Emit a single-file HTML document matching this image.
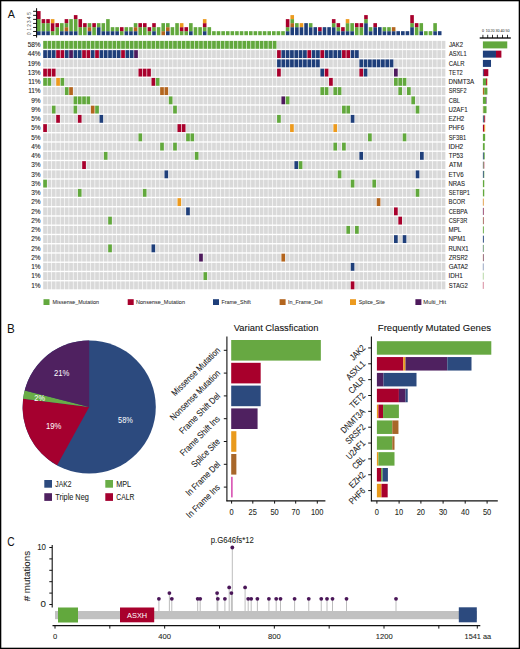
<!DOCTYPE html><html><head><meta charset="utf-8"><style>html,body{margin:0;padding:0;background:#fff;}svg{display:block;}</style></head><body>
<svg width="520" height="649" viewBox="0 0 520 649" font-family='"Liberation Sans", sans-serif'>
<style>text{stroke-width:0.08px;paint-order:stroke;} text[fill="#fff"]{stroke-width:0px} </style>
<rect x="0" y="0" width="520" height="649" fill="#fff"/>
<text x="7.77" y="17.9" font-size="11.8" fill="#111" stroke="#111" textLength="7.15" lengthAdjust="spacingAndGlyphs" style="stroke-width:0">A</text>
<rect x="43.2" y="40.9" width="3.72" height="7.9" fill="#62a83d"/>
<rect x="47.53" y="40.9" width="3.72" height="7.9" fill="#62a83d"/>
<rect x="51.86" y="40.9" width="3.72" height="7.9" fill="#62a83d"/>
<rect x="56.19" y="40.9" width="3.72" height="7.9" fill="#62a83d"/>
<rect x="60.52" y="40.9" width="3.72" height="7.9" fill="#62a83d"/>
<rect x="64.86" y="40.9" width="3.72" height="7.9" fill="#62a83d"/>
<rect x="69.19" y="40.9" width="3.72" height="7.9" fill="#62a83d"/>
<rect x="73.52" y="40.9" width="3.72" height="7.9" fill="#62a83d"/>
<rect x="77.85" y="40.9" width="3.72" height="7.9" fill="#62a83d"/>
<rect x="82.18" y="40.9" width="3.72" height="7.9" fill="#62a83d"/>
<rect x="86.51" y="40.9" width="3.72" height="7.9" fill="#62a83d"/>
<rect x="90.84" y="40.9" width="3.72" height="7.9" fill="#62a83d"/>
<rect x="95.17" y="40.9" width="3.72" height="7.9" fill="#62a83d"/>
<rect x="99.5" y="40.9" width="3.72" height="7.9" fill="#62a83d"/>
<rect x="103.83" y="40.9" width="3.72" height="7.9" fill="#62a83d"/>
<rect x="108.17" y="40.9" width="3.72" height="7.9" fill="#62a83d"/>
<rect x="112.5" y="40.9" width="3.72" height="7.9" fill="#62a83d"/>
<rect x="116.83" y="40.9" width="3.72" height="7.9" fill="#62a83d"/>
<rect x="121.16" y="40.9" width="3.72" height="7.9" fill="#62a83d"/>
<rect x="125.49" y="40.9" width="3.72" height="7.9" fill="#62a83d"/>
<rect x="129.82" y="40.9" width="3.72" height="7.9" fill="#62a83d"/>
<rect x="134.15" y="40.9" width="3.72" height="7.9" fill="#62a83d"/>
<rect x="138.48" y="40.9" width="3.72" height="7.9" fill="#62a83d"/>
<rect x="142.81" y="40.9" width="3.72" height="7.9" fill="#62a83d"/>
<rect x="147.14" y="40.9" width="3.72" height="7.9" fill="#62a83d"/>
<rect x="151.48" y="40.9" width="3.72" height="7.9" fill="#62a83d"/>
<rect x="155.81" y="40.9" width="3.72" height="7.9" fill="#62a83d"/>
<rect x="160.14" y="40.9" width="3.72" height="7.9" fill="#62a83d"/>
<rect x="164.47" y="40.9" width="3.72" height="7.9" fill="#62a83d"/>
<rect x="168.8" y="40.9" width="3.72" height="7.9" fill="#62a83d"/>
<rect x="173.13" y="40.9" width="3.72" height="7.9" fill="#62a83d"/>
<rect x="177.46" y="40.9" width="3.72" height="7.9" fill="#62a83d"/>
<rect x="181.79" y="40.9" width="3.72" height="7.9" fill="#62a83d"/>
<rect x="186.12" y="40.9" width="3.72" height="7.9" fill="#62a83d"/>
<rect x="190.45" y="40.9" width="3.72" height="7.9" fill="#62a83d"/>
<rect x="194.79" y="40.9" width="3.72" height="7.9" fill="#62a83d"/>
<rect x="199.12" y="40.9" width="3.72" height="7.9" fill="#62a83d"/>
<rect x="203.45" y="40.9" width="3.72" height="7.9" fill="#62a83d"/>
<rect x="207.78" y="40.9" width="3.72" height="7.9" fill="#62a83d"/>
<rect x="212.11" y="40.9" width="3.72" height="7.9" fill="#62a83d"/>
<rect x="216.44" y="40.9" width="3.72" height="7.9" fill="#62a83d"/>
<rect x="220.77" y="40.9" width="3.72" height="7.9" fill="#62a83d"/>
<rect x="225.1" y="40.9" width="3.72" height="7.9" fill="#62a83d"/>
<rect x="229.43" y="40.9" width="3.72" height="7.9" fill="#62a83d"/>
<rect x="233.76" y="40.9" width="3.72" height="7.9" fill="#62a83d"/>
<rect x="238.1" y="40.9" width="3.72" height="7.9" fill="#62a83d"/>
<rect x="242.43" y="40.9" width="3.72" height="7.9" fill="#62a83d"/>
<rect x="246.76" y="40.9" width="3.72" height="7.9" fill="#62a83d"/>
<rect x="251.09" y="40.9" width="3.72" height="7.9" fill="#62a83d"/>
<rect x="255.42" y="40.9" width="3.72" height="7.9" fill="#62a83d"/>
<rect x="259.75" y="40.9" width="3.72" height="7.9" fill="#62a83d"/>
<rect x="264.08" y="40.9" width="3.72" height="7.9" fill="#62a83d"/>
<rect x="268.41" y="40.9" width="3.72" height="7.9" fill="#62a83d"/>
<rect x="272.74" y="40.9" width="3.72" height="7.9" fill="#62a83d"/>
<rect x="277.07" y="40.9" width="3.72" height="7.9" fill="#d9d9d9"/>
<rect x="281.41" y="40.9" width="3.72" height="7.9" fill="#d9d9d9"/>
<rect x="285.74" y="40.9" width="3.72" height="7.9" fill="#d9d9d9"/>
<rect x="290.07" y="40.9" width="3.72" height="7.9" fill="#d9d9d9"/>
<rect x="294.4" y="40.9" width="3.72" height="7.9" fill="#d9d9d9"/>
<rect x="298.73" y="40.9" width="3.72" height="7.9" fill="#d9d9d9"/>
<rect x="303.06" y="40.9" width="3.72" height="7.9" fill="#d9d9d9"/>
<rect x="307.39" y="40.9" width="3.72" height="7.9" fill="#d9d9d9"/>
<rect x="311.72" y="40.9" width="3.72" height="7.9" fill="#d9d9d9"/>
<rect x="316.05" y="40.9" width="3.72" height="7.9" fill="#d9d9d9"/>
<rect x="320.38" y="40.9" width="3.72" height="7.9" fill="#d9d9d9"/>
<rect x="324.72" y="40.9" width="3.72" height="7.9" fill="#d9d9d9"/>
<rect x="329.05" y="40.9" width="3.72" height="7.9" fill="#d9d9d9"/>
<rect x="333.38" y="40.9" width="3.72" height="7.9" fill="#d9d9d9"/>
<rect x="337.71" y="40.9" width="3.72" height="7.9" fill="#d9d9d9"/>
<rect x="342.04" y="40.9" width="3.72" height="7.9" fill="#d9d9d9"/>
<rect x="346.37" y="40.9" width="3.72" height="7.9" fill="#d9d9d9"/>
<rect x="350.7" y="40.9" width="3.72" height="7.9" fill="#d9d9d9"/>
<rect x="355.03" y="40.9" width="3.72" height="7.9" fill="#d9d9d9"/>
<rect x="359.36" y="40.9" width="3.72" height="7.9" fill="#d9d9d9"/>
<rect x="363.69" y="40.9" width="3.72" height="7.9" fill="#d9d9d9"/>
<rect x="368.03" y="40.9" width="3.72" height="7.9" fill="#d9d9d9"/>
<rect x="372.36" y="40.9" width="3.72" height="7.9" fill="#d9d9d9"/>
<rect x="376.69" y="40.9" width="3.72" height="7.9" fill="#d9d9d9"/>
<rect x="381.02" y="40.9" width="3.72" height="7.9" fill="#d9d9d9"/>
<rect x="385.35" y="40.9" width="3.72" height="7.9" fill="#d9d9d9"/>
<rect x="389.68" y="40.9" width="3.72" height="7.9" fill="#d9d9d9"/>
<rect x="394.01" y="40.9" width="3.72" height="7.9" fill="#d9d9d9"/>
<rect x="398.34" y="40.9" width="3.72" height="7.9" fill="#d9d9d9"/>
<rect x="402.67" y="40.9" width="3.72" height="7.9" fill="#d9d9d9"/>
<rect x="407" y="40.9" width="3.72" height="7.9" fill="#d9d9d9"/>
<rect x="411.34" y="40.9" width="3.72" height="7.9" fill="#d9d9d9"/>
<rect x="415.67" y="40.9" width="3.72" height="7.9" fill="#d9d9d9"/>
<rect x="420" y="40.9" width="3.72" height="7.9" fill="#d9d9d9"/>
<rect x="424.33" y="40.9" width="3.72" height="7.9" fill="#d9d9d9"/>
<rect x="428.66" y="40.9" width="3.72" height="7.9" fill="#d9d9d9"/>
<rect x="432.99" y="40.9" width="3.72" height="7.9" fill="#d9d9d9"/>
<rect x="437.32" y="40.9" width="3.72" height="7.9" fill="#d9d9d9"/>
<rect x="441.65" y="40.9" width="3.72" height="7.9" fill="#d9d9d9"/>
<rect x="43.2" y="50.15" width="3.72" height="7.9" fill="#1f3f7a"/>
<rect x="47.53" y="50.15" width="3.72" height="7.9" fill="#1f3f7a"/>
<rect x="51.86" y="50.15" width="3.72" height="7.9" fill="#1f3f7a"/>
<rect x="56.19" y="50.15" width="3.72" height="7.9" fill="#a8002c"/>
<rect x="60.52" y="50.15" width="3.72" height="7.9" fill="#a8002c"/>
<rect x="64.86" y="50.15" width="3.72" height="7.9" fill="#1f3f7a"/>
<rect x="69.19" y="50.15" width="3.72" height="7.9" fill="#4e1a5c"/>
<rect x="73.52" y="50.15" width="3.72" height="7.9" fill="#1f3f7a"/>
<rect x="77.85" y="50.15" width="3.72" height="7.9" fill="#1f3f7a"/>
<rect x="82.18" y="50.15" width="3.72" height="7.9" fill="#a8002c"/>
<rect x="86.51" y="50.15" width="3.72" height="7.9" fill="#a8002c"/>
<rect x="90.84" y="50.15" width="3.72" height="7.9" fill="#1f3f7a"/>
<rect x="95.17" y="50.15" width="3.72" height="7.9" fill="#a8002c"/>
<rect x="99.5" y="50.15" width="3.72" height="7.9" fill="#1f3f7a"/>
<rect x="103.83" y="50.15" width="3.72" height="7.9" fill="#1f3f7a"/>
<rect x="108.17" y="50.15" width="3.72" height="7.9" fill="#1f3f7a"/>
<rect x="112.5" y="50.15" width="3.72" height="7.9" fill="#1f3f7a"/>
<rect x="116.83" y="50.15" width="3.72" height="7.9" fill="#1f3f7a"/>
<rect x="121.16" y="50.15" width="3.72" height="7.9" fill="#a8002c"/>
<rect x="125.49" y="50.15" width="3.72" height="7.9" fill="#1f3f7a"/>
<rect x="129.82" y="50.15" width="3.72" height="7.9" fill="#1f3f7a"/>
<rect x="134.15" y="50.15" width="3.72" height="7.9" fill="#4e1a5c"/>
<rect x="138.48" y="50.15" width="3.72" height="7.9" fill="#d9d9d9"/>
<rect x="142.81" y="50.15" width="3.72" height="7.9" fill="#d9d9d9"/>
<rect x="147.14" y="50.15" width="3.72" height="7.9" fill="#d9d9d9"/>
<rect x="151.48" y="50.15" width="3.72" height="7.9" fill="#d9d9d9"/>
<rect x="155.81" y="50.15" width="3.72" height="7.9" fill="#d9d9d9"/>
<rect x="160.14" y="50.15" width="3.72" height="7.9" fill="#d9d9d9"/>
<rect x="164.47" y="50.15" width="3.72" height="7.9" fill="#d9d9d9"/>
<rect x="168.8" y="50.15" width="3.72" height="7.9" fill="#d9d9d9"/>
<rect x="173.13" y="50.15" width="3.72" height="7.9" fill="#d9d9d9"/>
<rect x="177.46" y="50.15" width="3.72" height="7.9" fill="#d9d9d9"/>
<rect x="181.79" y="50.15" width="3.72" height="7.9" fill="#d9d9d9"/>
<rect x="186.12" y="50.15" width="3.72" height="7.9" fill="#d9d9d9"/>
<rect x="190.45" y="50.15" width="3.72" height="7.9" fill="#d9d9d9"/>
<rect x="194.79" y="50.15" width="3.72" height="7.9" fill="#d9d9d9"/>
<rect x="199.12" y="50.15" width="3.72" height="7.9" fill="#d9d9d9"/>
<rect x="203.45" y="50.15" width="3.72" height="7.9" fill="#d9d9d9"/>
<rect x="207.78" y="50.15" width="3.72" height="7.9" fill="#d9d9d9"/>
<rect x="212.11" y="50.15" width="3.72" height="7.9" fill="#d9d9d9"/>
<rect x="216.44" y="50.15" width="3.72" height="7.9" fill="#d9d9d9"/>
<rect x="220.77" y="50.15" width="3.72" height="7.9" fill="#d9d9d9"/>
<rect x="225.1" y="50.15" width="3.72" height="7.9" fill="#d9d9d9"/>
<rect x="229.43" y="50.15" width="3.72" height="7.9" fill="#d9d9d9"/>
<rect x="233.76" y="50.15" width="3.72" height="7.9" fill="#d9d9d9"/>
<rect x="238.1" y="50.15" width="3.72" height="7.9" fill="#d9d9d9"/>
<rect x="242.43" y="50.15" width="3.72" height="7.9" fill="#d9d9d9"/>
<rect x="246.76" y="50.15" width="3.72" height="7.9" fill="#d9d9d9"/>
<rect x="251.09" y="50.15" width="3.72" height="7.9" fill="#d9d9d9"/>
<rect x="255.42" y="50.15" width="3.72" height="7.9" fill="#d9d9d9"/>
<rect x="259.75" y="50.15" width="3.72" height="7.9" fill="#d9d9d9"/>
<rect x="264.08" y="50.15" width="3.72" height="7.9" fill="#d9d9d9"/>
<rect x="268.41" y="50.15" width="3.72" height="7.9" fill="#d9d9d9"/>
<rect x="272.74" y="50.15" width="3.72" height="7.9" fill="#d9d9d9"/>
<rect x="277.07" y="50.15" width="3.72" height="7.9" fill="#a8002c"/>
<rect x="281.41" y="50.15" width="3.72" height="7.9" fill="#1f3f7a"/>
<rect x="285.74" y="50.15" width="3.72" height="7.9" fill="#1f3f7a"/>
<rect x="290.07" y="50.15" width="3.72" height="7.9" fill="#1f3f7a"/>
<rect x="294.4" y="50.15" width="3.72" height="7.9" fill="#1f3f7a"/>
<rect x="298.73" y="50.15" width="3.72" height="7.9" fill="#1f3f7a"/>
<rect x="303.06" y="50.15" width="3.72" height="7.9" fill="#1f3f7a"/>
<rect x="307.39" y="50.15" width="3.72" height="7.9" fill="#a8002c"/>
<rect x="311.72" y="50.15" width="3.72" height="7.9" fill="#1f3f7a"/>
<rect x="316.05" y="50.15" width="3.72" height="7.9" fill="#1f3f7a"/>
<rect x="320.38" y="50.15" width="3.72" height="7.9" fill="#a8002c"/>
<rect x="324.72" y="50.15" width="3.72" height="7.9" fill="#1f3f7a"/>
<rect x="329.05" y="50.15" width="3.72" height="7.9" fill="#1f3f7a"/>
<rect x="333.38" y="50.15" width="3.72" height="7.9" fill="#1f3f7a"/>
<rect x="337.71" y="50.15" width="3.72" height="7.9" fill="#1f3f7a"/>
<rect x="342.04" y="50.15" width="3.72" height="7.9" fill="#a8002c"/>
<rect x="346.37" y="50.15" width="3.72" height="7.9" fill="#a8002c"/>
<rect x="350.7" y="50.15" width="3.72" height="7.9" fill="#1f3f7a"/>
<rect x="355.03" y="50.15" width="3.72" height="7.9" fill="#1f3f7a"/>
<rect x="359.36" y="50.15" width="3.72" height="7.9" fill="#d9d9d9"/>
<rect x="363.69" y="50.15" width="3.72" height="7.9" fill="#d9d9d9"/>
<rect x="368.03" y="50.15" width="3.72" height="7.9" fill="#d9d9d9"/>
<rect x="372.36" y="50.15" width="3.72" height="7.9" fill="#d9d9d9"/>
<rect x="376.69" y="50.15" width="3.72" height="7.9" fill="#d9d9d9"/>
<rect x="381.02" y="50.15" width="3.72" height="7.9" fill="#d9d9d9"/>
<rect x="385.35" y="50.15" width="3.72" height="7.9" fill="#d9d9d9"/>
<rect x="389.68" y="50.15" width="3.72" height="7.9" fill="#d9d9d9"/>
<rect x="394.01" y="50.15" width="3.72" height="7.9" fill="#d9d9d9"/>
<rect x="398.34" y="50.15" width="3.72" height="7.9" fill="#d9d9d9"/>
<rect x="402.67" y="50.15" width="3.72" height="7.9" fill="#d9d9d9"/>
<rect x="407" y="50.15" width="3.72" height="7.9" fill="#d9d9d9"/>
<rect x="411.34" y="50.15" width="3.72" height="7.9" fill="#d9d9d9"/>
<rect x="415.67" y="50.15" width="3.72" height="7.9" fill="#d9d9d9"/>
<rect x="420" y="50.15" width="3.72" height="7.9" fill="#d9d9d9"/>
<rect x="424.33" y="50.15" width="3.72" height="7.9" fill="#d9d9d9"/>
<rect x="428.66" y="50.15" width="3.72" height="7.9" fill="#d9d9d9"/>
<rect x="432.99" y="50.15" width="3.72" height="7.9" fill="#d9d9d9"/>
<rect x="437.32" y="50.15" width="3.72" height="7.9" fill="#d9d9d9"/>
<rect x="441.65" y="50.15" width="3.72" height="7.9" fill="#d9d9d9"/>
<rect x="43.2" y="59.4" width="3.72" height="7.9" fill="#d9d9d9"/>
<rect x="47.53" y="59.4" width="3.72" height="7.9" fill="#d9d9d9"/>
<rect x="51.86" y="59.4" width="3.72" height="7.9" fill="#d9d9d9"/>
<rect x="56.19" y="59.4" width="3.72" height="7.9" fill="#d9d9d9"/>
<rect x="60.52" y="59.4" width="3.72" height="7.9" fill="#d9d9d9"/>
<rect x="64.86" y="59.4" width="3.72" height="7.9" fill="#d9d9d9"/>
<rect x="69.19" y="59.4" width="3.72" height="7.9" fill="#d9d9d9"/>
<rect x="73.52" y="59.4" width="3.72" height="7.9" fill="#d9d9d9"/>
<rect x="77.85" y="59.4" width="3.72" height="7.9" fill="#d9d9d9"/>
<rect x="82.18" y="59.4" width="3.72" height="7.9" fill="#d9d9d9"/>
<rect x="86.51" y="59.4" width="3.72" height="7.9" fill="#d9d9d9"/>
<rect x="90.84" y="59.4" width="3.72" height="7.9" fill="#d9d9d9"/>
<rect x="95.17" y="59.4" width="3.72" height="7.9" fill="#d9d9d9"/>
<rect x="99.5" y="59.4" width="3.72" height="7.9" fill="#d9d9d9"/>
<rect x="103.83" y="59.4" width="3.72" height="7.9" fill="#d9d9d9"/>
<rect x="108.17" y="59.4" width="3.72" height="7.9" fill="#d9d9d9"/>
<rect x="112.5" y="59.4" width="3.72" height="7.9" fill="#d9d9d9"/>
<rect x="116.83" y="59.4" width="3.72" height="7.9" fill="#d9d9d9"/>
<rect x="121.16" y="59.4" width="3.72" height="7.9" fill="#d9d9d9"/>
<rect x="125.49" y="59.4" width="3.72" height="7.9" fill="#d9d9d9"/>
<rect x="129.82" y="59.4" width="3.72" height="7.9" fill="#d9d9d9"/>
<rect x="134.15" y="59.4" width="3.72" height="7.9" fill="#d9d9d9"/>
<rect x="138.48" y="59.4" width="3.72" height="7.9" fill="#d9d9d9"/>
<rect x="142.81" y="59.4" width="3.72" height="7.9" fill="#d9d9d9"/>
<rect x="147.14" y="59.4" width="3.72" height="7.9" fill="#d9d9d9"/>
<rect x="151.48" y="59.4" width="3.72" height="7.9" fill="#d9d9d9"/>
<rect x="155.81" y="59.4" width="3.72" height="7.9" fill="#d9d9d9"/>
<rect x="160.14" y="59.4" width="3.72" height="7.9" fill="#d9d9d9"/>
<rect x="164.47" y="59.4" width="3.72" height="7.9" fill="#d9d9d9"/>
<rect x="168.8" y="59.4" width="3.72" height="7.9" fill="#d9d9d9"/>
<rect x="173.13" y="59.4" width="3.72" height="7.9" fill="#d9d9d9"/>
<rect x="177.46" y="59.4" width="3.72" height="7.9" fill="#d9d9d9"/>
<rect x="181.79" y="59.4" width="3.72" height="7.9" fill="#d9d9d9"/>
<rect x="186.12" y="59.4" width="3.72" height="7.9" fill="#d9d9d9"/>
<rect x="190.45" y="59.4" width="3.72" height="7.9" fill="#d9d9d9"/>
<rect x="194.79" y="59.4" width="3.72" height="7.9" fill="#d9d9d9"/>
<rect x="199.12" y="59.4" width="3.72" height="7.9" fill="#d9d9d9"/>
<rect x="203.45" y="59.4" width="3.72" height="7.9" fill="#d9d9d9"/>
<rect x="207.78" y="59.4" width="3.72" height="7.9" fill="#d9d9d9"/>
<rect x="212.11" y="59.4" width="3.72" height="7.9" fill="#d9d9d9"/>
<rect x="216.44" y="59.4" width="3.72" height="7.9" fill="#d9d9d9"/>
<rect x="220.77" y="59.4" width="3.72" height="7.9" fill="#d9d9d9"/>
<rect x="225.1" y="59.4" width="3.72" height="7.9" fill="#d9d9d9"/>
<rect x="229.43" y="59.4" width="3.72" height="7.9" fill="#d9d9d9"/>
<rect x="233.76" y="59.4" width="3.72" height="7.9" fill="#d9d9d9"/>
<rect x="238.1" y="59.4" width="3.72" height="7.9" fill="#d9d9d9"/>
<rect x="242.43" y="59.4" width="3.72" height="7.9" fill="#d9d9d9"/>
<rect x="246.76" y="59.4" width="3.72" height="7.9" fill="#d9d9d9"/>
<rect x="251.09" y="59.4" width="3.72" height="7.9" fill="#d9d9d9"/>
<rect x="255.42" y="59.4" width="3.72" height="7.9" fill="#d9d9d9"/>
<rect x="259.75" y="59.4" width="3.72" height="7.9" fill="#d9d9d9"/>
<rect x="264.08" y="59.4" width="3.72" height="7.9" fill="#d9d9d9"/>
<rect x="268.41" y="59.4" width="3.72" height="7.9" fill="#d9d9d9"/>
<rect x="272.74" y="59.4" width="3.72" height="7.9" fill="#d9d9d9"/>
<rect x="277.07" y="59.4" width="3.72" height="7.9" fill="#1f3f7a"/>
<rect x="281.41" y="59.4" width="3.72" height="7.9" fill="#1f3f7a"/>
<rect x="285.74" y="59.4" width="3.72" height="7.9" fill="#1f3f7a"/>
<rect x="290.07" y="59.4" width="3.72" height="7.9" fill="#1f3f7a"/>
<rect x="294.4" y="59.4" width="3.72" height="7.9" fill="#1f3f7a"/>
<rect x="298.73" y="59.4" width="3.72" height="7.9" fill="#1f3f7a"/>
<rect x="303.06" y="59.4" width="3.72" height="7.9" fill="#1f3f7a"/>
<rect x="307.39" y="59.4" width="3.72" height="7.9" fill="#1f3f7a"/>
<rect x="311.72" y="59.4" width="3.72" height="7.9" fill="#1f3f7a"/>
<rect x="316.05" y="59.4" width="3.72" height="7.9" fill="#1f3f7a"/>
<rect x="320.38" y="59.4" width="3.72" height="7.9" fill="#d9d9d9"/>
<rect x="324.72" y="59.4" width="3.72" height="7.9" fill="#d9d9d9"/>
<rect x="329.05" y="59.4" width="3.72" height="7.9" fill="#d9d9d9"/>
<rect x="333.38" y="59.4" width="3.72" height="7.9" fill="#d9d9d9"/>
<rect x="337.71" y="59.4" width="3.72" height="7.9" fill="#d9d9d9"/>
<rect x="342.04" y="59.4" width="3.72" height="7.9" fill="#d9d9d9"/>
<rect x="346.37" y="59.4" width="3.72" height="7.9" fill="#d9d9d9"/>
<rect x="350.7" y="59.4" width="3.72" height="7.9" fill="#d9d9d9"/>
<rect x="355.03" y="59.4" width="3.72" height="7.9" fill="#d9d9d9"/>
<rect x="359.36" y="59.4" width="3.72" height="7.9" fill="#1f3f7a"/>
<rect x="363.69" y="59.4" width="3.72" height="7.9" fill="#1f3f7a"/>
<rect x="368.03" y="59.4" width="3.72" height="7.9" fill="#1f3f7a"/>
<rect x="372.36" y="59.4" width="3.72" height="7.9" fill="#1f3f7a"/>
<rect x="376.69" y="59.4" width="3.72" height="7.9" fill="#1f3f7a"/>
<rect x="381.02" y="59.4" width="3.72" height="7.9" fill="#1f3f7a"/>
<rect x="385.35" y="59.4" width="3.72" height="7.9" fill="#1f3f7a"/>
<rect x="389.68" y="59.4" width="3.72" height="7.9" fill="#1f3f7a"/>
<rect x="394.01" y="59.4" width="3.72" height="7.9" fill="#d9d9d9"/>
<rect x="398.34" y="59.4" width="3.72" height="7.9" fill="#d9d9d9"/>
<rect x="402.67" y="59.4" width="3.72" height="7.9" fill="#d9d9d9"/>
<rect x="407" y="59.4" width="3.72" height="7.9" fill="#d9d9d9"/>
<rect x="411.34" y="59.4" width="3.72" height="7.9" fill="#d9d9d9"/>
<rect x="415.67" y="59.4" width="3.72" height="7.9" fill="#d9d9d9"/>
<rect x="420" y="59.4" width="3.72" height="7.9" fill="#d9d9d9"/>
<rect x="424.33" y="59.4" width="3.72" height="7.9" fill="#d9d9d9"/>
<rect x="428.66" y="59.4" width="3.72" height="7.9" fill="#d9d9d9"/>
<rect x="432.99" y="59.4" width="3.72" height="7.9" fill="#d9d9d9"/>
<rect x="437.32" y="59.4" width="3.72" height="7.9" fill="#d9d9d9"/>
<rect x="441.65" y="59.4" width="3.72" height="7.9" fill="#d9d9d9"/>
<rect x="43.2" y="68.65" width="3.72" height="7.9" fill="#a8002c"/>
<rect x="47.53" y="68.65" width="3.72" height="7.9" fill="#a8002c"/>
<rect x="51.86" y="68.65" width="3.72" height="7.9" fill="#a8002c"/>
<rect x="56.19" y="68.65" width="3.72" height="7.9" fill="#d9d9d9"/>
<rect x="60.52" y="68.65" width="3.72" height="7.9" fill="#d9d9d9"/>
<rect x="64.86" y="68.65" width="3.72" height="7.9" fill="#d9d9d9"/>
<rect x="69.19" y="68.65" width="3.72" height="7.9" fill="#d9d9d9"/>
<rect x="73.52" y="68.65" width="3.72" height="7.9" fill="#d9d9d9"/>
<rect x="77.85" y="68.65" width="3.72" height="7.9" fill="#d9d9d9"/>
<rect x="82.18" y="68.65" width="3.72" height="7.9" fill="#d9d9d9"/>
<rect x="86.51" y="68.65" width="3.72" height="7.9" fill="#d9d9d9"/>
<rect x="90.84" y="68.65" width="3.72" height="7.9" fill="#d9d9d9"/>
<rect x="95.17" y="68.65" width="3.72" height="7.9" fill="#d9d9d9"/>
<rect x="99.5" y="68.65" width="3.72" height="7.9" fill="#d9d9d9"/>
<rect x="103.83" y="68.65" width="3.72" height="7.9" fill="#d9d9d9"/>
<rect x="108.17" y="68.65" width="3.72" height="7.9" fill="#d9d9d9"/>
<rect x="112.5" y="68.65" width="3.72" height="7.9" fill="#d9d9d9"/>
<rect x="116.83" y="68.65" width="3.72" height="7.9" fill="#d9d9d9"/>
<rect x="121.16" y="68.65" width="3.72" height="7.9" fill="#d9d9d9"/>
<rect x="125.49" y="68.65" width="3.72" height="7.9" fill="#d9d9d9"/>
<rect x="129.82" y="68.65" width="3.72" height="7.9" fill="#d9d9d9"/>
<rect x="134.15" y="68.65" width="3.72" height="7.9" fill="#d9d9d9"/>
<rect x="138.48" y="68.65" width="3.72" height="7.9" fill="#a8002c"/>
<rect x="142.81" y="68.65" width="3.72" height="7.9" fill="#a8002c"/>
<rect x="147.14" y="68.65" width="3.72" height="7.9" fill="#a8002c"/>
<rect x="151.48" y="68.65" width="3.72" height="7.9" fill="#d9d9d9"/>
<rect x="155.81" y="68.65" width="3.72" height="7.9" fill="#d9d9d9"/>
<rect x="160.14" y="68.65" width="3.72" height="7.9" fill="#d9d9d9"/>
<rect x="164.47" y="68.65" width="3.72" height="7.9" fill="#d9d9d9"/>
<rect x="168.8" y="68.65" width="3.72" height="7.9" fill="#d9d9d9"/>
<rect x="173.13" y="68.65" width="3.72" height="7.9" fill="#d9d9d9"/>
<rect x="177.46" y="68.65" width="3.72" height="7.9" fill="#d9d9d9"/>
<rect x="181.79" y="68.65" width="3.72" height="7.9" fill="#d9d9d9"/>
<rect x="186.12" y="68.65" width="3.72" height="7.9" fill="#d9d9d9"/>
<rect x="190.45" y="68.65" width="3.72" height="7.9" fill="#d9d9d9"/>
<rect x="194.79" y="68.65" width="3.72" height="7.9" fill="#d9d9d9"/>
<rect x="199.12" y="68.65" width="3.72" height="7.9" fill="#d9d9d9"/>
<rect x="203.45" y="68.65" width="3.72" height="7.9" fill="#d9d9d9"/>
<rect x="207.78" y="68.65" width="3.72" height="7.9" fill="#d9d9d9"/>
<rect x="212.11" y="68.65" width="3.72" height="7.9" fill="#d9d9d9"/>
<rect x="216.44" y="68.65" width="3.72" height="7.9" fill="#d9d9d9"/>
<rect x="220.77" y="68.65" width="3.72" height="7.9" fill="#d9d9d9"/>
<rect x="225.1" y="68.65" width="3.72" height="7.9" fill="#d9d9d9"/>
<rect x="229.43" y="68.65" width="3.72" height="7.9" fill="#d9d9d9"/>
<rect x="233.76" y="68.65" width="3.72" height="7.9" fill="#d9d9d9"/>
<rect x="238.1" y="68.65" width="3.72" height="7.9" fill="#d9d9d9"/>
<rect x="242.43" y="68.65" width="3.72" height="7.9" fill="#d9d9d9"/>
<rect x="246.76" y="68.65" width="3.72" height="7.9" fill="#d9d9d9"/>
<rect x="251.09" y="68.65" width="3.72" height="7.9" fill="#d9d9d9"/>
<rect x="255.42" y="68.65" width="3.72" height="7.9" fill="#d9d9d9"/>
<rect x="259.75" y="68.65" width="3.72" height="7.9" fill="#d9d9d9"/>
<rect x="264.08" y="68.65" width="3.72" height="7.9" fill="#d9d9d9"/>
<rect x="268.41" y="68.65" width="3.72" height="7.9" fill="#d9d9d9"/>
<rect x="272.74" y="68.65" width="3.72" height="7.9" fill="#d9d9d9"/>
<rect x="277.07" y="68.65" width="3.72" height="7.9" fill="#a8002c"/>
<rect x="281.41" y="68.65" width="3.72" height="7.9" fill="#d9d9d9"/>
<rect x="285.74" y="68.65" width="3.72" height="7.9" fill="#d9d9d9"/>
<rect x="290.07" y="68.65" width="3.72" height="7.9" fill="#d9d9d9"/>
<rect x="294.4" y="68.65" width="3.72" height="7.9" fill="#d9d9d9"/>
<rect x="298.73" y="68.65" width="3.72" height="7.9" fill="#d9d9d9"/>
<rect x="303.06" y="68.65" width="3.72" height="7.9" fill="#d9d9d9"/>
<rect x="307.39" y="68.65" width="3.72" height="7.9" fill="#d9d9d9"/>
<rect x="311.72" y="68.65" width="3.72" height="7.9" fill="#d9d9d9"/>
<rect x="316.05" y="68.65" width="3.72" height="7.9" fill="#d9d9d9"/>
<rect x="320.38" y="68.65" width="3.72" height="7.9" fill="#1f3f7a"/>
<rect x="324.72" y="68.65" width="3.72" height="7.9" fill="#a8002c"/>
<rect x="329.05" y="68.65" width="3.72" height="7.9" fill="#d9d9d9"/>
<rect x="333.38" y="68.65" width="3.72" height="7.9" fill="#d9d9d9"/>
<rect x="337.71" y="68.65" width="3.72" height="7.9" fill="#d9d9d9"/>
<rect x="342.04" y="68.65" width="3.72" height="7.9" fill="#d9d9d9"/>
<rect x="346.37" y="68.65" width="3.72" height="7.9" fill="#d9d9d9"/>
<rect x="350.7" y="68.65" width="3.72" height="7.9" fill="#d9d9d9"/>
<rect x="355.03" y="68.65" width="3.72" height="7.9" fill="#d9d9d9"/>
<rect x="359.36" y="68.65" width="3.72" height="7.9" fill="#a8002c"/>
<rect x="363.69" y="68.65" width="3.72" height="7.9" fill="#1f3f7a"/>
<rect x="368.03" y="68.65" width="3.72" height="7.9" fill="#d9d9d9"/>
<rect x="372.36" y="68.65" width="3.72" height="7.9" fill="#d9d9d9"/>
<rect x="376.69" y="68.65" width="3.72" height="7.9" fill="#d9d9d9"/>
<rect x="381.02" y="68.65" width="3.72" height="7.9" fill="#d9d9d9"/>
<rect x="385.35" y="68.65" width="3.72" height="7.9" fill="#d9d9d9"/>
<rect x="389.68" y="68.65" width="3.72" height="7.9" fill="#d9d9d9"/>
<rect x="394.01" y="68.65" width="3.72" height="7.9" fill="#4e1a5c"/>
<rect x="398.34" y="68.65" width="3.72" height="7.9" fill="#d9d9d9"/>
<rect x="402.67" y="68.65" width="3.72" height="7.9" fill="#d9d9d9"/>
<rect x="407" y="68.65" width="3.72" height="7.9" fill="#d9d9d9"/>
<rect x="411.34" y="68.65" width="3.72" height="7.9" fill="#d9d9d9"/>
<rect x="415.67" y="68.65" width="3.72" height="7.9" fill="#d9d9d9"/>
<rect x="420" y="68.65" width="3.72" height="7.9" fill="#d9d9d9"/>
<rect x="424.33" y="68.65" width="3.72" height="7.9" fill="#d9d9d9"/>
<rect x="428.66" y="68.65" width="3.72" height="7.9" fill="#d9d9d9"/>
<rect x="432.99" y="68.65" width="3.72" height="7.9" fill="#d9d9d9"/>
<rect x="437.32" y="68.65" width="3.72" height="7.9" fill="#d9d9d9"/>
<rect x="441.65" y="68.65" width="3.72" height="7.9" fill="#d9d9d9"/>
<rect x="43.2" y="77.9" width="3.72" height="7.9" fill="#62a83d"/>
<rect x="47.53" y="77.9" width="3.72" height="7.9" fill="#62a83d"/>
<rect x="51.86" y="77.9" width="3.72" height="7.9" fill="#d9d9d9"/>
<rect x="56.19" y="77.9" width="3.72" height="7.9" fill="#ec9a1e"/>
<rect x="60.52" y="77.9" width="3.72" height="7.9" fill="#62a83d"/>
<rect x="64.86" y="77.9" width="3.72" height="7.9" fill="#d9d9d9"/>
<rect x="69.19" y="77.9" width="3.72" height="7.9" fill="#d9d9d9"/>
<rect x="73.52" y="77.9" width="3.72" height="7.9" fill="#d9d9d9"/>
<rect x="77.85" y="77.9" width="3.72" height="7.9" fill="#d9d9d9"/>
<rect x="82.18" y="77.9" width="3.72" height="7.9" fill="#d9d9d9"/>
<rect x="86.51" y="77.9" width="3.72" height="7.9" fill="#d9d9d9"/>
<rect x="90.84" y="77.9" width="3.72" height="7.9" fill="#d9d9d9"/>
<rect x="95.17" y="77.9" width="3.72" height="7.9" fill="#d9d9d9"/>
<rect x="99.5" y="77.9" width="3.72" height="7.9" fill="#d9d9d9"/>
<rect x="103.83" y="77.9" width="3.72" height="7.9" fill="#d9d9d9"/>
<rect x="108.17" y="77.9" width="3.72" height="7.9" fill="#d9d9d9"/>
<rect x="112.5" y="77.9" width="3.72" height="7.9" fill="#d9d9d9"/>
<rect x="116.83" y="77.9" width="3.72" height="7.9" fill="#d9d9d9"/>
<rect x="121.16" y="77.9" width="3.72" height="7.9" fill="#d9d9d9"/>
<rect x="125.49" y="77.9" width="3.72" height="7.9" fill="#d9d9d9"/>
<rect x="129.82" y="77.9" width="3.72" height="7.9" fill="#d9d9d9"/>
<rect x="134.15" y="77.9" width="3.72" height="7.9" fill="#d9d9d9"/>
<rect x="138.48" y="77.9" width="3.72" height="7.9" fill="#d9d9d9"/>
<rect x="142.81" y="77.9" width="3.72" height="7.9" fill="#d9d9d9"/>
<rect x="147.14" y="77.9" width="3.72" height="7.9" fill="#d9d9d9"/>
<rect x="151.48" y="77.9" width="3.72" height="7.9" fill="#a8002c"/>
<rect x="155.81" y="77.9" width="3.72" height="7.9" fill="#62a83d"/>
<rect x="160.14" y="77.9" width="3.72" height="7.9" fill="#d9d9d9"/>
<rect x="164.47" y="77.9" width="3.72" height="7.9" fill="#d9d9d9"/>
<rect x="168.8" y="77.9" width="3.72" height="7.9" fill="#d9d9d9"/>
<rect x="173.13" y="77.9" width="3.72" height="7.9" fill="#d9d9d9"/>
<rect x="177.46" y="77.9" width="3.72" height="7.9" fill="#d9d9d9"/>
<rect x="181.79" y="77.9" width="3.72" height="7.9" fill="#d9d9d9"/>
<rect x="186.12" y="77.9" width="3.72" height="7.9" fill="#d9d9d9"/>
<rect x="190.45" y="77.9" width="3.72" height="7.9" fill="#d9d9d9"/>
<rect x="194.79" y="77.9" width="3.72" height="7.9" fill="#d9d9d9"/>
<rect x="199.12" y="77.9" width="3.72" height="7.9" fill="#d9d9d9"/>
<rect x="203.45" y="77.9" width="3.72" height="7.9" fill="#d9d9d9"/>
<rect x="207.78" y="77.9" width="3.72" height="7.9" fill="#d9d9d9"/>
<rect x="212.11" y="77.9" width="3.72" height="7.9" fill="#d9d9d9"/>
<rect x="216.44" y="77.9" width="3.72" height="7.9" fill="#d9d9d9"/>
<rect x="220.77" y="77.9" width="3.72" height="7.9" fill="#d9d9d9"/>
<rect x="225.1" y="77.9" width="3.72" height="7.9" fill="#d9d9d9"/>
<rect x="229.43" y="77.9" width="3.72" height="7.9" fill="#d9d9d9"/>
<rect x="233.76" y="77.9" width="3.72" height="7.9" fill="#d9d9d9"/>
<rect x="238.1" y="77.9" width="3.72" height="7.9" fill="#d9d9d9"/>
<rect x="242.43" y="77.9" width="3.72" height="7.9" fill="#d9d9d9"/>
<rect x="246.76" y="77.9" width="3.72" height="7.9" fill="#d9d9d9"/>
<rect x="251.09" y="77.9" width="3.72" height="7.9" fill="#d9d9d9"/>
<rect x="255.42" y="77.9" width="3.72" height="7.9" fill="#d9d9d9"/>
<rect x="259.75" y="77.9" width="3.72" height="7.9" fill="#d9d9d9"/>
<rect x="264.08" y="77.9" width="3.72" height="7.9" fill="#d9d9d9"/>
<rect x="268.41" y="77.9" width="3.72" height="7.9" fill="#d9d9d9"/>
<rect x="272.74" y="77.9" width="3.72" height="7.9" fill="#d9d9d9"/>
<rect x="277.07" y="77.9" width="3.72" height="7.9" fill="#d9d9d9"/>
<rect x="281.41" y="77.9" width="3.72" height="7.9" fill="#d9d9d9"/>
<rect x="285.74" y="77.9" width="3.72" height="7.9" fill="#d9d9d9"/>
<rect x="290.07" y="77.9" width="3.72" height="7.9" fill="#d9d9d9"/>
<rect x="294.4" y="77.9" width="3.72" height="7.9" fill="#d9d9d9"/>
<rect x="298.73" y="77.9" width="3.72" height="7.9" fill="#d9d9d9"/>
<rect x="303.06" y="77.9" width="3.72" height="7.9" fill="#d9d9d9"/>
<rect x="307.39" y="77.9" width="3.72" height="7.9" fill="#d9d9d9"/>
<rect x="311.72" y="77.9" width="3.72" height="7.9" fill="#d9d9d9"/>
<rect x="316.05" y="77.9" width="3.72" height="7.9" fill="#d9d9d9"/>
<rect x="320.38" y="77.9" width="3.72" height="7.9" fill="#d9d9d9"/>
<rect x="324.72" y="77.9" width="3.72" height="7.9" fill="#d9d9d9"/>
<rect x="329.05" y="77.9" width="3.72" height="7.9" fill="#a8002c"/>
<rect x="333.38" y="77.9" width="3.72" height="7.9" fill="#d9d9d9"/>
<rect x="337.71" y="77.9" width="3.72" height="7.9" fill="#d9d9d9"/>
<rect x="342.04" y="77.9" width="3.72" height="7.9" fill="#d9d9d9"/>
<rect x="346.37" y="77.9" width="3.72" height="7.9" fill="#d9d9d9"/>
<rect x="350.7" y="77.9" width="3.72" height="7.9" fill="#d9d9d9"/>
<rect x="355.03" y="77.9" width="3.72" height="7.9" fill="#d9d9d9"/>
<rect x="359.36" y="77.9" width="3.72" height="7.9" fill="#d9d9d9"/>
<rect x="363.69" y="77.9" width="3.72" height="7.9" fill="#d9d9d9"/>
<rect x="368.03" y="77.9" width="3.72" height="7.9" fill="#d9d9d9"/>
<rect x="372.36" y="77.9" width="3.72" height="7.9" fill="#d9d9d9"/>
<rect x="376.69" y="77.9" width="3.72" height="7.9" fill="#d9d9d9"/>
<rect x="381.02" y="77.9" width="3.72" height="7.9" fill="#d9d9d9"/>
<rect x="385.35" y="77.9" width="3.72" height="7.9" fill="#d9d9d9"/>
<rect x="389.68" y="77.9" width="3.72" height="7.9" fill="#d9d9d9"/>
<rect x="394.01" y="77.9" width="3.72" height="7.9" fill="#62a83d"/>
<rect x="398.34" y="77.9" width="3.72" height="7.9" fill="#62a83d"/>
<rect x="402.67" y="77.9" width="3.72" height="7.9" fill="#62a83d"/>
<rect x="407" y="77.9" width="3.72" height="7.9" fill="#d9d9d9"/>
<rect x="411.34" y="77.9" width="3.72" height="7.9" fill="#d9d9d9"/>
<rect x="415.67" y="77.9" width="3.72" height="7.9" fill="#d9d9d9"/>
<rect x="420" y="77.9" width="3.72" height="7.9" fill="#d9d9d9"/>
<rect x="424.33" y="77.9" width="3.72" height="7.9" fill="#d9d9d9"/>
<rect x="428.66" y="77.9" width="3.72" height="7.9" fill="#d9d9d9"/>
<rect x="432.99" y="77.9" width="3.72" height="7.9" fill="#d9d9d9"/>
<rect x="437.32" y="77.9" width="3.72" height="7.9" fill="#d9d9d9"/>
<rect x="441.65" y="77.9" width="3.72" height="7.9" fill="#d9d9d9"/>
<rect x="43.2" y="87.15" width="3.72" height="7.9" fill="#d9d9d9"/>
<rect x="47.53" y="87.15" width="3.72" height="7.9" fill="#d9d9d9"/>
<rect x="51.86" y="87.15" width="3.72" height="7.9" fill="#d9d9d9"/>
<rect x="56.19" y="87.15" width="3.72" height="7.9" fill="#d9d9d9"/>
<rect x="60.52" y="87.15" width="3.72" height="7.9" fill="#d9d9d9"/>
<rect x="64.86" y="87.15" width="3.72" height="7.9" fill="#62a83d"/>
<rect x="69.19" y="87.15" width="3.72" height="7.9" fill="#b3651e"/>
<rect x="73.52" y="87.15" width="3.72" height="7.9" fill="#d9d9d9"/>
<rect x="77.85" y="87.15" width="3.72" height="7.9" fill="#d9d9d9"/>
<rect x="82.18" y="87.15" width="3.72" height="7.9" fill="#d9d9d9"/>
<rect x="86.51" y="87.15" width="3.72" height="7.9" fill="#d9d9d9"/>
<rect x="90.84" y="87.15" width="3.72" height="7.9" fill="#d9d9d9"/>
<rect x="95.17" y="87.15" width="3.72" height="7.9" fill="#d9d9d9"/>
<rect x="99.5" y="87.15" width="3.72" height="7.9" fill="#d9d9d9"/>
<rect x="103.83" y="87.15" width="3.72" height="7.9" fill="#d9d9d9"/>
<rect x="108.17" y="87.15" width="3.72" height="7.9" fill="#d9d9d9"/>
<rect x="112.5" y="87.15" width="3.72" height="7.9" fill="#d9d9d9"/>
<rect x="116.83" y="87.15" width="3.72" height="7.9" fill="#d9d9d9"/>
<rect x="121.16" y="87.15" width="3.72" height="7.9" fill="#d9d9d9"/>
<rect x="125.49" y="87.15" width="3.72" height="7.9" fill="#d9d9d9"/>
<rect x="129.82" y="87.15" width="3.72" height="7.9" fill="#d9d9d9"/>
<rect x="134.15" y="87.15" width="3.72" height="7.9" fill="#d9d9d9"/>
<rect x="138.48" y="87.15" width="3.72" height="7.9" fill="#d9d9d9"/>
<rect x="142.81" y="87.15" width="3.72" height="7.9" fill="#d9d9d9"/>
<rect x="147.14" y="87.15" width="3.72" height="7.9" fill="#d9d9d9"/>
<rect x="151.48" y="87.15" width="3.72" height="7.9" fill="#d9d9d9"/>
<rect x="155.81" y="87.15" width="3.72" height="7.9" fill="#d9d9d9"/>
<rect x="160.14" y="87.15" width="3.72" height="7.9" fill="#b3651e"/>
<rect x="164.47" y="87.15" width="3.72" height="7.9" fill="#b3651e"/>
<rect x="168.8" y="87.15" width="3.72" height="7.9" fill="#d9d9d9"/>
<rect x="173.13" y="87.15" width="3.72" height="7.9" fill="#d9d9d9"/>
<rect x="177.46" y="87.15" width="3.72" height="7.9" fill="#d9d9d9"/>
<rect x="181.79" y="87.15" width="3.72" height="7.9" fill="#d9d9d9"/>
<rect x="186.12" y="87.15" width="3.72" height="7.9" fill="#d9d9d9"/>
<rect x="190.45" y="87.15" width="3.72" height="7.9" fill="#d9d9d9"/>
<rect x="194.79" y="87.15" width="3.72" height="7.9" fill="#d9d9d9"/>
<rect x="199.12" y="87.15" width="3.72" height="7.9" fill="#d9d9d9"/>
<rect x="203.45" y="87.15" width="3.72" height="7.9" fill="#d9d9d9"/>
<rect x="207.78" y="87.15" width="3.72" height="7.9" fill="#d9d9d9"/>
<rect x="212.11" y="87.15" width="3.72" height="7.9" fill="#d9d9d9"/>
<rect x="216.44" y="87.15" width="3.72" height="7.9" fill="#d9d9d9"/>
<rect x="220.77" y="87.15" width="3.72" height="7.9" fill="#d9d9d9"/>
<rect x="225.1" y="87.15" width="3.72" height="7.9" fill="#d9d9d9"/>
<rect x="229.43" y="87.15" width="3.72" height="7.9" fill="#d9d9d9"/>
<rect x="233.76" y="87.15" width="3.72" height="7.9" fill="#d9d9d9"/>
<rect x="238.1" y="87.15" width="3.72" height="7.9" fill="#d9d9d9"/>
<rect x="242.43" y="87.15" width="3.72" height="7.9" fill="#d9d9d9"/>
<rect x="246.76" y="87.15" width="3.72" height="7.9" fill="#d9d9d9"/>
<rect x="251.09" y="87.15" width="3.72" height="7.9" fill="#d9d9d9"/>
<rect x="255.42" y="87.15" width="3.72" height="7.9" fill="#d9d9d9"/>
<rect x="259.75" y="87.15" width="3.72" height="7.9" fill="#d9d9d9"/>
<rect x="264.08" y="87.15" width="3.72" height="7.9" fill="#d9d9d9"/>
<rect x="268.41" y="87.15" width="3.72" height="7.9" fill="#d9d9d9"/>
<rect x="272.74" y="87.15" width="3.72" height="7.9" fill="#d9d9d9"/>
<rect x="277.07" y="87.15" width="3.72" height="7.9" fill="#d9d9d9"/>
<rect x="281.41" y="87.15" width="3.72" height="7.9" fill="#d9d9d9"/>
<rect x="285.74" y="87.15" width="3.72" height="7.9" fill="#d9d9d9"/>
<rect x="290.07" y="87.15" width="3.72" height="7.9" fill="#d9d9d9"/>
<rect x="294.4" y="87.15" width="3.72" height="7.9" fill="#d9d9d9"/>
<rect x="298.73" y="87.15" width="3.72" height="7.9" fill="#d9d9d9"/>
<rect x="303.06" y="87.15" width="3.72" height="7.9" fill="#d9d9d9"/>
<rect x="307.39" y="87.15" width="3.72" height="7.9" fill="#d9d9d9"/>
<rect x="311.72" y="87.15" width="3.72" height="7.9" fill="#d9d9d9"/>
<rect x="316.05" y="87.15" width="3.72" height="7.9" fill="#d9d9d9"/>
<rect x="320.38" y="87.15" width="3.72" height="7.9" fill="#62a83d"/>
<rect x="324.72" y="87.15" width="3.72" height="7.9" fill="#62a83d"/>
<rect x="329.05" y="87.15" width="3.72" height="7.9" fill="#d9d9d9"/>
<rect x="333.38" y="87.15" width="3.72" height="7.9" fill="#62a83d"/>
<rect x="337.71" y="87.15" width="3.72" height="7.9" fill="#62a83d"/>
<rect x="342.04" y="87.15" width="3.72" height="7.9" fill="#d9d9d9"/>
<rect x="346.37" y="87.15" width="3.72" height="7.9" fill="#d9d9d9"/>
<rect x="350.7" y="87.15" width="3.72" height="7.9" fill="#d9d9d9"/>
<rect x="355.03" y="87.15" width="3.72" height="7.9" fill="#d9d9d9"/>
<rect x="359.36" y="87.15" width="3.72" height="7.9" fill="#d9d9d9"/>
<rect x="363.69" y="87.15" width="3.72" height="7.9" fill="#d9d9d9"/>
<rect x="368.03" y="87.15" width="3.72" height="7.9" fill="#d9d9d9"/>
<rect x="372.36" y="87.15" width="3.72" height="7.9" fill="#d9d9d9"/>
<rect x="376.69" y="87.15" width="3.72" height="7.9" fill="#d9d9d9"/>
<rect x="381.02" y="87.15" width="3.72" height="7.9" fill="#d9d9d9"/>
<rect x="385.35" y="87.15" width="3.72" height="7.9" fill="#d9d9d9"/>
<rect x="389.68" y="87.15" width="3.72" height="7.9" fill="#d9d9d9"/>
<rect x="394.01" y="87.15" width="3.72" height="7.9" fill="#d9d9d9"/>
<rect x="398.34" y="87.15" width="3.72" height="7.9" fill="#62a83d"/>
<rect x="402.67" y="87.15" width="3.72" height="7.9" fill="#d9d9d9"/>
<rect x="407" y="87.15" width="3.72" height="7.9" fill="#62a83d"/>
<rect x="411.34" y="87.15" width="3.72" height="7.9" fill="#d9d9d9"/>
<rect x="415.67" y="87.15" width="3.72" height="7.9" fill="#d9d9d9"/>
<rect x="420" y="87.15" width="3.72" height="7.9" fill="#d9d9d9"/>
<rect x="424.33" y="87.15" width="3.72" height="7.9" fill="#d9d9d9"/>
<rect x="428.66" y="87.15" width="3.72" height="7.9" fill="#d9d9d9"/>
<rect x="432.99" y="87.15" width="3.72" height="7.9" fill="#d9d9d9"/>
<rect x="437.32" y="87.15" width="3.72" height="7.9" fill="#d9d9d9"/>
<rect x="441.65" y="87.15" width="3.72" height="7.9" fill="#d9d9d9"/>
<rect x="43.2" y="96.4" width="3.72" height="7.9" fill="#d9d9d9"/>
<rect x="47.53" y="96.4" width="3.72" height="7.9" fill="#d9d9d9"/>
<rect x="51.86" y="96.4" width="3.72" height="7.9" fill="#d9d9d9"/>
<rect x="56.19" y="96.4" width="3.72" height="7.9" fill="#d9d9d9"/>
<rect x="60.52" y="96.4" width="3.72" height="7.9" fill="#d9d9d9"/>
<rect x="64.86" y="96.4" width="3.72" height="7.9" fill="#d9d9d9"/>
<rect x="69.19" y="96.4" width="3.72" height="7.9" fill="#d9d9d9"/>
<rect x="73.52" y="96.4" width="3.72" height="7.9" fill="#62a83d"/>
<rect x="77.85" y="96.4" width="3.72" height="7.9" fill="#62a83d"/>
<rect x="82.18" y="96.4" width="3.72" height="7.9" fill="#62a83d"/>
<rect x="86.51" y="96.4" width="3.72" height="7.9" fill="#62a83d"/>
<rect x="90.84" y="96.4" width="3.72" height="7.9" fill="#d9d9d9"/>
<rect x="95.17" y="96.4" width="3.72" height="7.9" fill="#d9d9d9"/>
<rect x="99.5" y="96.4" width="3.72" height="7.9" fill="#d9d9d9"/>
<rect x="103.83" y="96.4" width="3.72" height="7.9" fill="#d9d9d9"/>
<rect x="108.17" y="96.4" width="3.72" height="7.9" fill="#d9d9d9"/>
<rect x="112.5" y="96.4" width="3.72" height="7.9" fill="#d9d9d9"/>
<rect x="116.83" y="96.4" width="3.72" height="7.9" fill="#d9d9d9"/>
<rect x="121.16" y="96.4" width="3.72" height="7.9" fill="#d9d9d9"/>
<rect x="125.49" y="96.4" width="3.72" height="7.9" fill="#d9d9d9"/>
<rect x="129.82" y="96.4" width="3.72" height="7.9" fill="#d9d9d9"/>
<rect x="134.15" y="96.4" width="3.72" height="7.9" fill="#d9d9d9"/>
<rect x="138.48" y="96.4" width="3.72" height="7.9" fill="#d9d9d9"/>
<rect x="142.81" y="96.4" width="3.72" height="7.9" fill="#d9d9d9"/>
<rect x="147.14" y="96.4" width="3.72" height="7.9" fill="#d9d9d9"/>
<rect x="151.48" y="96.4" width="3.72" height="7.9" fill="#d9d9d9"/>
<rect x="155.81" y="96.4" width="3.72" height="7.9" fill="#d9d9d9"/>
<rect x="160.14" y="96.4" width="3.72" height="7.9" fill="#d9d9d9"/>
<rect x="164.47" y="96.4" width="3.72" height="7.9" fill="#d9d9d9"/>
<rect x="168.8" y="96.4" width="3.72" height="7.9" fill="#62a83d"/>
<rect x="173.13" y="96.4" width="3.72" height="7.9" fill="#d9d9d9"/>
<rect x="177.46" y="96.4" width="3.72" height="7.9" fill="#d9d9d9"/>
<rect x="181.79" y="96.4" width="3.72" height="7.9" fill="#d9d9d9"/>
<rect x="186.12" y="96.4" width="3.72" height="7.9" fill="#d9d9d9"/>
<rect x="190.45" y="96.4" width="3.72" height="7.9" fill="#d9d9d9"/>
<rect x="194.79" y="96.4" width="3.72" height="7.9" fill="#d9d9d9"/>
<rect x="199.12" y="96.4" width="3.72" height="7.9" fill="#d9d9d9"/>
<rect x="203.45" y="96.4" width="3.72" height="7.9" fill="#d9d9d9"/>
<rect x="207.78" y="96.4" width="3.72" height="7.9" fill="#d9d9d9"/>
<rect x="212.11" y="96.4" width="3.72" height="7.9" fill="#d9d9d9"/>
<rect x="216.44" y="96.4" width="3.72" height="7.9" fill="#d9d9d9"/>
<rect x="220.77" y="96.4" width="3.72" height="7.9" fill="#d9d9d9"/>
<rect x="225.1" y="96.4" width="3.72" height="7.9" fill="#d9d9d9"/>
<rect x="229.43" y="96.4" width="3.72" height="7.9" fill="#d9d9d9"/>
<rect x="233.76" y="96.4" width="3.72" height="7.9" fill="#d9d9d9"/>
<rect x="238.1" y="96.4" width="3.72" height="7.9" fill="#d9d9d9"/>
<rect x="242.43" y="96.4" width="3.72" height="7.9" fill="#d9d9d9"/>
<rect x="246.76" y="96.4" width="3.72" height="7.9" fill="#d9d9d9"/>
<rect x="251.09" y="96.4" width="3.72" height="7.9" fill="#d9d9d9"/>
<rect x="255.42" y="96.4" width="3.72" height="7.9" fill="#d9d9d9"/>
<rect x="259.75" y="96.4" width="3.72" height="7.9" fill="#d9d9d9"/>
<rect x="264.08" y="96.4" width="3.72" height="7.9" fill="#d9d9d9"/>
<rect x="268.41" y="96.4" width="3.72" height="7.9" fill="#d9d9d9"/>
<rect x="272.74" y="96.4" width="3.72" height="7.9" fill="#d9d9d9"/>
<rect x="277.07" y="96.4" width="3.72" height="7.9" fill="#d9d9d9"/>
<rect x="281.41" y="96.4" width="3.72" height="7.9" fill="#4e1a5c"/>
<rect x="285.74" y="96.4" width="3.72" height="7.9" fill="#62a83d"/>
<rect x="290.07" y="96.4" width="3.72" height="7.9" fill="#d9d9d9"/>
<rect x="294.4" y="96.4" width="3.72" height="7.9" fill="#d9d9d9"/>
<rect x="298.73" y="96.4" width="3.72" height="7.9" fill="#d9d9d9"/>
<rect x="303.06" y="96.4" width="3.72" height="7.9" fill="#d9d9d9"/>
<rect x="307.39" y="96.4" width="3.72" height="7.9" fill="#d9d9d9"/>
<rect x="311.72" y="96.4" width="3.72" height="7.9" fill="#d9d9d9"/>
<rect x="316.05" y="96.4" width="3.72" height="7.9" fill="#d9d9d9"/>
<rect x="320.38" y="96.4" width="3.72" height="7.9" fill="#d9d9d9"/>
<rect x="324.72" y="96.4" width="3.72" height="7.9" fill="#d9d9d9"/>
<rect x="329.05" y="96.4" width="3.72" height="7.9" fill="#d9d9d9"/>
<rect x="333.38" y="96.4" width="3.72" height="7.9" fill="#d9d9d9"/>
<rect x="337.71" y="96.4" width="3.72" height="7.9" fill="#d9d9d9"/>
<rect x="342.04" y="96.4" width="3.72" height="7.9" fill="#d9d9d9"/>
<rect x="346.37" y="96.4" width="3.72" height="7.9" fill="#d9d9d9"/>
<rect x="350.7" y="96.4" width="3.72" height="7.9" fill="#d9d9d9"/>
<rect x="355.03" y="96.4" width="3.72" height="7.9" fill="#d9d9d9"/>
<rect x="359.36" y="96.4" width="3.72" height="7.9" fill="#d9d9d9"/>
<rect x="363.69" y="96.4" width="3.72" height="7.9" fill="#d9d9d9"/>
<rect x="368.03" y="96.4" width="3.72" height="7.9" fill="#d9d9d9"/>
<rect x="372.36" y="96.4" width="3.72" height="7.9" fill="#d9d9d9"/>
<rect x="376.69" y="96.4" width="3.72" height="7.9" fill="#d9d9d9"/>
<rect x="381.02" y="96.4" width="3.72" height="7.9" fill="#d9d9d9"/>
<rect x="385.35" y="96.4" width="3.72" height="7.9" fill="#d9d9d9"/>
<rect x="389.68" y="96.4" width="3.72" height="7.9" fill="#d9d9d9"/>
<rect x="394.01" y="96.4" width="3.72" height="7.9" fill="#d9d9d9"/>
<rect x="398.34" y="96.4" width="3.72" height="7.9" fill="#d9d9d9"/>
<rect x="402.67" y="96.4" width="3.72" height="7.9" fill="#d9d9d9"/>
<rect x="407" y="96.4" width="3.72" height="7.9" fill="#d9d9d9"/>
<rect x="411.34" y="96.4" width="3.72" height="7.9" fill="#62a83d"/>
<rect x="415.67" y="96.4" width="3.72" height="7.9" fill="#d9d9d9"/>
<rect x="420" y="96.4" width="3.72" height="7.9" fill="#d9d9d9"/>
<rect x="424.33" y="96.4" width="3.72" height="7.9" fill="#d9d9d9"/>
<rect x="428.66" y="96.4" width="3.72" height="7.9" fill="#d9d9d9"/>
<rect x="432.99" y="96.4" width="3.72" height="7.9" fill="#d9d9d9"/>
<rect x="437.32" y="96.4" width="3.72" height="7.9" fill="#d9d9d9"/>
<rect x="441.65" y="96.4" width="3.72" height="7.9" fill="#d9d9d9"/>
<rect x="43.2" y="105.65" width="3.72" height="7.9" fill="#d9d9d9"/>
<rect x="47.53" y="105.65" width="3.72" height="7.9" fill="#d9d9d9"/>
<rect x="51.86" y="105.65" width="3.72" height="7.9" fill="#62a83d"/>
<rect x="56.19" y="105.65" width="3.72" height="7.9" fill="#d9d9d9"/>
<rect x="60.52" y="105.65" width="3.72" height="7.9" fill="#d9d9d9"/>
<rect x="64.86" y="105.65" width="3.72" height="7.9" fill="#d9d9d9"/>
<rect x="69.19" y="105.65" width="3.72" height="7.9" fill="#d9d9d9"/>
<rect x="73.52" y="105.65" width="3.72" height="7.9" fill="#62a83d"/>
<rect x="77.85" y="105.65" width="3.72" height="7.9" fill="#d9d9d9"/>
<rect x="82.18" y="105.65" width="3.72" height="7.9" fill="#d9d9d9"/>
<rect x="86.51" y="105.65" width="3.72" height="7.9" fill="#d9d9d9"/>
<rect x="90.84" y="105.65" width="3.72" height="7.9" fill="#b3651e"/>
<rect x="95.17" y="105.65" width="3.72" height="7.9" fill="#62a83d"/>
<rect x="99.5" y="105.65" width="3.72" height="7.9" fill="#d9d9d9"/>
<rect x="103.83" y="105.65" width="3.72" height="7.9" fill="#d9d9d9"/>
<rect x="108.17" y="105.65" width="3.72" height="7.9" fill="#d9d9d9"/>
<rect x="112.5" y="105.65" width="3.72" height="7.9" fill="#d9d9d9"/>
<rect x="116.83" y="105.65" width="3.72" height="7.9" fill="#d9d9d9"/>
<rect x="121.16" y="105.65" width="3.72" height="7.9" fill="#d9d9d9"/>
<rect x="125.49" y="105.65" width="3.72" height="7.9" fill="#d9d9d9"/>
<rect x="129.82" y="105.65" width="3.72" height="7.9" fill="#d9d9d9"/>
<rect x="134.15" y="105.65" width="3.72" height="7.9" fill="#d9d9d9"/>
<rect x="138.48" y="105.65" width="3.72" height="7.9" fill="#d9d9d9"/>
<rect x="142.81" y="105.65" width="3.72" height="7.9" fill="#d9d9d9"/>
<rect x="147.14" y="105.65" width="3.72" height="7.9" fill="#d9d9d9"/>
<rect x="151.48" y="105.65" width="3.72" height="7.9" fill="#d9d9d9"/>
<rect x="155.81" y="105.65" width="3.72" height="7.9" fill="#d9d9d9"/>
<rect x="160.14" y="105.65" width="3.72" height="7.9" fill="#d9d9d9"/>
<rect x="164.47" y="105.65" width="3.72" height="7.9" fill="#d9d9d9"/>
<rect x="168.8" y="105.65" width="3.72" height="7.9" fill="#d9d9d9"/>
<rect x="173.13" y="105.65" width="3.72" height="7.9" fill="#62a83d"/>
<rect x="177.46" y="105.65" width="3.72" height="7.9" fill="#d9d9d9"/>
<rect x="181.79" y="105.65" width="3.72" height="7.9" fill="#d9d9d9"/>
<rect x="186.12" y="105.65" width="3.72" height="7.9" fill="#d9d9d9"/>
<rect x="190.45" y="105.65" width="3.72" height="7.9" fill="#d9d9d9"/>
<rect x="194.79" y="105.65" width="3.72" height="7.9" fill="#d9d9d9"/>
<rect x="199.12" y="105.65" width="3.72" height="7.9" fill="#d9d9d9"/>
<rect x="203.45" y="105.65" width="3.72" height="7.9" fill="#d9d9d9"/>
<rect x="207.78" y="105.65" width="3.72" height="7.9" fill="#d9d9d9"/>
<rect x="212.11" y="105.65" width="3.72" height="7.9" fill="#d9d9d9"/>
<rect x="216.44" y="105.65" width="3.72" height="7.9" fill="#d9d9d9"/>
<rect x="220.77" y="105.65" width="3.72" height="7.9" fill="#d9d9d9"/>
<rect x="225.1" y="105.65" width="3.72" height="7.9" fill="#d9d9d9"/>
<rect x="229.43" y="105.65" width="3.72" height="7.9" fill="#d9d9d9"/>
<rect x="233.76" y="105.65" width="3.72" height="7.9" fill="#d9d9d9"/>
<rect x="238.1" y="105.65" width="3.72" height="7.9" fill="#d9d9d9"/>
<rect x="242.43" y="105.65" width="3.72" height="7.9" fill="#d9d9d9"/>
<rect x="246.76" y="105.65" width="3.72" height="7.9" fill="#d9d9d9"/>
<rect x="251.09" y="105.65" width="3.72" height="7.9" fill="#d9d9d9"/>
<rect x="255.42" y="105.65" width="3.72" height="7.9" fill="#d9d9d9"/>
<rect x="259.75" y="105.65" width="3.72" height="7.9" fill="#d9d9d9"/>
<rect x="264.08" y="105.65" width="3.72" height="7.9" fill="#d9d9d9"/>
<rect x="268.41" y="105.65" width="3.72" height="7.9" fill="#d9d9d9"/>
<rect x="272.74" y="105.65" width="3.72" height="7.9" fill="#d9d9d9"/>
<rect x="277.07" y="105.65" width="3.72" height="7.9" fill="#d9d9d9"/>
<rect x="281.41" y="105.65" width="3.72" height="7.9" fill="#d9d9d9"/>
<rect x="285.74" y="105.65" width="3.72" height="7.9" fill="#d9d9d9"/>
<rect x="290.07" y="105.65" width="3.72" height="7.9" fill="#d9d9d9"/>
<rect x="294.4" y="105.65" width="3.72" height="7.9" fill="#d9d9d9"/>
<rect x="298.73" y="105.65" width="3.72" height="7.9" fill="#d9d9d9"/>
<rect x="303.06" y="105.65" width="3.72" height="7.9" fill="#d9d9d9"/>
<rect x="307.39" y="105.65" width="3.72" height="7.9" fill="#d9d9d9"/>
<rect x="311.72" y="105.65" width="3.72" height="7.9" fill="#d9d9d9"/>
<rect x="316.05" y="105.65" width="3.72" height="7.9" fill="#d9d9d9"/>
<rect x="320.38" y="105.65" width="3.72" height="7.9" fill="#d9d9d9"/>
<rect x="324.72" y="105.65" width="3.72" height="7.9" fill="#d9d9d9"/>
<rect x="329.05" y="105.65" width="3.72" height="7.9" fill="#d9d9d9"/>
<rect x="333.38" y="105.65" width="3.72" height="7.9" fill="#d9d9d9"/>
<rect x="337.71" y="105.65" width="3.72" height="7.9" fill="#d9d9d9"/>
<rect x="342.04" y="105.65" width="3.72" height="7.9" fill="#62a83d"/>
<rect x="346.37" y="105.65" width="3.72" height="7.9" fill="#62a83d"/>
<rect x="350.7" y="105.65" width="3.72" height="7.9" fill="#d9d9d9"/>
<rect x="355.03" y="105.65" width="3.72" height="7.9" fill="#d9d9d9"/>
<rect x="359.36" y="105.65" width="3.72" height="7.9" fill="#d9d9d9"/>
<rect x="363.69" y="105.65" width="3.72" height="7.9" fill="#d9d9d9"/>
<rect x="368.03" y="105.65" width="3.72" height="7.9" fill="#d9d9d9"/>
<rect x="372.36" y="105.65" width="3.72" height="7.9" fill="#d9d9d9"/>
<rect x="376.69" y="105.65" width="3.72" height="7.9" fill="#d9d9d9"/>
<rect x="381.02" y="105.65" width="3.72" height="7.9" fill="#d9d9d9"/>
<rect x="385.35" y="105.65" width="3.72" height="7.9" fill="#d9d9d9"/>
<rect x="389.68" y="105.65" width="3.72" height="7.9" fill="#d9d9d9"/>
<rect x="394.01" y="105.65" width="3.72" height="7.9" fill="#d9d9d9"/>
<rect x="398.34" y="105.65" width="3.72" height="7.9" fill="#d9d9d9"/>
<rect x="402.67" y="105.65" width="3.72" height="7.9" fill="#d9d9d9"/>
<rect x="407" y="105.65" width="3.72" height="7.9" fill="#d9d9d9"/>
<rect x="411.34" y="105.65" width="3.72" height="7.9" fill="#d9d9d9"/>
<rect x="415.67" y="105.65" width="3.72" height="7.9" fill="#62a83d"/>
<rect x="420" y="105.65" width="3.72" height="7.9" fill="#d9d9d9"/>
<rect x="424.33" y="105.65" width="3.72" height="7.9" fill="#d9d9d9"/>
<rect x="428.66" y="105.65" width="3.72" height="7.9" fill="#d9d9d9"/>
<rect x="432.99" y="105.65" width="3.72" height="7.9" fill="#d9d9d9"/>
<rect x="437.32" y="105.65" width="3.72" height="7.9" fill="#d9d9d9"/>
<rect x="441.65" y="105.65" width="3.72" height="7.9" fill="#d9d9d9"/>
<rect x="43.2" y="114.9" width="3.72" height="7.9" fill="#d9d9d9"/>
<rect x="47.53" y="114.9" width="3.72" height="7.9" fill="#d9d9d9"/>
<rect x="51.86" y="114.9" width="3.72" height="7.9" fill="#d9d9d9"/>
<rect x="56.19" y="114.9" width="3.72" height="7.9" fill="#a8002c"/>
<rect x="60.52" y="114.9" width="3.72" height="7.9" fill="#d9d9d9"/>
<rect x="64.86" y="114.9" width="3.72" height="7.9" fill="#d9d9d9"/>
<rect x="69.19" y="114.9" width="3.72" height="7.9" fill="#d9d9d9"/>
<rect x="73.52" y="114.9" width="3.72" height="7.9" fill="#d9d9d9"/>
<rect x="77.85" y="114.9" width="3.72" height="7.9" fill="#a8002c"/>
<rect x="82.18" y="114.9" width="3.72" height="7.9" fill="#d9d9d9"/>
<rect x="86.51" y="114.9" width="3.72" height="7.9" fill="#d9d9d9"/>
<rect x="90.84" y="114.9" width="3.72" height="7.9" fill="#d9d9d9"/>
<rect x="95.17" y="114.9" width="3.72" height="7.9" fill="#d9d9d9"/>
<rect x="99.5" y="114.9" width="3.72" height="7.9" fill="#1f3f7a"/>
<rect x="103.83" y="114.9" width="3.72" height="7.9" fill="#d9d9d9"/>
<rect x="108.17" y="114.9" width="3.72" height="7.9" fill="#d9d9d9"/>
<rect x="112.5" y="114.9" width="3.72" height="7.9" fill="#d9d9d9"/>
<rect x="116.83" y="114.9" width="3.72" height="7.9" fill="#d9d9d9"/>
<rect x="121.16" y="114.9" width="3.72" height="7.9" fill="#d9d9d9"/>
<rect x="125.49" y="114.9" width="3.72" height="7.9" fill="#d9d9d9"/>
<rect x="129.82" y="114.9" width="3.72" height="7.9" fill="#d9d9d9"/>
<rect x="134.15" y="114.9" width="3.72" height="7.9" fill="#d9d9d9"/>
<rect x="138.48" y="114.9" width="3.72" height="7.9" fill="#d9d9d9"/>
<rect x="142.81" y="114.9" width="3.72" height="7.9" fill="#d9d9d9"/>
<rect x="147.14" y="114.9" width="3.72" height="7.9" fill="#d9d9d9"/>
<rect x="151.48" y="114.9" width="3.72" height="7.9" fill="#d9d9d9"/>
<rect x="155.81" y="114.9" width="3.72" height="7.9" fill="#d9d9d9"/>
<rect x="160.14" y="114.9" width="3.72" height="7.9" fill="#d9d9d9"/>
<rect x="164.47" y="114.9" width="3.72" height="7.9" fill="#d9d9d9"/>
<rect x="168.8" y="114.9" width="3.72" height="7.9" fill="#d9d9d9"/>
<rect x="173.13" y="114.9" width="3.72" height="7.9" fill="#d9d9d9"/>
<rect x="177.46" y="114.9" width="3.72" height="7.9" fill="#d9d9d9"/>
<rect x="181.79" y="114.9" width="3.72" height="7.9" fill="#d9d9d9"/>
<rect x="186.12" y="114.9" width="3.72" height="7.9" fill="#d9d9d9"/>
<rect x="190.45" y="114.9" width="3.72" height="7.9" fill="#d9d9d9"/>
<rect x="194.79" y="114.9" width="3.72" height="7.9" fill="#d9d9d9"/>
<rect x="199.12" y="114.9" width="3.72" height="7.9" fill="#d9d9d9"/>
<rect x="203.45" y="114.9" width="3.72" height="7.9" fill="#d9d9d9"/>
<rect x="207.78" y="114.9" width="3.72" height="7.9" fill="#d9d9d9"/>
<rect x="212.11" y="114.9" width="3.72" height="7.9" fill="#d9d9d9"/>
<rect x="216.44" y="114.9" width="3.72" height="7.9" fill="#d9d9d9"/>
<rect x="220.77" y="114.9" width="3.72" height="7.9" fill="#d9d9d9"/>
<rect x="225.1" y="114.9" width="3.72" height="7.9" fill="#d9d9d9"/>
<rect x="229.43" y="114.9" width="3.72" height="7.9" fill="#d9d9d9"/>
<rect x="233.76" y="114.9" width="3.72" height="7.9" fill="#d9d9d9"/>
<rect x="238.1" y="114.9" width="3.72" height="7.9" fill="#d9d9d9"/>
<rect x="242.43" y="114.9" width="3.72" height="7.9" fill="#d9d9d9"/>
<rect x="246.76" y="114.9" width="3.72" height="7.9" fill="#d9d9d9"/>
<rect x="251.09" y="114.9" width="3.72" height="7.9" fill="#d9d9d9"/>
<rect x="255.42" y="114.9" width="3.72" height="7.9" fill="#d9d9d9"/>
<rect x="259.75" y="114.9" width="3.72" height="7.9" fill="#d9d9d9"/>
<rect x="264.08" y="114.9" width="3.72" height="7.9" fill="#d9d9d9"/>
<rect x="268.41" y="114.9" width="3.72" height="7.9" fill="#d9d9d9"/>
<rect x="272.74" y="114.9" width="3.72" height="7.9" fill="#d9d9d9"/>
<rect x="277.07" y="114.9" width="3.72" height="7.9" fill="#62a83d"/>
<rect x="281.41" y="114.9" width="3.72" height="7.9" fill="#d9d9d9"/>
<rect x="285.74" y="114.9" width="3.72" height="7.9" fill="#d9d9d9"/>
<rect x="290.07" y="114.9" width="3.72" height="7.9" fill="#d9d9d9"/>
<rect x="294.4" y="114.9" width="3.72" height="7.9" fill="#d9d9d9"/>
<rect x="298.73" y="114.9" width="3.72" height="7.9" fill="#d9d9d9"/>
<rect x="303.06" y="114.9" width="3.72" height="7.9" fill="#d9d9d9"/>
<rect x="307.39" y="114.9" width="3.72" height="7.9" fill="#d9d9d9"/>
<rect x="311.72" y="114.9" width="3.72" height="7.9" fill="#d9d9d9"/>
<rect x="316.05" y="114.9" width="3.72" height="7.9" fill="#d9d9d9"/>
<rect x="320.38" y="114.9" width="3.72" height="7.9" fill="#d9d9d9"/>
<rect x="324.72" y="114.9" width="3.72" height="7.9" fill="#d9d9d9"/>
<rect x="329.05" y="114.9" width="3.72" height="7.9" fill="#d9d9d9"/>
<rect x="333.38" y="114.9" width="3.72" height="7.9" fill="#d9d9d9"/>
<rect x="337.71" y="114.9" width="3.72" height="7.9" fill="#d9d9d9"/>
<rect x="342.04" y="114.9" width="3.72" height="7.9" fill="#d9d9d9"/>
<rect x="346.37" y="114.9" width="3.72" height="7.9" fill="#d9d9d9"/>
<rect x="350.7" y="114.9" width="3.72" height="7.9" fill="#1f3f7a"/>
<rect x="355.03" y="114.9" width="3.72" height="7.9" fill="#d9d9d9"/>
<rect x="359.36" y="114.9" width="3.72" height="7.9" fill="#d9d9d9"/>
<rect x="363.69" y="114.9" width="3.72" height="7.9" fill="#d9d9d9"/>
<rect x="368.03" y="114.9" width="3.72" height="7.9" fill="#d9d9d9"/>
<rect x="372.36" y="114.9" width="3.72" height="7.9" fill="#d9d9d9"/>
<rect x="376.69" y="114.9" width="3.72" height="7.9" fill="#d9d9d9"/>
<rect x="381.02" y="114.9" width="3.72" height="7.9" fill="#d9d9d9"/>
<rect x="385.35" y="114.9" width="3.72" height="7.9" fill="#d9d9d9"/>
<rect x="389.68" y="114.9" width="3.72" height="7.9" fill="#d9d9d9"/>
<rect x="394.01" y="114.9" width="3.72" height="7.9" fill="#d9d9d9"/>
<rect x="398.34" y="114.9" width="3.72" height="7.9" fill="#d9d9d9"/>
<rect x="402.67" y="114.9" width="3.72" height="7.9" fill="#d9d9d9"/>
<rect x="407" y="114.9" width="3.72" height="7.9" fill="#d9d9d9"/>
<rect x="411.34" y="114.9" width="3.72" height="7.9" fill="#d9d9d9"/>
<rect x="415.67" y="114.9" width="3.72" height="7.9" fill="#d9d9d9"/>
<rect x="420" y="114.9" width="3.72" height="7.9" fill="#d9d9d9"/>
<rect x="424.33" y="114.9" width="3.72" height="7.9" fill="#d9d9d9"/>
<rect x="428.66" y="114.9" width="3.72" height="7.9" fill="#d9d9d9"/>
<rect x="432.99" y="114.9" width="3.72" height="7.9" fill="#d9d9d9"/>
<rect x="437.32" y="114.9" width="3.72" height="7.9" fill="#d9d9d9"/>
<rect x="441.65" y="114.9" width="3.72" height="7.9" fill="#d9d9d9"/>
<rect x="43.2" y="124.15" width="3.72" height="7.9" fill="#a8002c"/>
<rect x="47.53" y="124.15" width="3.72" height="7.9" fill="#d9d9d9"/>
<rect x="51.86" y="124.15" width="3.72" height="7.9" fill="#d9d9d9"/>
<rect x="56.19" y="124.15" width="3.72" height="7.9" fill="#d9d9d9"/>
<rect x="60.52" y="124.15" width="3.72" height="7.9" fill="#d9d9d9"/>
<rect x="64.86" y="124.15" width="3.72" height="7.9" fill="#d9d9d9"/>
<rect x="69.19" y="124.15" width="3.72" height="7.9" fill="#d9d9d9"/>
<rect x="73.52" y="124.15" width="3.72" height="7.9" fill="#d9d9d9"/>
<rect x="77.85" y="124.15" width="3.72" height="7.9" fill="#d9d9d9"/>
<rect x="82.18" y="124.15" width="3.72" height="7.9" fill="#d9d9d9"/>
<rect x="86.51" y="124.15" width="3.72" height="7.9" fill="#d9d9d9"/>
<rect x="90.84" y="124.15" width="3.72" height="7.9" fill="#d9d9d9"/>
<rect x="95.17" y="124.15" width="3.72" height="7.9" fill="#d9d9d9"/>
<rect x="99.5" y="124.15" width="3.72" height="7.9" fill="#d9d9d9"/>
<rect x="103.83" y="124.15" width="3.72" height="7.9" fill="#d9d9d9"/>
<rect x="108.17" y="124.15" width="3.72" height="7.9" fill="#d9d9d9"/>
<rect x="112.5" y="124.15" width="3.72" height="7.9" fill="#d9d9d9"/>
<rect x="116.83" y="124.15" width="3.72" height="7.9" fill="#d9d9d9"/>
<rect x="121.16" y="124.15" width="3.72" height="7.9" fill="#d9d9d9"/>
<rect x="125.49" y="124.15" width="3.72" height="7.9" fill="#d9d9d9"/>
<rect x="129.82" y="124.15" width="3.72" height="7.9" fill="#d9d9d9"/>
<rect x="134.15" y="124.15" width="3.72" height="7.9" fill="#d9d9d9"/>
<rect x="138.48" y="124.15" width="3.72" height="7.9" fill="#d9d9d9"/>
<rect x="142.81" y="124.15" width="3.72" height="7.9" fill="#d9d9d9"/>
<rect x="147.14" y="124.15" width="3.72" height="7.9" fill="#d9d9d9"/>
<rect x="151.48" y="124.15" width="3.72" height="7.9" fill="#d9d9d9"/>
<rect x="155.81" y="124.15" width="3.72" height="7.9" fill="#d9d9d9"/>
<rect x="160.14" y="124.15" width="3.72" height="7.9" fill="#d9d9d9"/>
<rect x="164.47" y="124.15" width="3.72" height="7.9" fill="#d9d9d9"/>
<rect x="168.8" y="124.15" width="3.72" height="7.9" fill="#d9d9d9"/>
<rect x="173.13" y="124.15" width="3.72" height="7.9" fill="#d9d9d9"/>
<rect x="177.46" y="124.15" width="3.72" height="7.9" fill="#a8002c"/>
<rect x="181.79" y="124.15" width="3.72" height="7.9" fill="#a8002c"/>
<rect x="186.12" y="124.15" width="3.72" height="7.9" fill="#d9d9d9"/>
<rect x="190.45" y="124.15" width="3.72" height="7.9" fill="#d9d9d9"/>
<rect x="194.79" y="124.15" width="3.72" height="7.9" fill="#d9d9d9"/>
<rect x="199.12" y="124.15" width="3.72" height="7.9" fill="#d9d9d9"/>
<rect x="203.45" y="124.15" width="3.72" height="7.9" fill="#d9d9d9"/>
<rect x="207.78" y="124.15" width="3.72" height="7.9" fill="#d9d9d9"/>
<rect x="212.11" y="124.15" width="3.72" height="7.9" fill="#d9d9d9"/>
<rect x="216.44" y="124.15" width="3.72" height="7.9" fill="#d9d9d9"/>
<rect x="220.77" y="124.15" width="3.72" height="7.9" fill="#d9d9d9"/>
<rect x="225.1" y="124.15" width="3.72" height="7.9" fill="#d9d9d9"/>
<rect x="229.43" y="124.15" width="3.72" height="7.9" fill="#d9d9d9"/>
<rect x="233.76" y="124.15" width="3.72" height="7.9" fill="#d9d9d9"/>
<rect x="238.1" y="124.15" width="3.72" height="7.9" fill="#d9d9d9"/>
<rect x="242.43" y="124.15" width="3.72" height="7.9" fill="#d9d9d9"/>
<rect x="246.76" y="124.15" width="3.72" height="7.9" fill="#d9d9d9"/>
<rect x="251.09" y="124.15" width="3.72" height="7.9" fill="#d9d9d9"/>
<rect x="255.42" y="124.15" width="3.72" height="7.9" fill="#d9d9d9"/>
<rect x="259.75" y="124.15" width="3.72" height="7.9" fill="#d9d9d9"/>
<rect x="264.08" y="124.15" width="3.72" height="7.9" fill="#d9d9d9"/>
<rect x="268.41" y="124.15" width="3.72" height="7.9" fill="#d9d9d9"/>
<rect x="272.74" y="124.15" width="3.72" height="7.9" fill="#d9d9d9"/>
<rect x="277.07" y="124.15" width="3.72" height="7.9" fill="#d9d9d9"/>
<rect x="281.41" y="124.15" width="3.72" height="7.9" fill="#d9d9d9"/>
<rect x="285.74" y="124.15" width="3.72" height="7.9" fill="#d9d9d9"/>
<rect x="290.07" y="124.15" width="3.72" height="7.9" fill="#ec9a1e"/>
<rect x="294.4" y="124.15" width="3.72" height="7.9" fill="#d9d9d9"/>
<rect x="298.73" y="124.15" width="3.72" height="7.9" fill="#d9d9d9"/>
<rect x="303.06" y="124.15" width="3.72" height="7.9" fill="#d9d9d9"/>
<rect x="307.39" y="124.15" width="3.72" height="7.9" fill="#d9d9d9"/>
<rect x="311.72" y="124.15" width="3.72" height="7.9" fill="#d9d9d9"/>
<rect x="316.05" y="124.15" width="3.72" height="7.9" fill="#d9d9d9"/>
<rect x="320.38" y="124.15" width="3.72" height="7.9" fill="#d9d9d9"/>
<rect x="324.72" y="124.15" width="3.72" height="7.9" fill="#d9d9d9"/>
<rect x="329.05" y="124.15" width="3.72" height="7.9" fill="#d9d9d9"/>
<rect x="333.38" y="124.15" width="3.72" height="7.9" fill="#ec9a1e"/>
<rect x="337.71" y="124.15" width="3.72" height="7.9" fill="#d9d9d9"/>
<rect x="342.04" y="124.15" width="3.72" height="7.9" fill="#d9d9d9"/>
<rect x="346.37" y="124.15" width="3.72" height="7.9" fill="#d9d9d9"/>
<rect x="350.7" y="124.15" width="3.72" height="7.9" fill="#d9d9d9"/>
<rect x="355.03" y="124.15" width="3.72" height="7.9" fill="#d9d9d9"/>
<rect x="359.36" y="124.15" width="3.72" height="7.9" fill="#d9d9d9"/>
<rect x="363.69" y="124.15" width="3.72" height="7.9" fill="#d9d9d9"/>
<rect x="368.03" y="124.15" width="3.72" height="7.9" fill="#d9d9d9"/>
<rect x="372.36" y="124.15" width="3.72" height="7.9" fill="#d9d9d9"/>
<rect x="376.69" y="124.15" width="3.72" height="7.9" fill="#d9d9d9"/>
<rect x="381.02" y="124.15" width="3.72" height="7.9" fill="#d9d9d9"/>
<rect x="385.35" y="124.15" width="3.72" height="7.9" fill="#d9d9d9"/>
<rect x="389.68" y="124.15" width="3.72" height="7.9" fill="#d9d9d9"/>
<rect x="394.01" y="124.15" width="3.72" height="7.9" fill="#d9d9d9"/>
<rect x="398.34" y="124.15" width="3.72" height="7.9" fill="#d9d9d9"/>
<rect x="402.67" y="124.15" width="3.72" height="7.9" fill="#d9d9d9"/>
<rect x="407" y="124.15" width="3.72" height="7.9" fill="#d9d9d9"/>
<rect x="411.34" y="124.15" width="3.72" height="7.9" fill="#d9d9d9"/>
<rect x="415.67" y="124.15" width="3.72" height="7.9" fill="#d9d9d9"/>
<rect x="420" y="124.15" width="3.72" height="7.9" fill="#d9d9d9"/>
<rect x="424.33" y="124.15" width="3.72" height="7.9" fill="#d9d9d9"/>
<rect x="428.66" y="124.15" width="3.72" height="7.9" fill="#d9d9d9"/>
<rect x="432.99" y="124.15" width="3.72" height="7.9" fill="#d9d9d9"/>
<rect x="437.32" y="124.15" width="3.72" height="7.9" fill="#d9d9d9"/>
<rect x="441.65" y="124.15" width="3.72" height="7.9" fill="#d9d9d9"/>
<rect x="43.2" y="133.4" width="3.72" height="7.9" fill="#d9d9d9"/>
<rect x="47.53" y="133.4" width="3.72" height="7.9" fill="#d9d9d9"/>
<rect x="51.86" y="133.4" width="3.72" height="7.9" fill="#d9d9d9"/>
<rect x="56.19" y="133.4" width="3.72" height="7.9" fill="#d9d9d9"/>
<rect x="60.52" y="133.4" width="3.72" height="7.9" fill="#d9d9d9"/>
<rect x="64.86" y="133.4" width="3.72" height="7.9" fill="#d9d9d9"/>
<rect x="69.19" y="133.4" width="3.72" height="7.9" fill="#d9d9d9"/>
<rect x="73.52" y="133.4" width="3.72" height="7.9" fill="#d9d9d9"/>
<rect x="77.85" y="133.4" width="3.72" height="7.9" fill="#d9d9d9"/>
<rect x="82.18" y="133.4" width="3.72" height="7.9" fill="#d9d9d9"/>
<rect x="86.51" y="133.4" width="3.72" height="7.9" fill="#d9d9d9"/>
<rect x="90.84" y="133.4" width="3.72" height="7.9" fill="#d9d9d9"/>
<rect x="95.17" y="133.4" width="3.72" height="7.9" fill="#d9d9d9"/>
<rect x="99.5" y="133.4" width="3.72" height="7.9" fill="#d9d9d9"/>
<rect x="103.83" y="133.4" width="3.72" height="7.9" fill="#d9d9d9"/>
<rect x="108.17" y="133.4" width="3.72" height="7.9" fill="#d9d9d9"/>
<rect x="112.5" y="133.4" width="3.72" height="7.9" fill="#d9d9d9"/>
<rect x="116.83" y="133.4" width="3.72" height="7.9" fill="#d9d9d9"/>
<rect x="121.16" y="133.4" width="3.72" height="7.9" fill="#d9d9d9"/>
<rect x="125.49" y="133.4" width="3.72" height="7.9" fill="#d9d9d9"/>
<rect x="129.82" y="133.4" width="3.72" height="7.9" fill="#d9d9d9"/>
<rect x="134.15" y="133.4" width="3.72" height="7.9" fill="#d9d9d9"/>
<rect x="138.48" y="133.4" width="3.72" height="7.9" fill="#62a83d"/>
<rect x="142.81" y="133.4" width="3.72" height="7.9" fill="#d9d9d9"/>
<rect x="147.14" y="133.4" width="3.72" height="7.9" fill="#d9d9d9"/>
<rect x="151.48" y="133.4" width="3.72" height="7.9" fill="#d9d9d9"/>
<rect x="155.81" y="133.4" width="3.72" height="7.9" fill="#d9d9d9"/>
<rect x="160.14" y="133.4" width="3.72" height="7.9" fill="#d9d9d9"/>
<rect x="164.47" y="133.4" width="3.72" height="7.9" fill="#d9d9d9"/>
<rect x="168.8" y="133.4" width="3.72" height="7.9" fill="#d9d9d9"/>
<rect x="173.13" y="133.4" width="3.72" height="7.9" fill="#d9d9d9"/>
<rect x="177.46" y="133.4" width="3.72" height="7.9" fill="#d9d9d9"/>
<rect x="181.79" y="133.4" width="3.72" height="7.9" fill="#d9d9d9"/>
<rect x="186.12" y="133.4" width="3.72" height="7.9" fill="#62a83d"/>
<rect x="190.45" y="133.4" width="3.72" height="7.9" fill="#62a83d"/>
<rect x="194.79" y="133.4" width="3.72" height="7.9" fill="#d9d9d9"/>
<rect x="199.12" y="133.4" width="3.72" height="7.9" fill="#d9d9d9"/>
<rect x="203.45" y="133.4" width="3.72" height="7.9" fill="#d9d9d9"/>
<rect x="207.78" y="133.4" width="3.72" height="7.9" fill="#d9d9d9"/>
<rect x="212.11" y="133.4" width="3.72" height="7.9" fill="#d9d9d9"/>
<rect x="216.44" y="133.4" width="3.72" height="7.9" fill="#d9d9d9"/>
<rect x="220.77" y="133.4" width="3.72" height="7.9" fill="#d9d9d9"/>
<rect x="225.1" y="133.4" width="3.72" height="7.9" fill="#d9d9d9"/>
<rect x="229.43" y="133.4" width="3.72" height="7.9" fill="#d9d9d9"/>
<rect x="233.76" y="133.4" width="3.72" height="7.9" fill="#d9d9d9"/>
<rect x="238.1" y="133.4" width="3.72" height="7.9" fill="#d9d9d9"/>
<rect x="242.43" y="133.4" width="3.72" height="7.9" fill="#d9d9d9"/>
<rect x="246.76" y="133.4" width="3.72" height="7.9" fill="#d9d9d9"/>
<rect x="251.09" y="133.4" width="3.72" height="7.9" fill="#d9d9d9"/>
<rect x="255.42" y="133.4" width="3.72" height="7.9" fill="#d9d9d9"/>
<rect x="259.75" y="133.4" width="3.72" height="7.9" fill="#d9d9d9"/>
<rect x="264.08" y="133.4" width="3.72" height="7.9" fill="#d9d9d9"/>
<rect x="268.41" y="133.4" width="3.72" height="7.9" fill="#d9d9d9"/>
<rect x="272.74" y="133.4" width="3.72" height="7.9" fill="#d9d9d9"/>
<rect x="277.07" y="133.4" width="3.72" height="7.9" fill="#d9d9d9"/>
<rect x="281.41" y="133.4" width="3.72" height="7.9" fill="#d9d9d9"/>
<rect x="285.74" y="133.4" width="3.72" height="7.9" fill="#d9d9d9"/>
<rect x="290.07" y="133.4" width="3.72" height="7.9" fill="#d9d9d9"/>
<rect x="294.4" y="133.4" width="3.72" height="7.9" fill="#d9d9d9"/>
<rect x="298.73" y="133.4" width="3.72" height="7.9" fill="#d9d9d9"/>
<rect x="303.06" y="133.4" width="3.72" height="7.9" fill="#d9d9d9"/>
<rect x="307.39" y="133.4" width="3.72" height="7.9" fill="#d9d9d9"/>
<rect x="311.72" y="133.4" width="3.72" height="7.9" fill="#d9d9d9"/>
<rect x="316.05" y="133.4" width="3.72" height="7.9" fill="#d9d9d9"/>
<rect x="320.38" y="133.4" width="3.72" height="7.9" fill="#d9d9d9"/>
<rect x="324.72" y="133.4" width="3.72" height="7.9" fill="#d9d9d9"/>
<rect x="329.05" y="133.4" width="3.72" height="7.9" fill="#d9d9d9"/>
<rect x="333.38" y="133.4" width="3.72" height="7.9" fill="#d9d9d9"/>
<rect x="337.71" y="133.4" width="3.72" height="7.9" fill="#d9d9d9"/>
<rect x="342.04" y="133.4" width="3.72" height="7.9" fill="#d9d9d9"/>
<rect x="346.37" y="133.4" width="3.72" height="7.9" fill="#d9d9d9"/>
<rect x="350.7" y="133.4" width="3.72" height="7.9" fill="#d9d9d9"/>
<rect x="355.03" y="133.4" width="3.72" height="7.9" fill="#d9d9d9"/>
<rect x="359.36" y="133.4" width="3.72" height="7.9" fill="#d9d9d9"/>
<rect x="363.69" y="133.4" width="3.72" height="7.9" fill="#d9d9d9"/>
<rect x="368.03" y="133.4" width="3.72" height="7.9" fill="#62a83d"/>
<rect x="372.36" y="133.4" width="3.72" height="7.9" fill="#d9d9d9"/>
<rect x="376.69" y="133.4" width="3.72" height="7.9" fill="#d9d9d9"/>
<rect x="381.02" y="133.4" width="3.72" height="7.9" fill="#d9d9d9"/>
<rect x="385.35" y="133.4" width="3.72" height="7.9" fill="#d9d9d9"/>
<rect x="389.68" y="133.4" width="3.72" height="7.9" fill="#d9d9d9"/>
<rect x="394.01" y="133.4" width="3.72" height="7.9" fill="#d9d9d9"/>
<rect x="398.34" y="133.4" width="3.72" height="7.9" fill="#d9d9d9"/>
<rect x="402.67" y="133.4" width="3.72" height="7.9" fill="#62a83d"/>
<rect x="407" y="133.4" width="3.72" height="7.9" fill="#d9d9d9"/>
<rect x="411.34" y="133.4" width="3.72" height="7.9" fill="#d9d9d9"/>
<rect x="415.67" y="133.4" width="3.72" height="7.9" fill="#d9d9d9"/>
<rect x="420" y="133.4" width="3.72" height="7.9" fill="#d9d9d9"/>
<rect x="424.33" y="133.4" width="3.72" height="7.9" fill="#d9d9d9"/>
<rect x="428.66" y="133.4" width="3.72" height="7.9" fill="#d9d9d9"/>
<rect x="432.99" y="133.4" width="3.72" height="7.9" fill="#d9d9d9"/>
<rect x="437.32" y="133.4" width="3.72" height="7.9" fill="#d9d9d9"/>
<rect x="441.65" y="133.4" width="3.72" height="7.9" fill="#d9d9d9"/>
<rect x="43.2" y="142.65" width="3.72" height="7.9" fill="#d9d9d9"/>
<rect x="47.53" y="142.65" width="3.72" height="7.9" fill="#d9d9d9"/>
<rect x="51.86" y="142.65" width="3.72" height="7.9" fill="#d9d9d9"/>
<rect x="56.19" y="142.65" width="3.72" height="7.9" fill="#d9d9d9"/>
<rect x="60.52" y="142.65" width="3.72" height="7.9" fill="#d9d9d9"/>
<rect x="64.86" y="142.65" width="3.72" height="7.9" fill="#d9d9d9"/>
<rect x="69.19" y="142.65" width="3.72" height="7.9" fill="#d9d9d9"/>
<rect x="73.52" y="142.65" width="3.72" height="7.9" fill="#d9d9d9"/>
<rect x="77.85" y="142.65" width="3.72" height="7.9" fill="#d9d9d9"/>
<rect x="82.18" y="142.65" width="3.72" height="7.9" fill="#d9d9d9"/>
<rect x="86.51" y="142.65" width="3.72" height="7.9" fill="#d9d9d9"/>
<rect x="90.84" y="142.65" width="3.72" height="7.9" fill="#d9d9d9"/>
<rect x="95.17" y="142.65" width="3.72" height="7.9" fill="#d9d9d9"/>
<rect x="99.5" y="142.65" width="3.72" height="7.9" fill="#d9d9d9"/>
<rect x="103.83" y="142.65" width="3.72" height="7.9" fill="#d9d9d9"/>
<rect x="108.17" y="142.65" width="3.72" height="7.9" fill="#d9d9d9"/>
<rect x="112.5" y="142.65" width="3.72" height="7.9" fill="#d9d9d9"/>
<rect x="116.83" y="142.65" width="3.72" height="7.9" fill="#d9d9d9"/>
<rect x="121.16" y="142.65" width="3.72" height="7.9" fill="#d9d9d9"/>
<rect x="125.49" y="142.65" width="3.72" height="7.9" fill="#d9d9d9"/>
<rect x="129.82" y="142.65" width="3.72" height="7.9" fill="#d9d9d9"/>
<rect x="134.15" y="142.65" width="3.72" height="7.9" fill="#d9d9d9"/>
<rect x="138.48" y="142.65" width="3.72" height="7.9" fill="#d9d9d9"/>
<rect x="142.81" y="142.65" width="3.72" height="7.9" fill="#d9d9d9"/>
<rect x="147.14" y="142.65" width="3.72" height="7.9" fill="#d9d9d9"/>
<rect x="151.48" y="142.65" width="3.72" height="7.9" fill="#d9d9d9"/>
<rect x="155.81" y="142.65" width="3.72" height="7.9" fill="#d9d9d9"/>
<rect x="160.14" y="142.65" width="3.72" height="7.9" fill="#62a83d"/>
<rect x="164.47" y="142.65" width="3.72" height="7.9" fill="#d9d9d9"/>
<rect x="168.8" y="142.65" width="3.72" height="7.9" fill="#d9d9d9"/>
<rect x="173.13" y="142.65" width="3.72" height="7.9" fill="#62a83d"/>
<rect x="177.46" y="142.65" width="3.72" height="7.9" fill="#d9d9d9"/>
<rect x="181.79" y="142.65" width="3.72" height="7.9" fill="#d9d9d9"/>
<rect x="186.12" y="142.65" width="3.72" height="7.9" fill="#d9d9d9"/>
<rect x="190.45" y="142.65" width="3.72" height="7.9" fill="#d9d9d9"/>
<rect x="194.79" y="142.65" width="3.72" height="7.9" fill="#d9d9d9"/>
<rect x="199.12" y="142.65" width="3.72" height="7.9" fill="#d9d9d9"/>
<rect x="203.45" y="142.65" width="3.72" height="7.9" fill="#d9d9d9"/>
<rect x="207.78" y="142.65" width="3.72" height="7.9" fill="#d9d9d9"/>
<rect x="212.11" y="142.65" width="3.72" height="7.9" fill="#d9d9d9"/>
<rect x="216.44" y="142.65" width="3.72" height="7.9" fill="#d9d9d9"/>
<rect x="220.77" y="142.65" width="3.72" height="7.9" fill="#d9d9d9"/>
<rect x="225.1" y="142.65" width="3.72" height="7.9" fill="#d9d9d9"/>
<rect x="229.43" y="142.65" width="3.72" height="7.9" fill="#d9d9d9"/>
<rect x="233.76" y="142.65" width="3.72" height="7.9" fill="#d9d9d9"/>
<rect x="238.1" y="142.65" width="3.72" height="7.9" fill="#d9d9d9"/>
<rect x="242.43" y="142.65" width="3.72" height="7.9" fill="#d9d9d9"/>
<rect x="246.76" y="142.65" width="3.72" height="7.9" fill="#d9d9d9"/>
<rect x="251.09" y="142.65" width="3.72" height="7.9" fill="#d9d9d9"/>
<rect x="255.42" y="142.65" width="3.72" height="7.9" fill="#d9d9d9"/>
<rect x="259.75" y="142.65" width="3.72" height="7.9" fill="#d9d9d9"/>
<rect x="264.08" y="142.65" width="3.72" height="7.9" fill="#d9d9d9"/>
<rect x="268.41" y="142.65" width="3.72" height="7.9" fill="#d9d9d9"/>
<rect x="272.74" y="142.65" width="3.72" height="7.9" fill="#d9d9d9"/>
<rect x="277.07" y="142.65" width="3.72" height="7.9" fill="#d9d9d9"/>
<rect x="281.41" y="142.65" width="3.72" height="7.9" fill="#d9d9d9"/>
<rect x="285.74" y="142.65" width="3.72" height="7.9" fill="#d9d9d9"/>
<rect x="290.07" y="142.65" width="3.72" height="7.9" fill="#d9d9d9"/>
<rect x="294.4" y="142.65" width="3.72" height="7.9" fill="#d9d9d9"/>
<rect x="298.73" y="142.65" width="3.72" height="7.9" fill="#d9d9d9"/>
<rect x="303.06" y="142.65" width="3.72" height="7.9" fill="#d9d9d9"/>
<rect x="307.39" y="142.65" width="3.72" height="7.9" fill="#d9d9d9"/>
<rect x="311.72" y="142.65" width="3.72" height="7.9" fill="#d9d9d9"/>
<rect x="316.05" y="142.65" width="3.72" height="7.9" fill="#d9d9d9"/>
<rect x="320.38" y="142.65" width="3.72" height="7.9" fill="#d9d9d9"/>
<rect x="324.72" y="142.65" width="3.72" height="7.9" fill="#d9d9d9"/>
<rect x="329.05" y="142.65" width="3.72" height="7.9" fill="#d9d9d9"/>
<rect x="333.38" y="142.65" width="3.72" height="7.9" fill="#62a83d"/>
<rect x="337.71" y="142.65" width="3.72" height="7.9" fill="#d9d9d9"/>
<rect x="342.04" y="142.65" width="3.72" height="7.9" fill="#62a83d"/>
<rect x="346.37" y="142.65" width="3.72" height="7.9" fill="#d9d9d9"/>
<rect x="350.7" y="142.65" width="3.72" height="7.9" fill="#d9d9d9"/>
<rect x="355.03" y="142.65" width="3.72" height="7.9" fill="#d9d9d9"/>
<rect x="359.36" y="142.65" width="3.72" height="7.9" fill="#d9d9d9"/>
<rect x="363.69" y="142.65" width="3.72" height="7.9" fill="#d9d9d9"/>
<rect x="368.03" y="142.65" width="3.72" height="7.9" fill="#d9d9d9"/>
<rect x="372.36" y="142.65" width="3.72" height="7.9" fill="#d9d9d9"/>
<rect x="376.69" y="142.65" width="3.72" height="7.9" fill="#d9d9d9"/>
<rect x="381.02" y="142.65" width="3.72" height="7.9" fill="#d9d9d9"/>
<rect x="385.35" y="142.65" width="3.72" height="7.9" fill="#d9d9d9"/>
<rect x="389.68" y="142.65" width="3.72" height="7.9" fill="#d9d9d9"/>
<rect x="394.01" y="142.65" width="3.72" height="7.9" fill="#d9d9d9"/>
<rect x="398.34" y="142.65" width="3.72" height="7.9" fill="#d9d9d9"/>
<rect x="402.67" y="142.65" width="3.72" height="7.9" fill="#d9d9d9"/>
<rect x="407" y="142.65" width="3.72" height="7.9" fill="#d9d9d9"/>
<rect x="411.34" y="142.65" width="3.72" height="7.9" fill="#d9d9d9"/>
<rect x="415.67" y="142.65" width="3.72" height="7.9" fill="#d9d9d9"/>
<rect x="420" y="142.65" width="3.72" height="7.9" fill="#d9d9d9"/>
<rect x="424.33" y="142.65" width="3.72" height="7.9" fill="#d9d9d9"/>
<rect x="428.66" y="142.65" width="3.72" height="7.9" fill="#d9d9d9"/>
<rect x="432.99" y="142.65" width="3.72" height="7.9" fill="#d9d9d9"/>
<rect x="437.32" y="142.65" width="3.72" height="7.9" fill="#d9d9d9"/>
<rect x="441.65" y="142.65" width="3.72" height="7.9" fill="#d9d9d9"/>
<rect x="43.2" y="151.9" width="3.72" height="7.9" fill="#d9d9d9"/>
<rect x="47.53" y="151.9" width="3.72" height="7.9" fill="#d9d9d9"/>
<rect x="51.86" y="151.9" width="3.72" height="7.9" fill="#d9d9d9"/>
<rect x="56.19" y="151.9" width="3.72" height="7.9" fill="#d9d9d9"/>
<rect x="60.52" y="151.9" width="3.72" height="7.9" fill="#d9d9d9"/>
<rect x="64.86" y="151.9" width="3.72" height="7.9" fill="#d9d9d9"/>
<rect x="69.19" y="151.9" width="3.72" height="7.9" fill="#d9d9d9"/>
<rect x="73.52" y="151.9" width="3.72" height="7.9" fill="#d9d9d9"/>
<rect x="77.85" y="151.9" width="3.72" height="7.9" fill="#d9d9d9"/>
<rect x="82.18" y="151.9" width="3.72" height="7.9" fill="#d9d9d9"/>
<rect x="86.51" y="151.9" width="3.72" height="7.9" fill="#d9d9d9"/>
<rect x="90.84" y="151.9" width="3.72" height="7.9" fill="#d9d9d9"/>
<rect x="95.17" y="151.9" width="3.72" height="7.9" fill="#d9d9d9"/>
<rect x="99.5" y="151.9" width="3.72" height="7.9" fill="#d9d9d9"/>
<rect x="103.83" y="151.9" width="3.72" height="7.9" fill="#62a83d"/>
<rect x="108.17" y="151.9" width="3.72" height="7.9" fill="#d9d9d9"/>
<rect x="112.5" y="151.9" width="3.72" height="7.9" fill="#d9d9d9"/>
<rect x="116.83" y="151.9" width="3.72" height="7.9" fill="#d9d9d9"/>
<rect x="121.16" y="151.9" width="3.72" height="7.9" fill="#d9d9d9"/>
<rect x="125.49" y="151.9" width="3.72" height="7.9" fill="#d9d9d9"/>
<rect x="129.82" y="151.9" width="3.72" height="7.9" fill="#d9d9d9"/>
<rect x="134.15" y="151.9" width="3.72" height="7.9" fill="#d9d9d9"/>
<rect x="138.48" y="151.9" width="3.72" height="7.9" fill="#d9d9d9"/>
<rect x="142.81" y="151.9" width="3.72" height="7.9" fill="#d9d9d9"/>
<rect x="147.14" y="151.9" width="3.72" height="7.9" fill="#d9d9d9"/>
<rect x="151.48" y="151.9" width="3.72" height="7.9" fill="#d9d9d9"/>
<rect x="155.81" y="151.9" width="3.72" height="7.9" fill="#d9d9d9"/>
<rect x="160.14" y="151.9" width="3.72" height="7.9" fill="#d9d9d9"/>
<rect x="164.47" y="151.9" width="3.72" height="7.9" fill="#d9d9d9"/>
<rect x="168.8" y="151.9" width="3.72" height="7.9" fill="#d9d9d9"/>
<rect x="173.13" y="151.9" width="3.72" height="7.9" fill="#d9d9d9"/>
<rect x="177.46" y="151.9" width="3.72" height="7.9" fill="#d9d9d9"/>
<rect x="181.79" y="151.9" width="3.72" height="7.9" fill="#d9d9d9"/>
<rect x="186.12" y="151.9" width="3.72" height="7.9" fill="#d9d9d9"/>
<rect x="190.45" y="151.9" width="3.72" height="7.9" fill="#d9d9d9"/>
<rect x="194.79" y="151.9" width="3.72" height="7.9" fill="#62a83d"/>
<rect x="199.12" y="151.9" width="3.72" height="7.9" fill="#d9d9d9"/>
<rect x="203.45" y="151.9" width="3.72" height="7.9" fill="#d9d9d9"/>
<rect x="207.78" y="151.9" width="3.72" height="7.9" fill="#d9d9d9"/>
<rect x="212.11" y="151.9" width="3.72" height="7.9" fill="#d9d9d9"/>
<rect x="216.44" y="151.9" width="3.72" height="7.9" fill="#d9d9d9"/>
<rect x="220.77" y="151.9" width="3.72" height="7.9" fill="#d9d9d9"/>
<rect x="225.1" y="151.9" width="3.72" height="7.9" fill="#d9d9d9"/>
<rect x="229.43" y="151.9" width="3.72" height="7.9" fill="#d9d9d9"/>
<rect x="233.76" y="151.9" width="3.72" height="7.9" fill="#d9d9d9"/>
<rect x="238.1" y="151.9" width="3.72" height="7.9" fill="#d9d9d9"/>
<rect x="242.43" y="151.9" width="3.72" height="7.9" fill="#d9d9d9"/>
<rect x="246.76" y="151.9" width="3.72" height="7.9" fill="#d9d9d9"/>
<rect x="251.09" y="151.9" width="3.72" height="7.9" fill="#d9d9d9"/>
<rect x="255.42" y="151.9" width="3.72" height="7.9" fill="#d9d9d9"/>
<rect x="259.75" y="151.9" width="3.72" height="7.9" fill="#d9d9d9"/>
<rect x="264.08" y="151.9" width="3.72" height="7.9" fill="#d9d9d9"/>
<rect x="268.41" y="151.9" width="3.72" height="7.9" fill="#d9d9d9"/>
<rect x="272.74" y="151.9" width="3.72" height="7.9" fill="#d9d9d9"/>
<rect x="277.07" y="151.9" width="3.72" height="7.9" fill="#d9d9d9"/>
<rect x="281.41" y="151.9" width="3.72" height="7.9" fill="#d9d9d9"/>
<rect x="285.74" y="151.9" width="3.72" height="7.9" fill="#d9d9d9"/>
<rect x="290.07" y="151.9" width="3.72" height="7.9" fill="#d9d9d9"/>
<rect x="294.4" y="151.9" width="3.72" height="7.9" fill="#d9d9d9"/>
<rect x="298.73" y="151.9" width="3.72" height="7.9" fill="#d9d9d9"/>
<rect x="303.06" y="151.9" width="3.72" height="7.9" fill="#d9d9d9"/>
<rect x="307.39" y="151.9" width="3.72" height="7.9" fill="#d9d9d9"/>
<rect x="311.72" y="151.9" width="3.72" height="7.9" fill="#d9d9d9"/>
<rect x="316.05" y="151.9" width="3.72" height="7.9" fill="#d9d9d9"/>
<rect x="320.38" y="151.9" width="3.72" height="7.9" fill="#d9d9d9"/>
<rect x="324.72" y="151.9" width="3.72" height="7.9" fill="#d9d9d9"/>
<rect x="329.05" y="151.9" width="3.72" height="7.9" fill="#d9d9d9"/>
<rect x="333.38" y="151.9" width="3.72" height="7.9" fill="#d9d9d9"/>
<rect x="337.71" y="151.9" width="3.72" height="7.9" fill="#d9d9d9"/>
<rect x="342.04" y="151.9" width="3.72" height="7.9" fill="#d9d9d9"/>
<rect x="346.37" y="151.9" width="3.72" height="7.9" fill="#d9d9d9"/>
<rect x="350.7" y="151.9" width="3.72" height="7.9" fill="#d9d9d9"/>
<rect x="355.03" y="151.9" width="3.72" height="7.9" fill="#d9d9d9"/>
<rect x="359.36" y="151.9" width="3.72" height="7.9" fill="#1f3f7a"/>
<rect x="363.69" y="151.9" width="3.72" height="7.9" fill="#d9d9d9"/>
<rect x="368.03" y="151.9" width="3.72" height="7.9" fill="#d9d9d9"/>
<rect x="372.36" y="151.9" width="3.72" height="7.9" fill="#d9d9d9"/>
<rect x="376.69" y="151.9" width="3.72" height="7.9" fill="#d9d9d9"/>
<rect x="381.02" y="151.9" width="3.72" height="7.9" fill="#d9d9d9"/>
<rect x="385.35" y="151.9" width="3.72" height="7.9" fill="#d9d9d9"/>
<rect x="389.68" y="151.9" width="3.72" height="7.9" fill="#d9d9d9"/>
<rect x="394.01" y="151.9" width="3.72" height="7.9" fill="#d9d9d9"/>
<rect x="398.34" y="151.9" width="3.72" height="7.9" fill="#d9d9d9"/>
<rect x="402.67" y="151.9" width="3.72" height="7.9" fill="#d9d9d9"/>
<rect x="407" y="151.9" width="3.72" height="7.9" fill="#d9d9d9"/>
<rect x="411.34" y="151.9" width="3.72" height="7.9" fill="#d9d9d9"/>
<rect x="415.67" y="151.9" width="3.72" height="7.9" fill="#d9d9d9"/>
<rect x="420" y="151.9" width="3.72" height="7.9" fill="#1f3f7a"/>
<rect x="424.33" y="151.9" width="3.72" height="7.9" fill="#d9d9d9"/>
<rect x="428.66" y="151.9" width="3.72" height="7.9" fill="#d9d9d9"/>
<rect x="432.99" y="151.9" width="3.72" height="7.9" fill="#d9d9d9"/>
<rect x="437.32" y="151.9" width="3.72" height="7.9" fill="#d9d9d9"/>
<rect x="441.65" y="151.9" width="3.72" height="7.9" fill="#d9d9d9"/>
<rect x="43.2" y="161.15" width="3.72" height="7.9" fill="#d9d9d9"/>
<rect x="47.53" y="161.15" width="3.72" height="7.9" fill="#d9d9d9"/>
<rect x="51.86" y="161.15" width="3.72" height="7.9" fill="#d9d9d9"/>
<rect x="56.19" y="161.15" width="3.72" height="7.9" fill="#d9d9d9"/>
<rect x="60.52" y="161.15" width="3.72" height="7.9" fill="#d9d9d9"/>
<rect x="64.86" y="161.15" width="3.72" height="7.9" fill="#d9d9d9"/>
<rect x="69.19" y="161.15" width="3.72" height="7.9" fill="#d9d9d9"/>
<rect x="73.52" y="161.15" width="3.72" height="7.9" fill="#d9d9d9"/>
<rect x="77.85" y="161.15" width="3.72" height="7.9" fill="#d9d9d9"/>
<rect x="82.18" y="161.15" width="3.72" height="7.9" fill="#a8002c"/>
<rect x="86.51" y="161.15" width="3.72" height="7.9" fill="#d9d9d9"/>
<rect x="90.84" y="161.15" width="3.72" height="7.9" fill="#d9d9d9"/>
<rect x="95.17" y="161.15" width="3.72" height="7.9" fill="#d9d9d9"/>
<rect x="99.5" y="161.15" width="3.72" height="7.9" fill="#d9d9d9"/>
<rect x="103.83" y="161.15" width="3.72" height="7.9" fill="#d9d9d9"/>
<rect x="108.17" y="161.15" width="3.72" height="7.9" fill="#d9d9d9"/>
<rect x="112.5" y="161.15" width="3.72" height="7.9" fill="#d9d9d9"/>
<rect x="116.83" y="161.15" width="3.72" height="7.9" fill="#d9d9d9"/>
<rect x="121.16" y="161.15" width="3.72" height="7.9" fill="#d9d9d9"/>
<rect x="125.49" y="161.15" width="3.72" height="7.9" fill="#d9d9d9"/>
<rect x="129.82" y="161.15" width="3.72" height="7.9" fill="#d9d9d9"/>
<rect x="134.15" y="161.15" width="3.72" height="7.9" fill="#d9d9d9"/>
<rect x="138.48" y="161.15" width="3.72" height="7.9" fill="#d9d9d9"/>
<rect x="142.81" y="161.15" width="3.72" height="7.9" fill="#d9d9d9"/>
<rect x="147.14" y="161.15" width="3.72" height="7.9" fill="#d9d9d9"/>
<rect x="151.48" y="161.15" width="3.72" height="7.9" fill="#d9d9d9"/>
<rect x="155.81" y="161.15" width="3.72" height="7.9" fill="#d9d9d9"/>
<rect x="160.14" y="161.15" width="3.72" height="7.9" fill="#d9d9d9"/>
<rect x="164.47" y="161.15" width="3.72" height="7.9" fill="#d9d9d9"/>
<rect x="168.8" y="161.15" width="3.72" height="7.9" fill="#d9d9d9"/>
<rect x="173.13" y="161.15" width="3.72" height="7.9" fill="#d9d9d9"/>
<rect x="177.46" y="161.15" width="3.72" height="7.9" fill="#d9d9d9"/>
<rect x="181.79" y="161.15" width="3.72" height="7.9" fill="#d9d9d9"/>
<rect x="186.12" y="161.15" width="3.72" height="7.9" fill="#d9d9d9"/>
<rect x="190.45" y="161.15" width="3.72" height="7.9" fill="#d9d9d9"/>
<rect x="194.79" y="161.15" width="3.72" height="7.9" fill="#d9d9d9"/>
<rect x="199.12" y="161.15" width="3.72" height="7.9" fill="#d9d9d9"/>
<rect x="203.45" y="161.15" width="3.72" height="7.9" fill="#d9d9d9"/>
<rect x="207.78" y="161.15" width="3.72" height="7.9" fill="#d9d9d9"/>
<rect x="212.11" y="161.15" width="3.72" height="7.9" fill="#d9d9d9"/>
<rect x="216.44" y="161.15" width="3.72" height="7.9" fill="#d9d9d9"/>
<rect x="220.77" y="161.15" width="3.72" height="7.9" fill="#d9d9d9"/>
<rect x="225.1" y="161.15" width="3.72" height="7.9" fill="#d9d9d9"/>
<rect x="229.43" y="161.15" width="3.72" height="7.9" fill="#d9d9d9"/>
<rect x="233.76" y="161.15" width="3.72" height="7.9" fill="#d9d9d9"/>
<rect x="238.1" y="161.15" width="3.72" height="7.9" fill="#d9d9d9"/>
<rect x="242.43" y="161.15" width="3.72" height="7.9" fill="#d9d9d9"/>
<rect x="246.76" y="161.15" width="3.72" height="7.9" fill="#d9d9d9"/>
<rect x="251.09" y="161.15" width="3.72" height="7.9" fill="#d9d9d9"/>
<rect x="255.42" y="161.15" width="3.72" height="7.9" fill="#d9d9d9"/>
<rect x="259.75" y="161.15" width="3.72" height="7.9" fill="#d9d9d9"/>
<rect x="264.08" y="161.15" width="3.72" height="7.9" fill="#d9d9d9"/>
<rect x="268.41" y="161.15" width="3.72" height="7.9" fill="#d9d9d9"/>
<rect x="272.74" y="161.15" width="3.72" height="7.9" fill="#d9d9d9"/>
<rect x="277.07" y="161.15" width="3.72" height="7.9" fill="#d9d9d9"/>
<rect x="281.41" y="161.15" width="3.72" height="7.9" fill="#d9d9d9"/>
<rect x="285.74" y="161.15" width="3.72" height="7.9" fill="#d9d9d9"/>
<rect x="290.07" y="161.15" width="3.72" height="7.9" fill="#d9d9d9"/>
<rect x="294.4" y="161.15" width="3.72" height="7.9" fill="#1f3f7a"/>
<rect x="298.73" y="161.15" width="3.72" height="7.9" fill="#62a83d"/>
<rect x="303.06" y="161.15" width="3.72" height="7.9" fill="#d9d9d9"/>
<rect x="307.39" y="161.15" width="3.72" height="7.9" fill="#d9d9d9"/>
<rect x="311.72" y="161.15" width="3.72" height="7.9" fill="#d9d9d9"/>
<rect x="316.05" y="161.15" width="3.72" height="7.9" fill="#d9d9d9"/>
<rect x="320.38" y="161.15" width="3.72" height="7.9" fill="#d9d9d9"/>
<rect x="324.72" y="161.15" width="3.72" height="7.9" fill="#d9d9d9"/>
<rect x="329.05" y="161.15" width="3.72" height="7.9" fill="#d9d9d9"/>
<rect x="333.38" y="161.15" width="3.72" height="7.9" fill="#d9d9d9"/>
<rect x="337.71" y="161.15" width="3.72" height="7.9" fill="#d9d9d9"/>
<rect x="342.04" y="161.15" width="3.72" height="7.9" fill="#d9d9d9"/>
<rect x="346.37" y="161.15" width="3.72" height="7.9" fill="#d9d9d9"/>
<rect x="350.7" y="161.15" width="3.72" height="7.9" fill="#d9d9d9"/>
<rect x="355.03" y="161.15" width="3.72" height="7.9" fill="#d9d9d9"/>
<rect x="359.36" y="161.15" width="3.72" height="7.9" fill="#d9d9d9"/>
<rect x="363.69" y="161.15" width="3.72" height="7.9" fill="#d9d9d9"/>
<rect x="368.03" y="161.15" width="3.72" height="7.9" fill="#d9d9d9"/>
<rect x="372.36" y="161.15" width="3.72" height="7.9" fill="#d9d9d9"/>
<rect x="376.69" y="161.15" width="3.72" height="7.9" fill="#d9d9d9"/>
<rect x="381.02" y="161.15" width="3.72" height="7.9" fill="#d9d9d9"/>
<rect x="385.35" y="161.15" width="3.72" height="7.9" fill="#d9d9d9"/>
<rect x="389.68" y="161.15" width="3.72" height="7.9" fill="#d9d9d9"/>
<rect x="394.01" y="161.15" width="3.72" height="7.9" fill="#d9d9d9"/>
<rect x="398.34" y="161.15" width="3.72" height="7.9" fill="#d9d9d9"/>
<rect x="402.67" y="161.15" width="3.72" height="7.9" fill="#d9d9d9"/>
<rect x="407" y="161.15" width="3.72" height="7.9" fill="#d9d9d9"/>
<rect x="411.34" y="161.15" width="3.72" height="7.9" fill="#d9d9d9"/>
<rect x="415.67" y="161.15" width="3.72" height="7.9" fill="#d9d9d9"/>
<rect x="420" y="161.15" width="3.72" height="7.9" fill="#d9d9d9"/>
<rect x="424.33" y="161.15" width="3.72" height="7.9" fill="#d9d9d9"/>
<rect x="428.66" y="161.15" width="3.72" height="7.9" fill="#d9d9d9"/>
<rect x="432.99" y="161.15" width="3.72" height="7.9" fill="#d9d9d9"/>
<rect x="437.32" y="161.15" width="3.72" height="7.9" fill="#d9d9d9"/>
<rect x="441.65" y="161.15" width="3.72" height="7.9" fill="#d9d9d9"/>
<rect x="43.2" y="170.4" width="3.72" height="7.9" fill="#d9d9d9"/>
<rect x="47.53" y="170.4" width="3.72" height="7.9" fill="#d9d9d9"/>
<rect x="51.86" y="170.4" width="3.72" height="7.9" fill="#d9d9d9"/>
<rect x="56.19" y="170.4" width="3.72" height="7.9" fill="#d9d9d9"/>
<rect x="60.52" y="170.4" width="3.72" height="7.9" fill="#d9d9d9"/>
<rect x="64.86" y="170.4" width="3.72" height="7.9" fill="#d9d9d9"/>
<rect x="69.19" y="170.4" width="3.72" height="7.9" fill="#d9d9d9"/>
<rect x="73.52" y="170.4" width="3.72" height="7.9" fill="#d9d9d9"/>
<rect x="77.85" y="170.4" width="3.72" height="7.9" fill="#d9d9d9"/>
<rect x="82.18" y="170.4" width="3.72" height="7.9" fill="#d9d9d9"/>
<rect x="86.51" y="170.4" width="3.72" height="7.9" fill="#d9d9d9"/>
<rect x="90.84" y="170.4" width="3.72" height="7.9" fill="#d9d9d9"/>
<rect x="95.17" y="170.4" width="3.72" height="7.9" fill="#d9d9d9"/>
<rect x="99.5" y="170.4" width="3.72" height="7.9" fill="#d9d9d9"/>
<rect x="103.83" y="170.4" width="3.72" height="7.9" fill="#d9d9d9"/>
<rect x="108.17" y="170.4" width="3.72" height="7.9" fill="#d9d9d9"/>
<rect x="112.5" y="170.4" width="3.72" height="7.9" fill="#d9d9d9"/>
<rect x="116.83" y="170.4" width="3.72" height="7.9" fill="#d9d9d9"/>
<rect x="121.16" y="170.4" width="3.72" height="7.9" fill="#d9d9d9"/>
<rect x="125.49" y="170.4" width="3.72" height="7.9" fill="#d9d9d9"/>
<rect x="129.82" y="170.4" width="3.72" height="7.9" fill="#d9d9d9"/>
<rect x="134.15" y="170.4" width="3.72" height="7.9" fill="#d9d9d9"/>
<rect x="138.48" y="170.4" width="3.72" height="7.9" fill="#d9d9d9"/>
<rect x="142.81" y="170.4" width="3.72" height="7.9" fill="#d9d9d9"/>
<rect x="147.14" y="170.4" width="3.72" height="7.9" fill="#d9d9d9"/>
<rect x="151.48" y="170.4" width="3.72" height="7.9" fill="#d9d9d9"/>
<rect x="155.81" y="170.4" width="3.72" height="7.9" fill="#d9d9d9"/>
<rect x="160.14" y="170.4" width="3.72" height="7.9" fill="#d9d9d9"/>
<rect x="164.47" y="170.4" width="3.72" height="7.9" fill="#1f3f7a"/>
<rect x="168.8" y="170.4" width="3.72" height="7.9" fill="#d9d9d9"/>
<rect x="173.13" y="170.4" width="3.72" height="7.9" fill="#d9d9d9"/>
<rect x="177.46" y="170.4" width="3.72" height="7.9" fill="#d9d9d9"/>
<rect x="181.79" y="170.4" width="3.72" height="7.9" fill="#d9d9d9"/>
<rect x="186.12" y="170.4" width="3.72" height="7.9" fill="#d9d9d9"/>
<rect x="190.45" y="170.4" width="3.72" height="7.9" fill="#d9d9d9"/>
<rect x="194.79" y="170.4" width="3.72" height="7.9" fill="#d9d9d9"/>
<rect x="199.12" y="170.4" width="3.72" height="7.9" fill="#d9d9d9"/>
<rect x="203.45" y="170.4" width="3.72" height="7.9" fill="#d9d9d9"/>
<rect x="207.78" y="170.4" width="3.72" height="7.9" fill="#d9d9d9"/>
<rect x="212.11" y="170.4" width="3.72" height="7.9" fill="#d9d9d9"/>
<rect x="216.44" y="170.4" width="3.72" height="7.9" fill="#d9d9d9"/>
<rect x="220.77" y="170.4" width="3.72" height="7.9" fill="#d9d9d9"/>
<rect x="225.1" y="170.4" width="3.72" height="7.9" fill="#d9d9d9"/>
<rect x="229.43" y="170.4" width="3.72" height="7.9" fill="#d9d9d9"/>
<rect x="233.76" y="170.4" width="3.72" height="7.9" fill="#d9d9d9"/>
<rect x="238.1" y="170.4" width="3.72" height="7.9" fill="#d9d9d9"/>
<rect x="242.43" y="170.4" width="3.72" height="7.9" fill="#d9d9d9"/>
<rect x="246.76" y="170.4" width="3.72" height="7.9" fill="#d9d9d9"/>
<rect x="251.09" y="170.4" width="3.72" height="7.9" fill="#d9d9d9"/>
<rect x="255.42" y="170.4" width="3.72" height="7.9" fill="#d9d9d9"/>
<rect x="259.75" y="170.4" width="3.72" height="7.9" fill="#d9d9d9"/>
<rect x="264.08" y="170.4" width="3.72" height="7.9" fill="#d9d9d9"/>
<rect x="268.41" y="170.4" width="3.72" height="7.9" fill="#d9d9d9"/>
<rect x="272.74" y="170.4" width="3.72" height="7.9" fill="#d9d9d9"/>
<rect x="277.07" y="170.4" width="3.72" height="7.9" fill="#d9d9d9"/>
<rect x="281.41" y="170.4" width="3.72" height="7.9" fill="#d9d9d9"/>
<rect x="285.74" y="170.4" width="3.72" height="7.9" fill="#d9d9d9"/>
<rect x="290.07" y="170.4" width="3.72" height="7.9" fill="#d9d9d9"/>
<rect x="294.4" y="170.4" width="3.72" height="7.9" fill="#d9d9d9"/>
<rect x="298.73" y="170.4" width="3.72" height="7.9" fill="#d9d9d9"/>
<rect x="303.06" y="170.4" width="3.72" height="7.9" fill="#d9d9d9"/>
<rect x="307.39" y="170.4" width="3.72" height="7.9" fill="#d9d9d9"/>
<rect x="311.72" y="170.4" width="3.72" height="7.9" fill="#d9d9d9"/>
<rect x="316.05" y="170.4" width="3.72" height="7.9" fill="#d9d9d9"/>
<rect x="320.38" y="170.4" width="3.72" height="7.9" fill="#d9d9d9"/>
<rect x="324.72" y="170.4" width="3.72" height="7.9" fill="#d9d9d9"/>
<rect x="329.05" y="170.4" width="3.72" height="7.9" fill="#d9d9d9"/>
<rect x="333.38" y="170.4" width="3.72" height="7.9" fill="#d9d9d9"/>
<rect x="337.71" y="170.4" width="3.72" height="7.9" fill="#62a83d"/>
<rect x="342.04" y="170.4" width="3.72" height="7.9" fill="#d9d9d9"/>
<rect x="346.37" y="170.4" width="3.72" height="7.9" fill="#d9d9d9"/>
<rect x="350.7" y="170.4" width="3.72" height="7.9" fill="#d9d9d9"/>
<rect x="355.03" y="170.4" width="3.72" height="7.9" fill="#d9d9d9"/>
<rect x="359.36" y="170.4" width="3.72" height="7.9" fill="#d9d9d9"/>
<rect x="363.69" y="170.4" width="3.72" height="7.9" fill="#d9d9d9"/>
<rect x="368.03" y="170.4" width="3.72" height="7.9" fill="#d9d9d9"/>
<rect x="372.36" y="170.4" width="3.72" height="7.9" fill="#d9d9d9"/>
<rect x="376.69" y="170.4" width="3.72" height="7.9" fill="#d9d9d9"/>
<rect x="381.02" y="170.4" width="3.72" height="7.9" fill="#d9d9d9"/>
<rect x="385.35" y="170.4" width="3.72" height="7.9" fill="#d9d9d9"/>
<rect x="389.68" y="170.4" width="3.72" height="7.9" fill="#d9d9d9"/>
<rect x="394.01" y="170.4" width="3.72" height="7.9" fill="#d9d9d9"/>
<rect x="398.34" y="170.4" width="3.72" height="7.9" fill="#d9d9d9"/>
<rect x="402.67" y="170.4" width="3.72" height="7.9" fill="#d9d9d9"/>
<rect x="407" y="170.4" width="3.72" height="7.9" fill="#d9d9d9"/>
<rect x="411.34" y="170.4" width="3.72" height="7.9" fill="#d9d9d9"/>
<rect x="415.67" y="170.4" width="3.72" height="7.9" fill="#1f3f7a"/>
<rect x="420" y="170.4" width="3.72" height="7.9" fill="#d9d9d9"/>
<rect x="424.33" y="170.4" width="3.72" height="7.9" fill="#d9d9d9"/>
<rect x="428.66" y="170.4" width="3.72" height="7.9" fill="#d9d9d9"/>
<rect x="432.99" y="170.4" width="3.72" height="7.9" fill="#d9d9d9"/>
<rect x="437.32" y="170.4" width="3.72" height="7.9" fill="#d9d9d9"/>
<rect x="441.65" y="170.4" width="3.72" height="7.9" fill="#d9d9d9"/>
<rect x="43.2" y="179.65" width="3.72" height="7.9" fill="#62a83d"/>
<rect x="47.53" y="179.65" width="3.72" height="7.9" fill="#d9d9d9"/>
<rect x="51.86" y="179.65" width="3.72" height="7.9" fill="#d9d9d9"/>
<rect x="56.19" y="179.65" width="3.72" height="7.9" fill="#d9d9d9"/>
<rect x="60.52" y="179.65" width="3.72" height="7.9" fill="#d9d9d9"/>
<rect x="64.86" y="179.65" width="3.72" height="7.9" fill="#d9d9d9"/>
<rect x="69.19" y="179.65" width="3.72" height="7.9" fill="#d9d9d9"/>
<rect x="73.52" y="179.65" width="3.72" height="7.9" fill="#d9d9d9"/>
<rect x="77.85" y="179.65" width="3.72" height="7.9" fill="#d9d9d9"/>
<rect x="82.18" y="179.65" width="3.72" height="7.9" fill="#d9d9d9"/>
<rect x="86.51" y="179.65" width="3.72" height="7.9" fill="#d9d9d9"/>
<rect x="90.84" y="179.65" width="3.72" height="7.9" fill="#d9d9d9"/>
<rect x="95.17" y="179.65" width="3.72" height="7.9" fill="#d9d9d9"/>
<rect x="99.5" y="179.65" width="3.72" height="7.9" fill="#d9d9d9"/>
<rect x="103.83" y="179.65" width="3.72" height="7.9" fill="#d9d9d9"/>
<rect x="108.17" y="179.65" width="3.72" height="7.9" fill="#d9d9d9"/>
<rect x="112.5" y="179.65" width="3.72" height="7.9" fill="#d9d9d9"/>
<rect x="116.83" y="179.65" width="3.72" height="7.9" fill="#d9d9d9"/>
<rect x="121.16" y="179.65" width="3.72" height="7.9" fill="#d9d9d9"/>
<rect x="125.49" y="179.65" width="3.72" height="7.9" fill="#d9d9d9"/>
<rect x="129.82" y="179.65" width="3.72" height="7.9" fill="#d9d9d9"/>
<rect x="134.15" y="179.65" width="3.72" height="7.9" fill="#d9d9d9"/>
<rect x="138.48" y="179.65" width="3.72" height="7.9" fill="#d9d9d9"/>
<rect x="142.81" y="179.65" width="3.72" height="7.9" fill="#d9d9d9"/>
<rect x="147.14" y="179.65" width="3.72" height="7.9" fill="#d9d9d9"/>
<rect x="151.48" y="179.65" width="3.72" height="7.9" fill="#d9d9d9"/>
<rect x="155.81" y="179.65" width="3.72" height="7.9" fill="#d9d9d9"/>
<rect x="160.14" y="179.65" width="3.72" height="7.9" fill="#d9d9d9"/>
<rect x="164.47" y="179.65" width="3.72" height="7.9" fill="#d9d9d9"/>
<rect x="168.8" y="179.65" width="3.72" height="7.9" fill="#d9d9d9"/>
<rect x="173.13" y="179.65" width="3.72" height="7.9" fill="#d9d9d9"/>
<rect x="177.46" y="179.65" width="3.72" height="7.9" fill="#d9d9d9"/>
<rect x="181.79" y="179.65" width="3.72" height="7.9" fill="#d9d9d9"/>
<rect x="186.12" y="179.65" width="3.72" height="7.9" fill="#d9d9d9"/>
<rect x="190.45" y="179.65" width="3.72" height="7.9" fill="#d9d9d9"/>
<rect x="194.79" y="179.65" width="3.72" height="7.9" fill="#d9d9d9"/>
<rect x="199.12" y="179.65" width="3.72" height="7.9" fill="#d9d9d9"/>
<rect x="203.45" y="179.65" width="3.72" height="7.9" fill="#d9d9d9"/>
<rect x="207.78" y="179.65" width="3.72" height="7.9" fill="#d9d9d9"/>
<rect x="212.11" y="179.65" width="3.72" height="7.9" fill="#d9d9d9"/>
<rect x="216.44" y="179.65" width="3.72" height="7.9" fill="#d9d9d9"/>
<rect x="220.77" y="179.65" width="3.72" height="7.9" fill="#d9d9d9"/>
<rect x="225.1" y="179.65" width="3.72" height="7.9" fill="#d9d9d9"/>
<rect x="229.43" y="179.65" width="3.72" height="7.9" fill="#d9d9d9"/>
<rect x="233.76" y="179.65" width="3.72" height="7.9" fill="#d9d9d9"/>
<rect x="238.1" y="179.65" width="3.72" height="7.9" fill="#d9d9d9"/>
<rect x="242.43" y="179.65" width="3.72" height="7.9" fill="#d9d9d9"/>
<rect x="246.76" y="179.65" width="3.72" height="7.9" fill="#d9d9d9"/>
<rect x="251.09" y="179.65" width="3.72" height="7.9" fill="#d9d9d9"/>
<rect x="255.42" y="179.65" width="3.72" height="7.9" fill="#d9d9d9"/>
<rect x="259.75" y="179.65" width="3.72" height="7.9" fill="#d9d9d9"/>
<rect x="264.08" y="179.65" width="3.72" height="7.9" fill="#d9d9d9"/>
<rect x="268.41" y="179.65" width="3.72" height="7.9" fill="#d9d9d9"/>
<rect x="272.74" y="179.65" width="3.72" height="7.9" fill="#d9d9d9"/>
<rect x="277.07" y="179.65" width="3.72" height="7.9" fill="#d9d9d9"/>
<rect x="281.41" y="179.65" width="3.72" height="7.9" fill="#d9d9d9"/>
<rect x="285.74" y="179.65" width="3.72" height="7.9" fill="#d9d9d9"/>
<rect x="290.07" y="179.65" width="3.72" height="7.9" fill="#d9d9d9"/>
<rect x="294.4" y="179.65" width="3.72" height="7.9" fill="#d9d9d9"/>
<rect x="298.73" y="179.65" width="3.72" height="7.9" fill="#d9d9d9"/>
<rect x="303.06" y="179.65" width="3.72" height="7.9" fill="#d9d9d9"/>
<rect x="307.39" y="179.65" width="3.72" height="7.9" fill="#d9d9d9"/>
<rect x="311.72" y="179.65" width="3.72" height="7.9" fill="#d9d9d9"/>
<rect x="316.05" y="179.65" width="3.72" height="7.9" fill="#d9d9d9"/>
<rect x="320.38" y="179.65" width="3.72" height="7.9" fill="#d9d9d9"/>
<rect x="324.72" y="179.65" width="3.72" height="7.9" fill="#d9d9d9"/>
<rect x="329.05" y="179.65" width="3.72" height="7.9" fill="#d9d9d9"/>
<rect x="333.38" y="179.65" width="3.72" height="7.9" fill="#d9d9d9"/>
<rect x="337.71" y="179.65" width="3.72" height="7.9" fill="#d9d9d9"/>
<rect x="342.04" y="179.65" width="3.72" height="7.9" fill="#d9d9d9"/>
<rect x="346.37" y="179.65" width="3.72" height="7.9" fill="#d9d9d9"/>
<rect x="350.7" y="179.65" width="3.72" height="7.9" fill="#62a83d"/>
<rect x="355.03" y="179.65" width="3.72" height="7.9" fill="#d9d9d9"/>
<rect x="359.36" y="179.65" width="3.72" height="7.9" fill="#d9d9d9"/>
<rect x="363.69" y="179.65" width="3.72" height="7.9" fill="#d9d9d9"/>
<rect x="368.03" y="179.65" width="3.72" height="7.9" fill="#d9d9d9"/>
<rect x="372.36" y="179.65" width="3.72" height="7.9" fill="#62a83d"/>
<rect x="376.69" y="179.65" width="3.72" height="7.9" fill="#d9d9d9"/>
<rect x="381.02" y="179.65" width="3.72" height="7.9" fill="#d9d9d9"/>
<rect x="385.35" y="179.65" width="3.72" height="7.9" fill="#d9d9d9"/>
<rect x="389.68" y="179.65" width="3.72" height="7.9" fill="#d9d9d9"/>
<rect x="394.01" y="179.65" width="3.72" height="7.9" fill="#d9d9d9"/>
<rect x="398.34" y="179.65" width="3.72" height="7.9" fill="#d9d9d9"/>
<rect x="402.67" y="179.65" width="3.72" height="7.9" fill="#d9d9d9"/>
<rect x="407" y="179.65" width="3.72" height="7.9" fill="#d9d9d9"/>
<rect x="411.34" y="179.65" width="3.72" height="7.9" fill="#d9d9d9"/>
<rect x="415.67" y="179.65" width="3.72" height="7.9" fill="#d9d9d9"/>
<rect x="420" y="179.65" width="3.72" height="7.9" fill="#d9d9d9"/>
<rect x="424.33" y="179.65" width="3.72" height="7.9" fill="#d9d9d9"/>
<rect x="428.66" y="179.65" width="3.72" height="7.9" fill="#d9d9d9"/>
<rect x="432.99" y="179.65" width="3.72" height="7.9" fill="#d9d9d9"/>
<rect x="437.32" y="179.65" width="3.72" height="7.9" fill="#d9d9d9"/>
<rect x="441.65" y="179.65" width="3.72" height="7.9" fill="#d9d9d9"/>
<rect x="43.2" y="188.9" width="3.72" height="7.9" fill="#d9d9d9"/>
<rect x="47.53" y="188.9" width="3.72" height="7.9" fill="#d9d9d9"/>
<rect x="51.86" y="188.9" width="3.72" height="7.9" fill="#d9d9d9"/>
<rect x="56.19" y="188.9" width="3.72" height="7.9" fill="#d9d9d9"/>
<rect x="60.52" y="188.9" width="3.72" height="7.9" fill="#d9d9d9"/>
<rect x="64.86" y="188.9" width="3.72" height="7.9" fill="#d9d9d9"/>
<rect x="69.19" y="188.9" width="3.72" height="7.9" fill="#d9d9d9"/>
<rect x="73.52" y="188.9" width="3.72" height="7.9" fill="#d9d9d9"/>
<rect x="77.85" y="188.9" width="3.72" height="7.9" fill="#62a83d"/>
<rect x="82.18" y="188.9" width="3.72" height="7.9" fill="#d9d9d9"/>
<rect x="86.51" y="188.9" width="3.72" height="7.9" fill="#d9d9d9"/>
<rect x="90.84" y="188.9" width="3.72" height="7.9" fill="#d9d9d9"/>
<rect x="95.17" y="188.9" width="3.72" height="7.9" fill="#d9d9d9"/>
<rect x="99.5" y="188.9" width="3.72" height="7.9" fill="#d9d9d9"/>
<rect x="103.83" y="188.9" width="3.72" height="7.9" fill="#d9d9d9"/>
<rect x="108.17" y="188.9" width="3.72" height="7.9" fill="#d9d9d9"/>
<rect x="112.5" y="188.9" width="3.72" height="7.9" fill="#d9d9d9"/>
<rect x="116.83" y="188.9" width="3.72" height="7.9" fill="#d9d9d9"/>
<rect x="121.16" y="188.9" width="3.72" height="7.9" fill="#d9d9d9"/>
<rect x="125.49" y="188.9" width="3.72" height="7.9" fill="#d9d9d9"/>
<rect x="129.82" y="188.9" width="3.72" height="7.9" fill="#d9d9d9"/>
<rect x="134.15" y="188.9" width="3.72" height="7.9" fill="#d9d9d9"/>
<rect x="138.48" y="188.9" width="3.72" height="7.9" fill="#d9d9d9"/>
<rect x="142.81" y="188.9" width="3.72" height="7.9" fill="#62a83d"/>
<rect x="147.14" y="188.9" width="3.72" height="7.9" fill="#d9d9d9"/>
<rect x="151.48" y="188.9" width="3.72" height="7.9" fill="#d9d9d9"/>
<rect x="155.81" y="188.9" width="3.72" height="7.9" fill="#d9d9d9"/>
<rect x="160.14" y="188.9" width="3.72" height="7.9" fill="#d9d9d9"/>
<rect x="164.47" y="188.9" width="3.72" height="7.9" fill="#d9d9d9"/>
<rect x="168.8" y="188.9" width="3.72" height="7.9" fill="#d9d9d9"/>
<rect x="173.13" y="188.9" width="3.72" height="7.9" fill="#d9d9d9"/>
<rect x="177.46" y="188.9" width="3.72" height="7.9" fill="#d9d9d9"/>
<rect x="181.79" y="188.9" width="3.72" height="7.9" fill="#d9d9d9"/>
<rect x="186.12" y="188.9" width="3.72" height="7.9" fill="#d9d9d9"/>
<rect x="190.45" y="188.9" width="3.72" height="7.9" fill="#d9d9d9"/>
<rect x="194.79" y="188.9" width="3.72" height="7.9" fill="#d9d9d9"/>
<rect x="199.12" y="188.9" width="3.72" height="7.9" fill="#d9d9d9"/>
<rect x="203.45" y="188.9" width="3.72" height="7.9" fill="#d9d9d9"/>
<rect x="207.78" y="188.9" width="3.72" height="7.9" fill="#d9d9d9"/>
<rect x="212.11" y="188.9" width="3.72" height="7.9" fill="#d9d9d9"/>
<rect x="216.44" y="188.9" width="3.72" height="7.9" fill="#d9d9d9"/>
<rect x="220.77" y="188.9" width="3.72" height="7.9" fill="#d9d9d9"/>
<rect x="225.1" y="188.9" width="3.72" height="7.9" fill="#d9d9d9"/>
<rect x="229.43" y="188.9" width="3.72" height="7.9" fill="#d9d9d9"/>
<rect x="233.76" y="188.9" width="3.72" height="7.9" fill="#d9d9d9"/>
<rect x="238.1" y="188.9" width="3.72" height="7.9" fill="#d9d9d9"/>
<rect x="242.43" y="188.9" width="3.72" height="7.9" fill="#d9d9d9"/>
<rect x="246.76" y="188.9" width="3.72" height="7.9" fill="#d9d9d9"/>
<rect x="251.09" y="188.9" width="3.72" height="7.9" fill="#d9d9d9"/>
<rect x="255.42" y="188.9" width="3.72" height="7.9" fill="#d9d9d9"/>
<rect x="259.75" y="188.9" width="3.72" height="7.9" fill="#d9d9d9"/>
<rect x="264.08" y="188.9" width="3.72" height="7.9" fill="#d9d9d9"/>
<rect x="268.41" y="188.9" width="3.72" height="7.9" fill="#d9d9d9"/>
<rect x="272.74" y="188.9" width="3.72" height="7.9" fill="#d9d9d9"/>
<rect x="277.07" y="188.9" width="3.72" height="7.9" fill="#d9d9d9"/>
<rect x="281.41" y="188.9" width="3.72" height="7.9" fill="#d9d9d9"/>
<rect x="285.74" y="188.9" width="3.72" height="7.9" fill="#d9d9d9"/>
<rect x="290.07" y="188.9" width="3.72" height="7.9" fill="#d9d9d9"/>
<rect x="294.4" y="188.9" width="3.72" height="7.9" fill="#d9d9d9"/>
<rect x="298.73" y="188.9" width="3.72" height="7.9" fill="#d9d9d9"/>
<rect x="303.06" y="188.9" width="3.72" height="7.9" fill="#d9d9d9"/>
<rect x="307.39" y="188.9" width="3.72" height="7.9" fill="#d9d9d9"/>
<rect x="311.72" y="188.9" width="3.72" height="7.9" fill="#d9d9d9"/>
<rect x="316.05" y="188.9" width="3.72" height="7.9" fill="#d9d9d9"/>
<rect x="320.38" y="188.9" width="3.72" height="7.9" fill="#d9d9d9"/>
<rect x="324.72" y="188.9" width="3.72" height="7.9" fill="#d9d9d9"/>
<rect x="329.05" y="188.9" width="3.72" height="7.9" fill="#d9d9d9"/>
<rect x="333.38" y="188.9" width="3.72" height="7.9" fill="#d9d9d9"/>
<rect x="337.71" y="188.9" width="3.72" height="7.9" fill="#d9d9d9"/>
<rect x="342.04" y="188.9" width="3.72" height="7.9" fill="#d9d9d9"/>
<rect x="346.37" y="188.9" width="3.72" height="7.9" fill="#d9d9d9"/>
<rect x="350.7" y="188.9" width="3.72" height="7.9" fill="#d9d9d9"/>
<rect x="355.03" y="188.9" width="3.72" height="7.9" fill="#d9d9d9"/>
<rect x="359.36" y="188.9" width="3.72" height="7.9" fill="#d9d9d9"/>
<rect x="363.69" y="188.9" width="3.72" height="7.9" fill="#d9d9d9"/>
<rect x="368.03" y="188.9" width="3.72" height="7.9" fill="#d9d9d9"/>
<rect x="372.36" y="188.9" width="3.72" height="7.9" fill="#d9d9d9"/>
<rect x="376.69" y="188.9" width="3.72" height="7.9" fill="#d9d9d9"/>
<rect x="381.02" y="188.9" width="3.72" height="7.9" fill="#d9d9d9"/>
<rect x="385.35" y="188.9" width="3.72" height="7.9" fill="#d9d9d9"/>
<rect x="389.68" y="188.9" width="3.72" height="7.9" fill="#d9d9d9"/>
<rect x="394.01" y="188.9" width="3.72" height="7.9" fill="#d9d9d9"/>
<rect x="398.34" y="188.9" width="3.72" height="7.9" fill="#d9d9d9"/>
<rect x="402.67" y="188.9" width="3.72" height="7.9" fill="#d9d9d9"/>
<rect x="407" y="188.9" width="3.72" height="7.9" fill="#d9d9d9"/>
<rect x="411.34" y="188.9" width="3.72" height="7.9" fill="#d9d9d9"/>
<rect x="415.67" y="188.9" width="3.72" height="7.9" fill="#62a83d"/>
<rect x="420" y="188.9" width="3.72" height="7.9" fill="#d9d9d9"/>
<rect x="424.33" y="188.9" width="3.72" height="7.9" fill="#d9d9d9"/>
<rect x="428.66" y="188.9" width="3.72" height="7.9" fill="#d9d9d9"/>
<rect x="432.99" y="188.9" width="3.72" height="7.9" fill="#d9d9d9"/>
<rect x="437.32" y="188.9" width="3.72" height="7.9" fill="#d9d9d9"/>
<rect x="441.65" y="188.9" width="3.72" height="7.9" fill="#d9d9d9"/>
<rect x="43.2" y="198.15" width="3.72" height="7.9" fill="#d9d9d9"/>
<rect x="47.53" y="198.15" width="3.72" height="7.9" fill="#d9d9d9"/>
<rect x="51.86" y="198.15" width="3.72" height="7.9" fill="#d9d9d9"/>
<rect x="56.19" y="198.15" width="3.72" height="7.9" fill="#d9d9d9"/>
<rect x="60.52" y="198.15" width="3.72" height="7.9" fill="#d9d9d9"/>
<rect x="64.86" y="198.15" width="3.72" height="7.9" fill="#d9d9d9"/>
<rect x="69.19" y="198.15" width="3.72" height="7.9" fill="#d9d9d9"/>
<rect x="73.52" y="198.15" width="3.72" height="7.9" fill="#d9d9d9"/>
<rect x="77.85" y="198.15" width="3.72" height="7.9" fill="#d9d9d9"/>
<rect x="82.18" y="198.15" width="3.72" height="7.9" fill="#d9d9d9"/>
<rect x="86.51" y="198.15" width="3.72" height="7.9" fill="#d9d9d9"/>
<rect x="90.84" y="198.15" width="3.72" height="7.9" fill="#d9d9d9"/>
<rect x="95.17" y="198.15" width="3.72" height="7.9" fill="#d9d9d9"/>
<rect x="99.5" y="198.15" width="3.72" height="7.9" fill="#d9d9d9"/>
<rect x="103.83" y="198.15" width="3.72" height="7.9" fill="#d9d9d9"/>
<rect x="108.17" y="198.15" width="3.72" height="7.9" fill="#d9d9d9"/>
<rect x="112.5" y="198.15" width="3.72" height="7.9" fill="#d9d9d9"/>
<rect x="116.83" y="198.15" width="3.72" height="7.9" fill="#d9d9d9"/>
<rect x="121.16" y="198.15" width="3.72" height="7.9" fill="#d9d9d9"/>
<rect x="125.49" y="198.15" width="3.72" height="7.9" fill="#d9d9d9"/>
<rect x="129.82" y="198.15" width="3.72" height="7.9" fill="#d9d9d9"/>
<rect x="134.15" y="198.15" width="3.72" height="7.9" fill="#d9d9d9"/>
<rect x="138.48" y="198.15" width="3.72" height="7.9" fill="#d9d9d9"/>
<rect x="142.81" y="198.15" width="3.72" height="7.9" fill="#d9d9d9"/>
<rect x="147.14" y="198.15" width="3.72" height="7.9" fill="#d9d9d9"/>
<rect x="151.48" y="198.15" width="3.72" height="7.9" fill="#d9d9d9"/>
<rect x="155.81" y="198.15" width="3.72" height="7.9" fill="#d9d9d9"/>
<rect x="160.14" y="198.15" width="3.72" height="7.9" fill="#d9d9d9"/>
<rect x="164.47" y="198.15" width="3.72" height="7.9" fill="#d9d9d9"/>
<rect x="168.8" y="198.15" width="3.72" height="7.9" fill="#d9d9d9"/>
<rect x="173.13" y="198.15" width="3.72" height="7.9" fill="#d9d9d9"/>
<rect x="177.46" y="198.15" width="3.72" height="7.9" fill="#ec9a1e"/>
<rect x="181.79" y="198.15" width="3.72" height="7.9" fill="#d9d9d9"/>
<rect x="186.12" y="198.15" width="3.72" height="7.9" fill="#d9d9d9"/>
<rect x="190.45" y="198.15" width="3.72" height="7.9" fill="#d9d9d9"/>
<rect x="194.79" y="198.15" width="3.72" height="7.9" fill="#d9d9d9"/>
<rect x="199.12" y="198.15" width="3.72" height="7.9" fill="#d9d9d9"/>
<rect x="203.45" y="198.15" width="3.72" height="7.9" fill="#d9d9d9"/>
<rect x="207.78" y="198.15" width="3.72" height="7.9" fill="#d9d9d9"/>
<rect x="212.11" y="198.15" width="3.72" height="7.9" fill="#d9d9d9"/>
<rect x="216.44" y="198.15" width="3.72" height="7.9" fill="#d9d9d9"/>
<rect x="220.77" y="198.15" width="3.72" height="7.9" fill="#d9d9d9"/>
<rect x="225.1" y="198.15" width="3.72" height="7.9" fill="#d9d9d9"/>
<rect x="229.43" y="198.15" width="3.72" height="7.9" fill="#d9d9d9"/>
<rect x="233.76" y="198.15" width="3.72" height="7.9" fill="#d9d9d9"/>
<rect x="238.1" y="198.15" width="3.72" height="7.9" fill="#d9d9d9"/>
<rect x="242.43" y="198.15" width="3.72" height="7.9" fill="#d9d9d9"/>
<rect x="246.76" y="198.15" width="3.72" height="7.9" fill="#d9d9d9"/>
<rect x="251.09" y="198.15" width="3.72" height="7.9" fill="#d9d9d9"/>
<rect x="255.42" y="198.15" width="3.72" height="7.9" fill="#d9d9d9"/>
<rect x="259.75" y="198.15" width="3.72" height="7.9" fill="#d9d9d9"/>
<rect x="264.08" y="198.15" width="3.72" height="7.9" fill="#d9d9d9"/>
<rect x="268.41" y="198.15" width="3.72" height="7.9" fill="#d9d9d9"/>
<rect x="272.74" y="198.15" width="3.72" height="7.9" fill="#d9d9d9"/>
<rect x="277.07" y="198.15" width="3.72" height="7.9" fill="#d9d9d9"/>
<rect x="281.41" y="198.15" width="3.72" height="7.9" fill="#d9d9d9"/>
<rect x="285.74" y="198.15" width="3.72" height="7.9" fill="#d9d9d9"/>
<rect x="290.07" y="198.15" width="3.72" height="7.9" fill="#d9d9d9"/>
<rect x="294.4" y="198.15" width="3.72" height="7.9" fill="#d9d9d9"/>
<rect x="298.73" y="198.15" width="3.72" height="7.9" fill="#d9d9d9"/>
<rect x="303.06" y="198.15" width="3.72" height="7.9" fill="#d9d9d9"/>
<rect x="307.39" y="198.15" width="3.72" height="7.9" fill="#d9d9d9"/>
<rect x="311.72" y="198.15" width="3.72" height="7.9" fill="#d9d9d9"/>
<rect x="316.05" y="198.15" width="3.72" height="7.9" fill="#d9d9d9"/>
<rect x="320.38" y="198.15" width="3.72" height="7.9" fill="#d9d9d9"/>
<rect x="324.72" y="198.15" width="3.72" height="7.9" fill="#d9d9d9"/>
<rect x="329.05" y="198.15" width="3.72" height="7.9" fill="#d9d9d9"/>
<rect x="333.38" y="198.15" width="3.72" height="7.9" fill="#d9d9d9"/>
<rect x="337.71" y="198.15" width="3.72" height="7.9" fill="#d9d9d9"/>
<rect x="342.04" y="198.15" width="3.72" height="7.9" fill="#d9d9d9"/>
<rect x="346.37" y="198.15" width="3.72" height="7.9" fill="#d9d9d9"/>
<rect x="350.7" y="198.15" width="3.72" height="7.9" fill="#d9d9d9"/>
<rect x="355.03" y="198.15" width="3.72" height="7.9" fill="#d9d9d9"/>
<rect x="359.36" y="198.15" width="3.72" height="7.9" fill="#d9d9d9"/>
<rect x="363.69" y="198.15" width="3.72" height="7.9" fill="#d9d9d9"/>
<rect x="368.03" y="198.15" width="3.72" height="7.9" fill="#d9d9d9"/>
<rect x="372.36" y="198.15" width="3.72" height="7.9" fill="#d9d9d9"/>
<rect x="376.69" y="198.15" width="3.72" height="7.9" fill="#b3651e"/>
<rect x="381.02" y="198.15" width="3.72" height="7.9" fill="#d9d9d9"/>
<rect x="385.35" y="198.15" width="3.72" height="7.9" fill="#d9d9d9"/>
<rect x="389.68" y="198.15" width="3.72" height="7.9" fill="#d9d9d9"/>
<rect x="394.01" y="198.15" width="3.72" height="7.9" fill="#d9d9d9"/>
<rect x="398.34" y="198.15" width="3.72" height="7.9" fill="#d9d9d9"/>
<rect x="402.67" y="198.15" width="3.72" height="7.9" fill="#d9d9d9"/>
<rect x="407" y="198.15" width="3.72" height="7.9" fill="#d9d9d9"/>
<rect x="411.34" y="198.15" width="3.72" height="7.9" fill="#d9d9d9"/>
<rect x="415.67" y="198.15" width="3.72" height="7.9" fill="#d9d9d9"/>
<rect x="420" y="198.15" width="3.72" height="7.9" fill="#d9d9d9"/>
<rect x="424.33" y="198.15" width="3.72" height="7.9" fill="#d9d9d9"/>
<rect x="428.66" y="198.15" width="3.72" height="7.9" fill="#d9d9d9"/>
<rect x="432.99" y="198.15" width="3.72" height="7.9" fill="#d9d9d9"/>
<rect x="437.32" y="198.15" width="3.72" height="7.9" fill="#d9d9d9"/>
<rect x="441.65" y="198.15" width="3.72" height="7.9" fill="#d9d9d9"/>
<rect x="43.2" y="207.4" width="3.72" height="7.9" fill="#d9d9d9"/>
<rect x="47.53" y="207.4" width="3.72" height="7.9" fill="#d9d9d9"/>
<rect x="51.86" y="207.4" width="3.72" height="7.9" fill="#d9d9d9"/>
<rect x="56.19" y="207.4" width="3.72" height="7.9" fill="#d9d9d9"/>
<rect x="60.52" y="207.4" width="3.72" height="7.9" fill="#d9d9d9"/>
<rect x="64.86" y="207.4" width="3.72" height="7.9" fill="#d9d9d9"/>
<rect x="69.19" y="207.4" width="3.72" height="7.9" fill="#d9d9d9"/>
<rect x="73.52" y="207.4" width="3.72" height="7.9" fill="#d9d9d9"/>
<rect x="77.85" y="207.4" width="3.72" height="7.9" fill="#d9d9d9"/>
<rect x="82.18" y="207.4" width="3.72" height="7.9" fill="#d9d9d9"/>
<rect x="86.51" y="207.4" width="3.72" height="7.9" fill="#d9d9d9"/>
<rect x="90.84" y="207.4" width="3.72" height="7.9" fill="#d9d9d9"/>
<rect x="95.17" y="207.4" width="3.72" height="7.9" fill="#d9d9d9"/>
<rect x="99.5" y="207.4" width="3.72" height="7.9" fill="#d9d9d9"/>
<rect x="103.83" y="207.4" width="3.72" height="7.9" fill="#d9d9d9"/>
<rect x="108.17" y="207.4" width="3.72" height="7.9" fill="#d9d9d9"/>
<rect x="112.5" y="207.4" width="3.72" height="7.9" fill="#d9d9d9"/>
<rect x="116.83" y="207.4" width="3.72" height="7.9" fill="#d9d9d9"/>
<rect x="121.16" y="207.4" width="3.72" height="7.9" fill="#d9d9d9"/>
<rect x="125.49" y="207.4" width="3.72" height="7.9" fill="#d9d9d9"/>
<rect x="129.82" y="207.4" width="3.72" height="7.9" fill="#d9d9d9"/>
<rect x="134.15" y="207.4" width="3.72" height="7.9" fill="#d9d9d9"/>
<rect x="138.48" y="207.4" width="3.72" height="7.9" fill="#d9d9d9"/>
<rect x="142.81" y="207.4" width="3.72" height="7.9" fill="#d9d9d9"/>
<rect x="147.14" y="207.4" width="3.72" height="7.9" fill="#d9d9d9"/>
<rect x="151.48" y="207.4" width="3.72" height="7.9" fill="#d9d9d9"/>
<rect x="155.81" y="207.4" width="3.72" height="7.9" fill="#d9d9d9"/>
<rect x="160.14" y="207.4" width="3.72" height="7.9" fill="#d9d9d9"/>
<rect x="164.47" y="207.4" width="3.72" height="7.9" fill="#d9d9d9"/>
<rect x="168.8" y="207.4" width="3.72" height="7.9" fill="#d9d9d9"/>
<rect x="173.13" y="207.4" width="3.72" height="7.9" fill="#d9d9d9"/>
<rect x="177.46" y="207.4" width="3.72" height="7.9" fill="#d9d9d9"/>
<rect x="181.79" y="207.4" width="3.72" height="7.9" fill="#d9d9d9"/>
<rect x="186.12" y="207.4" width="3.72" height="7.9" fill="#1f3f7a"/>
<rect x="190.45" y="207.4" width="3.72" height="7.9" fill="#d9d9d9"/>
<rect x="194.79" y="207.4" width="3.72" height="7.9" fill="#d9d9d9"/>
<rect x="199.12" y="207.4" width="3.72" height="7.9" fill="#d9d9d9"/>
<rect x="203.45" y="207.4" width="3.72" height="7.9" fill="#d9d9d9"/>
<rect x="207.78" y="207.4" width="3.72" height="7.9" fill="#d9d9d9"/>
<rect x="212.11" y="207.4" width="3.72" height="7.9" fill="#d9d9d9"/>
<rect x="216.44" y="207.4" width="3.72" height="7.9" fill="#d9d9d9"/>
<rect x="220.77" y="207.4" width="3.72" height="7.9" fill="#d9d9d9"/>
<rect x="225.1" y="207.4" width="3.72" height="7.9" fill="#d9d9d9"/>
<rect x="229.43" y="207.4" width="3.72" height="7.9" fill="#d9d9d9"/>
<rect x="233.76" y="207.4" width="3.72" height="7.9" fill="#d9d9d9"/>
<rect x="238.1" y="207.4" width="3.72" height="7.9" fill="#d9d9d9"/>
<rect x="242.43" y="207.4" width="3.72" height="7.9" fill="#d9d9d9"/>
<rect x="246.76" y="207.4" width="3.72" height="7.9" fill="#d9d9d9"/>
<rect x="251.09" y="207.4" width="3.72" height="7.9" fill="#d9d9d9"/>
<rect x="255.42" y="207.4" width="3.72" height="7.9" fill="#d9d9d9"/>
<rect x="259.75" y="207.4" width="3.72" height="7.9" fill="#d9d9d9"/>
<rect x="264.08" y="207.4" width="3.72" height="7.9" fill="#d9d9d9"/>
<rect x="268.41" y="207.4" width="3.72" height="7.9" fill="#d9d9d9"/>
<rect x="272.74" y="207.4" width="3.72" height="7.9" fill="#d9d9d9"/>
<rect x="277.07" y="207.4" width="3.72" height="7.9" fill="#d9d9d9"/>
<rect x="281.41" y="207.4" width="3.72" height="7.9" fill="#d9d9d9"/>
<rect x="285.74" y="207.4" width="3.72" height="7.9" fill="#d9d9d9"/>
<rect x="290.07" y="207.4" width="3.72" height="7.9" fill="#d9d9d9"/>
<rect x="294.4" y="207.4" width="3.72" height="7.9" fill="#d9d9d9"/>
<rect x="298.73" y="207.4" width="3.72" height="7.9" fill="#d9d9d9"/>
<rect x="303.06" y="207.4" width="3.72" height="7.9" fill="#d9d9d9"/>
<rect x="307.39" y="207.4" width="3.72" height="7.9" fill="#d9d9d9"/>
<rect x="311.72" y="207.4" width="3.72" height="7.9" fill="#d9d9d9"/>
<rect x="316.05" y="207.4" width="3.72" height="7.9" fill="#d9d9d9"/>
<rect x="320.38" y="207.4" width="3.72" height="7.9" fill="#d9d9d9"/>
<rect x="324.72" y="207.4" width="3.72" height="7.9" fill="#d9d9d9"/>
<rect x="329.05" y="207.4" width="3.72" height="7.9" fill="#d9d9d9"/>
<rect x="333.38" y="207.4" width="3.72" height="7.9" fill="#d9d9d9"/>
<rect x="337.71" y="207.4" width="3.72" height="7.9" fill="#d9d9d9"/>
<rect x="342.04" y="207.4" width="3.72" height="7.9" fill="#d9d9d9"/>
<rect x="346.37" y="207.4" width="3.72" height="7.9" fill="#d9d9d9"/>
<rect x="350.7" y="207.4" width="3.72" height="7.9" fill="#d9d9d9"/>
<rect x="355.03" y="207.4" width="3.72" height="7.9" fill="#d9d9d9"/>
<rect x="359.36" y="207.4" width="3.72" height="7.9" fill="#d9d9d9"/>
<rect x="363.69" y="207.4" width="3.72" height="7.9" fill="#d9d9d9"/>
<rect x="368.03" y="207.4" width="3.72" height="7.9" fill="#d9d9d9"/>
<rect x="372.36" y="207.4" width="3.72" height="7.9" fill="#d9d9d9"/>
<rect x="376.69" y="207.4" width="3.72" height="7.9" fill="#d9d9d9"/>
<rect x="381.02" y="207.4" width="3.72" height="7.9" fill="#d9d9d9"/>
<rect x="385.35" y="207.4" width="3.72" height="7.9" fill="#d9d9d9"/>
<rect x="389.68" y="207.4" width="3.72" height="7.9" fill="#d9d9d9"/>
<rect x="394.01" y="207.4" width="3.72" height="7.9" fill="#a8002c"/>
<rect x="398.34" y="207.4" width="3.72" height="7.9" fill="#d9d9d9"/>
<rect x="402.67" y="207.4" width="3.72" height="7.9" fill="#d9d9d9"/>
<rect x="407" y="207.4" width="3.72" height="7.9" fill="#d9d9d9"/>
<rect x="411.34" y="207.4" width="3.72" height="7.9" fill="#d9d9d9"/>
<rect x="415.67" y="207.4" width="3.72" height="7.9" fill="#d9d9d9"/>
<rect x="420" y="207.4" width="3.72" height="7.9" fill="#d9d9d9"/>
<rect x="424.33" y="207.4" width="3.72" height="7.9" fill="#d9d9d9"/>
<rect x="428.66" y="207.4" width="3.72" height="7.9" fill="#d9d9d9"/>
<rect x="432.99" y="207.4" width="3.72" height="7.9" fill="#d9d9d9"/>
<rect x="437.32" y="207.4" width="3.72" height="7.9" fill="#d9d9d9"/>
<rect x="441.65" y="207.4" width="3.72" height="7.9" fill="#d9d9d9"/>
<rect x="43.2" y="216.65" width="3.72" height="7.9" fill="#d9d9d9"/>
<rect x="47.53" y="216.65" width="3.72" height="7.9" fill="#d9d9d9"/>
<rect x="51.86" y="216.65" width="3.72" height="7.9" fill="#d9d9d9"/>
<rect x="56.19" y="216.65" width="3.72" height="7.9" fill="#d9d9d9"/>
<rect x="60.52" y="216.65" width="3.72" height="7.9" fill="#d9d9d9"/>
<rect x="64.86" y="216.65" width="3.72" height="7.9" fill="#d9d9d9"/>
<rect x="69.19" y="216.65" width="3.72" height="7.9" fill="#d9d9d9"/>
<rect x="73.52" y="216.65" width="3.72" height="7.9" fill="#d9d9d9"/>
<rect x="77.85" y="216.65" width="3.72" height="7.9" fill="#d9d9d9"/>
<rect x="82.18" y="216.65" width="3.72" height="7.9" fill="#d9d9d9"/>
<rect x="86.51" y="216.65" width="3.72" height="7.9" fill="#d9d9d9"/>
<rect x="90.84" y="216.65" width="3.72" height="7.9" fill="#d9d9d9"/>
<rect x="95.17" y="216.65" width="3.72" height="7.9" fill="#d9d9d9"/>
<rect x="99.5" y="216.65" width="3.72" height="7.9" fill="#d9d9d9"/>
<rect x="103.83" y="216.65" width="3.72" height="7.9" fill="#d9d9d9"/>
<rect x="108.17" y="216.65" width="3.72" height="7.9" fill="#62a83d"/>
<rect x="112.5" y="216.65" width="3.72" height="7.9" fill="#d9d9d9"/>
<rect x="116.83" y="216.65" width="3.72" height="7.9" fill="#d9d9d9"/>
<rect x="121.16" y="216.65" width="3.72" height="7.9" fill="#d9d9d9"/>
<rect x="125.49" y="216.65" width="3.72" height="7.9" fill="#d9d9d9"/>
<rect x="129.82" y="216.65" width="3.72" height="7.9" fill="#d9d9d9"/>
<rect x="134.15" y="216.65" width="3.72" height="7.9" fill="#d9d9d9"/>
<rect x="138.48" y="216.65" width="3.72" height="7.9" fill="#d9d9d9"/>
<rect x="142.81" y="216.65" width="3.72" height="7.9" fill="#d9d9d9"/>
<rect x="147.14" y="216.65" width="3.72" height="7.9" fill="#d9d9d9"/>
<rect x="151.48" y="216.65" width="3.72" height="7.9" fill="#d9d9d9"/>
<rect x="155.81" y="216.65" width="3.72" height="7.9" fill="#d9d9d9"/>
<rect x="160.14" y="216.65" width="3.72" height="7.9" fill="#d9d9d9"/>
<rect x="164.47" y="216.65" width="3.72" height="7.9" fill="#d9d9d9"/>
<rect x="168.8" y="216.65" width="3.72" height="7.9" fill="#d9d9d9"/>
<rect x="173.13" y="216.65" width="3.72" height="7.9" fill="#d9d9d9"/>
<rect x="177.46" y="216.65" width="3.72" height="7.9" fill="#d9d9d9"/>
<rect x="181.79" y="216.65" width="3.72" height="7.9" fill="#d9d9d9"/>
<rect x="186.12" y="216.65" width="3.72" height="7.9" fill="#d9d9d9"/>
<rect x="190.45" y="216.65" width="3.72" height="7.9" fill="#d9d9d9"/>
<rect x="194.79" y="216.65" width="3.72" height="7.9" fill="#d9d9d9"/>
<rect x="199.12" y="216.65" width="3.72" height="7.9" fill="#d9d9d9"/>
<rect x="203.45" y="216.65" width="3.72" height="7.9" fill="#d9d9d9"/>
<rect x="207.78" y="216.65" width="3.72" height="7.9" fill="#d9d9d9"/>
<rect x="212.11" y="216.65" width="3.72" height="7.9" fill="#d9d9d9"/>
<rect x="216.44" y="216.65" width="3.72" height="7.9" fill="#d9d9d9"/>
<rect x="220.77" y="216.65" width="3.72" height="7.9" fill="#d9d9d9"/>
<rect x="225.1" y="216.65" width="3.72" height="7.9" fill="#d9d9d9"/>
<rect x="229.43" y="216.65" width="3.72" height="7.9" fill="#d9d9d9"/>
<rect x="233.76" y="216.65" width="3.72" height="7.9" fill="#d9d9d9"/>
<rect x="238.1" y="216.65" width="3.72" height="7.9" fill="#d9d9d9"/>
<rect x="242.43" y="216.65" width="3.72" height="7.9" fill="#d9d9d9"/>
<rect x="246.76" y="216.65" width="3.72" height="7.9" fill="#d9d9d9"/>
<rect x="251.09" y="216.65" width="3.72" height="7.9" fill="#d9d9d9"/>
<rect x="255.42" y="216.65" width="3.72" height="7.9" fill="#d9d9d9"/>
<rect x="259.75" y="216.65" width="3.72" height="7.9" fill="#d9d9d9"/>
<rect x="264.08" y="216.65" width="3.72" height="7.9" fill="#d9d9d9"/>
<rect x="268.41" y="216.65" width="3.72" height="7.9" fill="#d9d9d9"/>
<rect x="272.74" y="216.65" width="3.72" height="7.9" fill="#d9d9d9"/>
<rect x="277.07" y="216.65" width="3.72" height="7.9" fill="#d9d9d9"/>
<rect x="281.41" y="216.65" width="3.72" height="7.9" fill="#d9d9d9"/>
<rect x="285.74" y="216.65" width="3.72" height="7.9" fill="#d9d9d9"/>
<rect x="290.07" y="216.65" width="3.72" height="7.9" fill="#d9d9d9"/>
<rect x="294.4" y="216.65" width="3.72" height="7.9" fill="#d9d9d9"/>
<rect x="298.73" y="216.65" width="3.72" height="7.9" fill="#d9d9d9"/>
<rect x="303.06" y="216.65" width="3.72" height="7.9" fill="#d9d9d9"/>
<rect x="307.39" y="216.65" width="3.72" height="7.9" fill="#d9d9d9"/>
<rect x="311.72" y="216.65" width="3.72" height="7.9" fill="#d9d9d9"/>
<rect x="316.05" y="216.65" width="3.72" height="7.9" fill="#d9d9d9"/>
<rect x="320.38" y="216.65" width="3.72" height="7.9" fill="#d9d9d9"/>
<rect x="324.72" y="216.65" width="3.72" height="7.9" fill="#d9d9d9"/>
<rect x="329.05" y="216.65" width="3.72" height="7.9" fill="#d9d9d9"/>
<rect x="333.38" y="216.65" width="3.72" height="7.9" fill="#d9d9d9"/>
<rect x="337.71" y="216.65" width="3.72" height="7.9" fill="#d9d9d9"/>
<rect x="342.04" y="216.65" width="3.72" height="7.9" fill="#d9d9d9"/>
<rect x="346.37" y="216.65" width="3.72" height="7.9" fill="#d9d9d9"/>
<rect x="350.7" y="216.65" width="3.72" height="7.9" fill="#d9d9d9"/>
<rect x="355.03" y="216.65" width="3.72" height="7.9" fill="#d9d9d9"/>
<rect x="359.36" y="216.65" width="3.72" height="7.9" fill="#d9d9d9"/>
<rect x="363.69" y="216.65" width="3.72" height="7.9" fill="#d9d9d9"/>
<rect x="368.03" y="216.65" width="3.72" height="7.9" fill="#d9d9d9"/>
<rect x="372.36" y="216.65" width="3.72" height="7.9" fill="#d9d9d9"/>
<rect x="376.69" y="216.65" width="3.72" height="7.9" fill="#d9d9d9"/>
<rect x="381.02" y="216.65" width="3.72" height="7.9" fill="#d9d9d9"/>
<rect x="385.35" y="216.65" width="3.72" height="7.9" fill="#d9d9d9"/>
<rect x="389.68" y="216.65" width="3.72" height="7.9" fill="#d9d9d9"/>
<rect x="394.01" y="216.65" width="3.72" height="7.9" fill="#d9d9d9"/>
<rect x="398.34" y="216.65" width="3.72" height="7.9" fill="#a8002c"/>
<rect x="402.67" y="216.65" width="3.72" height="7.9" fill="#d9d9d9"/>
<rect x="407" y="216.65" width="3.72" height="7.9" fill="#d9d9d9"/>
<rect x="411.34" y="216.65" width="3.72" height="7.9" fill="#d9d9d9"/>
<rect x="415.67" y="216.65" width="3.72" height="7.9" fill="#d9d9d9"/>
<rect x="420" y="216.65" width="3.72" height="7.9" fill="#d9d9d9"/>
<rect x="424.33" y="216.65" width="3.72" height="7.9" fill="#d9d9d9"/>
<rect x="428.66" y="216.65" width="3.72" height="7.9" fill="#d9d9d9"/>
<rect x="432.99" y="216.65" width="3.72" height="7.9" fill="#d9d9d9"/>
<rect x="437.32" y="216.65" width="3.72" height="7.9" fill="#d9d9d9"/>
<rect x="441.65" y="216.65" width="3.72" height="7.9" fill="#d9d9d9"/>
<rect x="43.2" y="225.9" width="3.72" height="7.9" fill="#d9d9d9"/>
<rect x="47.53" y="225.9" width="3.72" height="7.9" fill="#d9d9d9"/>
<rect x="51.86" y="225.9" width="3.72" height="7.9" fill="#d9d9d9"/>
<rect x="56.19" y="225.9" width="3.72" height="7.9" fill="#d9d9d9"/>
<rect x="60.52" y="225.9" width="3.72" height="7.9" fill="#d9d9d9"/>
<rect x="64.86" y="225.9" width="3.72" height="7.9" fill="#d9d9d9"/>
<rect x="69.19" y="225.9" width="3.72" height="7.9" fill="#d9d9d9"/>
<rect x="73.52" y="225.9" width="3.72" height="7.9" fill="#d9d9d9"/>
<rect x="77.85" y="225.9" width="3.72" height="7.9" fill="#d9d9d9"/>
<rect x="82.18" y="225.9" width="3.72" height="7.9" fill="#d9d9d9"/>
<rect x="86.51" y="225.9" width="3.72" height="7.9" fill="#d9d9d9"/>
<rect x="90.84" y="225.9" width="3.72" height="7.9" fill="#d9d9d9"/>
<rect x="95.17" y="225.9" width="3.72" height="7.9" fill="#d9d9d9"/>
<rect x="99.5" y="225.9" width="3.72" height="7.9" fill="#d9d9d9"/>
<rect x="103.83" y="225.9" width="3.72" height="7.9" fill="#d9d9d9"/>
<rect x="108.17" y="225.9" width="3.72" height="7.9" fill="#d9d9d9"/>
<rect x="112.5" y="225.9" width="3.72" height="7.9" fill="#d9d9d9"/>
<rect x="116.83" y="225.9" width="3.72" height="7.9" fill="#d9d9d9"/>
<rect x="121.16" y="225.9" width="3.72" height="7.9" fill="#d9d9d9"/>
<rect x="125.49" y="225.9" width="3.72" height="7.9" fill="#d9d9d9"/>
<rect x="129.82" y="225.9" width="3.72" height="7.9" fill="#d9d9d9"/>
<rect x="134.15" y="225.9" width="3.72" height="7.9" fill="#d9d9d9"/>
<rect x="138.48" y="225.9" width="3.72" height="7.9" fill="#d9d9d9"/>
<rect x="142.81" y="225.9" width="3.72" height="7.9" fill="#d9d9d9"/>
<rect x="147.14" y="225.9" width="3.72" height="7.9" fill="#d9d9d9"/>
<rect x="151.48" y="225.9" width="3.72" height="7.9" fill="#d9d9d9"/>
<rect x="155.81" y="225.9" width="3.72" height="7.9" fill="#d9d9d9"/>
<rect x="160.14" y="225.9" width="3.72" height="7.9" fill="#d9d9d9"/>
<rect x="164.47" y="225.9" width="3.72" height="7.9" fill="#d9d9d9"/>
<rect x="168.8" y="225.9" width="3.72" height="7.9" fill="#d9d9d9"/>
<rect x="173.13" y="225.9" width="3.72" height="7.9" fill="#d9d9d9"/>
<rect x="177.46" y="225.9" width="3.72" height="7.9" fill="#d9d9d9"/>
<rect x="181.79" y="225.9" width="3.72" height="7.9" fill="#d9d9d9"/>
<rect x="186.12" y="225.9" width="3.72" height="7.9" fill="#d9d9d9"/>
<rect x="190.45" y="225.9" width="3.72" height="7.9" fill="#d9d9d9"/>
<rect x="194.79" y="225.9" width="3.72" height="7.9" fill="#d9d9d9"/>
<rect x="199.12" y="225.9" width="3.72" height="7.9" fill="#d9d9d9"/>
<rect x="203.45" y="225.9" width="3.72" height="7.9" fill="#d9d9d9"/>
<rect x="207.78" y="225.9" width="3.72" height="7.9" fill="#d9d9d9"/>
<rect x="212.11" y="225.9" width="3.72" height="7.9" fill="#d9d9d9"/>
<rect x="216.44" y="225.9" width="3.72" height="7.9" fill="#d9d9d9"/>
<rect x="220.77" y="225.9" width="3.72" height="7.9" fill="#d9d9d9"/>
<rect x="225.1" y="225.9" width="3.72" height="7.9" fill="#d9d9d9"/>
<rect x="229.43" y="225.9" width="3.72" height="7.9" fill="#d9d9d9"/>
<rect x="233.76" y="225.9" width="3.72" height="7.9" fill="#d9d9d9"/>
<rect x="238.1" y="225.9" width="3.72" height="7.9" fill="#d9d9d9"/>
<rect x="242.43" y="225.9" width="3.72" height="7.9" fill="#d9d9d9"/>
<rect x="246.76" y="225.9" width="3.72" height="7.9" fill="#d9d9d9"/>
<rect x="251.09" y="225.9" width="3.72" height="7.9" fill="#d9d9d9"/>
<rect x="255.42" y="225.9" width="3.72" height="7.9" fill="#d9d9d9"/>
<rect x="259.75" y="225.9" width="3.72" height="7.9" fill="#d9d9d9"/>
<rect x="264.08" y="225.9" width="3.72" height="7.9" fill="#d9d9d9"/>
<rect x="268.41" y="225.9" width="3.72" height="7.9" fill="#d9d9d9"/>
<rect x="272.74" y="225.9" width="3.72" height="7.9" fill="#d9d9d9"/>
<rect x="277.07" y="225.9" width="3.72" height="7.9" fill="#d9d9d9"/>
<rect x="281.41" y="225.9" width="3.72" height="7.9" fill="#d9d9d9"/>
<rect x="285.74" y="225.9" width="3.72" height="7.9" fill="#d9d9d9"/>
<rect x="290.07" y="225.9" width="3.72" height="7.9" fill="#d9d9d9"/>
<rect x="294.4" y="225.9" width="3.72" height="7.9" fill="#d9d9d9"/>
<rect x="298.73" y="225.9" width="3.72" height="7.9" fill="#d9d9d9"/>
<rect x="303.06" y="225.9" width="3.72" height="7.9" fill="#d9d9d9"/>
<rect x="307.39" y="225.9" width="3.72" height="7.9" fill="#d9d9d9"/>
<rect x="311.72" y="225.9" width="3.72" height="7.9" fill="#d9d9d9"/>
<rect x="316.05" y="225.9" width="3.72" height="7.9" fill="#d9d9d9"/>
<rect x="320.38" y="225.9" width="3.72" height="7.9" fill="#d9d9d9"/>
<rect x="324.72" y="225.9" width="3.72" height="7.9" fill="#d9d9d9"/>
<rect x="329.05" y="225.9" width="3.72" height="7.9" fill="#d9d9d9"/>
<rect x="333.38" y="225.9" width="3.72" height="7.9" fill="#d9d9d9"/>
<rect x="337.71" y="225.9" width="3.72" height="7.9" fill="#d9d9d9"/>
<rect x="342.04" y="225.9" width="3.72" height="7.9" fill="#d9d9d9"/>
<rect x="346.37" y="225.9" width="3.72" height="7.9" fill="#62a83d"/>
<rect x="350.7" y="225.9" width="3.72" height="7.9" fill="#d9d9d9"/>
<rect x="355.03" y="225.9" width="3.72" height="7.9" fill="#62a83d"/>
<rect x="359.36" y="225.9" width="3.72" height="7.9" fill="#d9d9d9"/>
<rect x="363.69" y="225.9" width="3.72" height="7.9" fill="#d9d9d9"/>
<rect x="368.03" y="225.9" width="3.72" height="7.9" fill="#d9d9d9"/>
<rect x="372.36" y="225.9" width="3.72" height="7.9" fill="#d9d9d9"/>
<rect x="376.69" y="225.9" width="3.72" height="7.9" fill="#d9d9d9"/>
<rect x="381.02" y="225.9" width="3.72" height="7.9" fill="#d9d9d9"/>
<rect x="385.35" y="225.9" width="3.72" height="7.9" fill="#d9d9d9"/>
<rect x="389.68" y="225.9" width="3.72" height="7.9" fill="#d9d9d9"/>
<rect x="394.01" y="225.9" width="3.72" height="7.9" fill="#d9d9d9"/>
<rect x="398.34" y="225.9" width="3.72" height="7.9" fill="#d9d9d9"/>
<rect x="402.67" y="225.9" width="3.72" height="7.9" fill="#d9d9d9"/>
<rect x="407" y="225.9" width="3.72" height="7.9" fill="#d9d9d9"/>
<rect x="411.34" y="225.9" width="3.72" height="7.9" fill="#d9d9d9"/>
<rect x="415.67" y="225.9" width="3.72" height="7.9" fill="#d9d9d9"/>
<rect x="420" y="225.9" width="3.72" height="7.9" fill="#d9d9d9"/>
<rect x="424.33" y="225.9" width="3.72" height="7.9" fill="#d9d9d9"/>
<rect x="428.66" y="225.9" width="3.72" height="7.9" fill="#d9d9d9"/>
<rect x="432.99" y="225.9" width="3.72" height="7.9" fill="#d9d9d9"/>
<rect x="437.32" y="225.9" width="3.72" height="7.9" fill="#d9d9d9"/>
<rect x="441.65" y="225.9" width="3.72" height="7.9" fill="#d9d9d9"/>
<rect x="43.2" y="235.15" width="3.72" height="7.9" fill="#d9d9d9"/>
<rect x="47.53" y="235.15" width="3.72" height="7.9" fill="#d9d9d9"/>
<rect x="51.86" y="235.15" width="3.72" height="7.9" fill="#d9d9d9"/>
<rect x="56.19" y="235.15" width="3.72" height="7.9" fill="#d9d9d9"/>
<rect x="60.52" y="235.15" width="3.72" height="7.9" fill="#d9d9d9"/>
<rect x="64.86" y="235.15" width="3.72" height="7.9" fill="#d9d9d9"/>
<rect x="69.19" y="235.15" width="3.72" height="7.9" fill="#d9d9d9"/>
<rect x="73.52" y="235.15" width="3.72" height="7.9" fill="#d9d9d9"/>
<rect x="77.85" y="235.15" width="3.72" height="7.9" fill="#d9d9d9"/>
<rect x="82.18" y="235.15" width="3.72" height="7.9" fill="#d9d9d9"/>
<rect x="86.51" y="235.15" width="3.72" height="7.9" fill="#d9d9d9"/>
<rect x="90.84" y="235.15" width="3.72" height="7.9" fill="#d9d9d9"/>
<rect x="95.17" y="235.15" width="3.72" height="7.9" fill="#d9d9d9"/>
<rect x="99.5" y="235.15" width="3.72" height="7.9" fill="#d9d9d9"/>
<rect x="103.83" y="235.15" width="3.72" height="7.9" fill="#d9d9d9"/>
<rect x="108.17" y="235.15" width="3.72" height="7.9" fill="#d9d9d9"/>
<rect x="112.5" y="235.15" width="3.72" height="7.9" fill="#d9d9d9"/>
<rect x="116.83" y="235.15" width="3.72" height="7.9" fill="#d9d9d9"/>
<rect x="121.16" y="235.15" width="3.72" height="7.9" fill="#d9d9d9"/>
<rect x="125.49" y="235.15" width="3.72" height="7.9" fill="#d9d9d9"/>
<rect x="129.82" y="235.15" width="3.72" height="7.9" fill="#d9d9d9"/>
<rect x="134.15" y="235.15" width="3.72" height="7.9" fill="#d9d9d9"/>
<rect x="138.48" y="235.15" width="3.72" height="7.9" fill="#d9d9d9"/>
<rect x="142.81" y="235.15" width="3.72" height="7.9" fill="#d9d9d9"/>
<rect x="147.14" y="235.15" width="3.72" height="7.9" fill="#d9d9d9"/>
<rect x="151.48" y="235.15" width="3.72" height="7.9" fill="#d9d9d9"/>
<rect x="155.81" y="235.15" width="3.72" height="7.9" fill="#d9d9d9"/>
<rect x="160.14" y="235.15" width="3.72" height="7.9" fill="#d9d9d9"/>
<rect x="164.47" y="235.15" width="3.72" height="7.9" fill="#d9d9d9"/>
<rect x="168.8" y="235.15" width="3.72" height="7.9" fill="#d9d9d9"/>
<rect x="173.13" y="235.15" width="3.72" height="7.9" fill="#d9d9d9"/>
<rect x="177.46" y="235.15" width="3.72" height="7.9" fill="#d9d9d9"/>
<rect x="181.79" y="235.15" width="3.72" height="7.9" fill="#d9d9d9"/>
<rect x="186.12" y="235.15" width="3.72" height="7.9" fill="#d9d9d9"/>
<rect x="190.45" y="235.15" width="3.72" height="7.9" fill="#d9d9d9"/>
<rect x="194.79" y="235.15" width="3.72" height="7.9" fill="#d9d9d9"/>
<rect x="199.12" y="235.15" width="3.72" height="7.9" fill="#d9d9d9"/>
<rect x="203.45" y="235.15" width="3.72" height="7.9" fill="#d9d9d9"/>
<rect x="207.78" y="235.15" width="3.72" height="7.9" fill="#d9d9d9"/>
<rect x="212.11" y="235.15" width="3.72" height="7.9" fill="#d9d9d9"/>
<rect x="216.44" y="235.15" width="3.72" height="7.9" fill="#d9d9d9"/>
<rect x="220.77" y="235.15" width="3.72" height="7.9" fill="#d9d9d9"/>
<rect x="225.1" y="235.15" width="3.72" height="7.9" fill="#d9d9d9"/>
<rect x="229.43" y="235.15" width="3.72" height="7.9" fill="#d9d9d9"/>
<rect x="233.76" y="235.15" width="3.72" height="7.9" fill="#d9d9d9"/>
<rect x="238.1" y="235.15" width="3.72" height="7.9" fill="#d9d9d9"/>
<rect x="242.43" y="235.15" width="3.72" height="7.9" fill="#d9d9d9"/>
<rect x="246.76" y="235.15" width="3.72" height="7.9" fill="#d9d9d9"/>
<rect x="251.09" y="235.15" width="3.72" height="7.9" fill="#d9d9d9"/>
<rect x="255.42" y="235.15" width="3.72" height="7.9" fill="#d9d9d9"/>
<rect x="259.75" y="235.15" width="3.72" height="7.9" fill="#d9d9d9"/>
<rect x="264.08" y="235.15" width="3.72" height="7.9" fill="#d9d9d9"/>
<rect x="268.41" y="235.15" width="3.72" height="7.9" fill="#d9d9d9"/>
<rect x="272.74" y="235.15" width="3.72" height="7.9" fill="#d9d9d9"/>
<rect x="277.07" y="235.15" width="3.72" height="7.9" fill="#d9d9d9"/>
<rect x="281.41" y="235.15" width="3.72" height="7.9" fill="#d9d9d9"/>
<rect x="285.74" y="235.15" width="3.72" height="7.9" fill="#d9d9d9"/>
<rect x="290.07" y="235.15" width="3.72" height="7.9" fill="#d9d9d9"/>
<rect x="294.4" y="235.15" width="3.72" height="7.9" fill="#d9d9d9"/>
<rect x="298.73" y="235.15" width="3.72" height="7.9" fill="#d9d9d9"/>
<rect x="303.06" y="235.15" width="3.72" height="7.9" fill="#d9d9d9"/>
<rect x="307.39" y="235.15" width="3.72" height="7.9" fill="#d9d9d9"/>
<rect x="311.72" y="235.15" width="3.72" height="7.9" fill="#d9d9d9"/>
<rect x="316.05" y="235.15" width="3.72" height="7.9" fill="#d9d9d9"/>
<rect x="320.38" y="235.15" width="3.72" height="7.9" fill="#d9d9d9"/>
<rect x="324.72" y="235.15" width="3.72" height="7.9" fill="#d9d9d9"/>
<rect x="329.05" y="235.15" width="3.72" height="7.9" fill="#d9d9d9"/>
<rect x="333.38" y="235.15" width="3.72" height="7.9" fill="#d9d9d9"/>
<rect x="337.71" y="235.15" width="3.72" height="7.9" fill="#d9d9d9"/>
<rect x="342.04" y="235.15" width="3.72" height="7.9" fill="#d9d9d9"/>
<rect x="346.37" y="235.15" width="3.72" height="7.9" fill="#d9d9d9"/>
<rect x="350.7" y="235.15" width="3.72" height="7.9" fill="#d9d9d9"/>
<rect x="355.03" y="235.15" width="3.72" height="7.9" fill="#d9d9d9"/>
<rect x="359.36" y="235.15" width="3.72" height="7.9" fill="#d9d9d9"/>
<rect x="363.69" y="235.15" width="3.72" height="7.9" fill="#d9d9d9"/>
<rect x="368.03" y="235.15" width="3.72" height="7.9" fill="#d9d9d9"/>
<rect x="372.36" y="235.15" width="3.72" height="7.9" fill="#d9d9d9"/>
<rect x="376.69" y="235.15" width="3.72" height="7.9" fill="#d9d9d9"/>
<rect x="381.02" y="235.15" width="3.72" height="7.9" fill="#d9d9d9"/>
<rect x="385.35" y="235.15" width="3.72" height="7.9" fill="#d9d9d9"/>
<rect x="389.68" y="235.15" width="3.72" height="7.9" fill="#d9d9d9"/>
<rect x="394.01" y="235.15" width="3.72" height="7.9" fill="#1f3f7a"/>
<rect x="398.34" y="235.15" width="3.72" height="7.9" fill="#d9d9d9"/>
<rect x="402.67" y="235.15" width="3.72" height="7.9" fill="#1f3f7a"/>
<rect x="407" y="235.15" width="3.72" height="7.9" fill="#d9d9d9"/>
<rect x="411.34" y="235.15" width="3.72" height="7.9" fill="#d9d9d9"/>
<rect x="415.67" y="235.15" width="3.72" height="7.9" fill="#d9d9d9"/>
<rect x="420" y="235.15" width="3.72" height="7.9" fill="#d9d9d9"/>
<rect x="424.33" y="235.15" width="3.72" height="7.9" fill="#d9d9d9"/>
<rect x="428.66" y="235.15" width="3.72" height="7.9" fill="#d9d9d9"/>
<rect x="432.99" y="235.15" width="3.72" height="7.9" fill="#d9d9d9"/>
<rect x="437.32" y="235.15" width="3.72" height="7.9" fill="#d9d9d9"/>
<rect x="441.65" y="235.15" width="3.72" height="7.9" fill="#d9d9d9"/>
<rect x="43.2" y="244.4" width="3.72" height="7.9" fill="#d9d9d9"/>
<rect x="47.53" y="244.4" width="3.72" height="7.9" fill="#d9d9d9"/>
<rect x="51.86" y="244.4" width="3.72" height="7.9" fill="#d9d9d9"/>
<rect x="56.19" y="244.4" width="3.72" height="7.9" fill="#d9d9d9"/>
<rect x="60.52" y="244.4" width="3.72" height="7.9" fill="#d9d9d9"/>
<rect x="64.86" y="244.4" width="3.72" height="7.9" fill="#d9d9d9"/>
<rect x="69.19" y="244.4" width="3.72" height="7.9" fill="#d9d9d9"/>
<rect x="73.52" y="244.4" width="3.72" height="7.9" fill="#d9d9d9"/>
<rect x="77.85" y="244.4" width="3.72" height="7.9" fill="#d9d9d9"/>
<rect x="82.18" y="244.4" width="3.72" height="7.9" fill="#d9d9d9"/>
<rect x="86.51" y="244.4" width="3.72" height="7.9" fill="#d9d9d9"/>
<rect x="90.84" y="244.4" width="3.72" height="7.9" fill="#d9d9d9"/>
<rect x="95.17" y="244.4" width="3.72" height="7.9" fill="#d9d9d9"/>
<rect x="99.5" y="244.4" width="3.72" height="7.9" fill="#d9d9d9"/>
<rect x="103.83" y="244.4" width="3.72" height="7.9" fill="#d9d9d9"/>
<rect x="108.17" y="244.4" width="3.72" height="7.9" fill="#62a83d"/>
<rect x="112.5" y="244.4" width="3.72" height="7.9" fill="#d9d9d9"/>
<rect x="116.83" y="244.4" width="3.72" height="7.9" fill="#d9d9d9"/>
<rect x="121.16" y="244.4" width="3.72" height="7.9" fill="#d9d9d9"/>
<rect x="125.49" y="244.4" width="3.72" height="7.9" fill="#d9d9d9"/>
<rect x="129.82" y="244.4" width="3.72" height="7.9" fill="#d9d9d9"/>
<rect x="134.15" y="244.4" width="3.72" height="7.9" fill="#d9d9d9"/>
<rect x="138.48" y="244.4" width="3.72" height="7.9" fill="#d9d9d9"/>
<rect x="142.81" y="244.4" width="3.72" height="7.9" fill="#d9d9d9"/>
<rect x="147.14" y="244.4" width="3.72" height="7.9" fill="#d9d9d9"/>
<rect x="151.48" y="244.4" width="3.72" height="7.9" fill="#1f3f7a"/>
<rect x="155.81" y="244.4" width="3.72" height="7.9" fill="#d9d9d9"/>
<rect x="160.14" y="244.4" width="3.72" height="7.9" fill="#d9d9d9"/>
<rect x="164.47" y="244.4" width="3.72" height="7.9" fill="#d9d9d9"/>
<rect x="168.8" y="244.4" width="3.72" height="7.9" fill="#d9d9d9"/>
<rect x="173.13" y="244.4" width="3.72" height="7.9" fill="#d9d9d9"/>
<rect x="177.46" y="244.4" width="3.72" height="7.9" fill="#d9d9d9"/>
<rect x="181.79" y="244.4" width="3.72" height="7.9" fill="#d9d9d9"/>
<rect x="186.12" y="244.4" width="3.72" height="7.9" fill="#d9d9d9"/>
<rect x="190.45" y="244.4" width="3.72" height="7.9" fill="#d9d9d9"/>
<rect x="194.79" y="244.4" width="3.72" height="7.9" fill="#d9d9d9"/>
<rect x="199.12" y="244.4" width="3.72" height="7.9" fill="#d9d9d9"/>
<rect x="203.45" y="244.4" width="3.72" height="7.9" fill="#d9d9d9"/>
<rect x="207.78" y="244.4" width="3.72" height="7.9" fill="#d9d9d9"/>
<rect x="212.11" y="244.4" width="3.72" height="7.9" fill="#d9d9d9"/>
<rect x="216.44" y="244.4" width="3.72" height="7.9" fill="#d9d9d9"/>
<rect x="220.77" y="244.4" width="3.72" height="7.9" fill="#d9d9d9"/>
<rect x="225.1" y="244.4" width="3.72" height="7.9" fill="#d9d9d9"/>
<rect x="229.43" y="244.4" width="3.72" height="7.9" fill="#d9d9d9"/>
<rect x="233.76" y="244.4" width="3.72" height="7.9" fill="#d9d9d9"/>
<rect x="238.1" y="244.4" width="3.72" height="7.9" fill="#d9d9d9"/>
<rect x="242.43" y="244.4" width="3.72" height="7.9" fill="#d9d9d9"/>
<rect x="246.76" y="244.4" width="3.72" height="7.9" fill="#d9d9d9"/>
<rect x="251.09" y="244.4" width="3.72" height="7.9" fill="#d9d9d9"/>
<rect x="255.42" y="244.4" width="3.72" height="7.9" fill="#d9d9d9"/>
<rect x="259.75" y="244.4" width="3.72" height="7.9" fill="#d9d9d9"/>
<rect x="264.08" y="244.4" width="3.72" height="7.9" fill="#d9d9d9"/>
<rect x="268.41" y="244.4" width="3.72" height="7.9" fill="#d9d9d9"/>
<rect x="272.74" y="244.4" width="3.72" height="7.9" fill="#d9d9d9"/>
<rect x="277.07" y="244.4" width="3.72" height="7.9" fill="#d9d9d9"/>
<rect x="281.41" y="244.4" width="3.72" height="7.9" fill="#d9d9d9"/>
<rect x="285.74" y="244.4" width="3.72" height="7.9" fill="#d9d9d9"/>
<rect x="290.07" y="244.4" width="3.72" height="7.9" fill="#d9d9d9"/>
<rect x="294.4" y="244.4" width="3.72" height="7.9" fill="#d9d9d9"/>
<rect x="298.73" y="244.4" width="3.72" height="7.9" fill="#d9d9d9"/>
<rect x="303.06" y="244.4" width="3.72" height="7.9" fill="#d9d9d9"/>
<rect x="307.39" y="244.4" width="3.72" height="7.9" fill="#d9d9d9"/>
<rect x="311.72" y="244.4" width="3.72" height="7.9" fill="#d9d9d9"/>
<rect x="316.05" y="244.4" width="3.72" height="7.9" fill="#d9d9d9"/>
<rect x="320.38" y="244.4" width="3.72" height="7.9" fill="#d9d9d9"/>
<rect x="324.72" y="244.4" width="3.72" height="7.9" fill="#d9d9d9"/>
<rect x="329.05" y="244.4" width="3.72" height="7.9" fill="#d9d9d9"/>
<rect x="333.38" y="244.4" width="3.72" height="7.9" fill="#d9d9d9"/>
<rect x="337.71" y="244.4" width="3.72" height="7.9" fill="#d9d9d9"/>
<rect x="342.04" y="244.4" width="3.72" height="7.9" fill="#d9d9d9"/>
<rect x="346.37" y="244.4" width="3.72" height="7.9" fill="#d9d9d9"/>
<rect x="350.7" y="244.4" width="3.72" height="7.9" fill="#d9d9d9"/>
<rect x="355.03" y="244.4" width="3.72" height="7.9" fill="#d9d9d9"/>
<rect x="359.36" y="244.4" width="3.72" height="7.9" fill="#d9d9d9"/>
<rect x="363.69" y="244.4" width="3.72" height="7.9" fill="#d9d9d9"/>
<rect x="368.03" y="244.4" width="3.72" height="7.9" fill="#d9d9d9"/>
<rect x="372.36" y="244.4" width="3.72" height="7.9" fill="#d9d9d9"/>
<rect x="376.69" y="244.4" width="3.72" height="7.9" fill="#d9d9d9"/>
<rect x="381.02" y="244.4" width="3.72" height="7.9" fill="#d9d9d9"/>
<rect x="385.35" y="244.4" width="3.72" height="7.9" fill="#d9d9d9"/>
<rect x="389.68" y="244.4" width="3.72" height="7.9" fill="#d9d9d9"/>
<rect x="394.01" y="244.4" width="3.72" height="7.9" fill="#d9d9d9"/>
<rect x="398.34" y="244.4" width="3.72" height="7.9" fill="#d9d9d9"/>
<rect x="402.67" y="244.4" width="3.72" height="7.9" fill="#d9d9d9"/>
<rect x="407" y="244.4" width="3.72" height="7.9" fill="#d9d9d9"/>
<rect x="411.34" y="244.4" width="3.72" height="7.9" fill="#d9d9d9"/>
<rect x="415.67" y="244.4" width="3.72" height="7.9" fill="#d9d9d9"/>
<rect x="420" y="244.4" width="3.72" height="7.9" fill="#d9d9d9"/>
<rect x="424.33" y="244.4" width="3.72" height="7.9" fill="#d9d9d9"/>
<rect x="428.66" y="244.4" width="3.72" height="7.9" fill="#d9d9d9"/>
<rect x="432.99" y="244.4" width="3.72" height="7.9" fill="#d9d9d9"/>
<rect x="437.32" y="244.4" width="3.72" height="7.9" fill="#d9d9d9"/>
<rect x="441.65" y="244.4" width="3.72" height="7.9" fill="#d9d9d9"/>
<rect x="43.2" y="253.65" width="3.72" height="7.9" fill="#d9d9d9"/>
<rect x="47.53" y="253.65" width="3.72" height="7.9" fill="#d9d9d9"/>
<rect x="51.86" y="253.65" width="3.72" height="7.9" fill="#d9d9d9"/>
<rect x="56.19" y="253.65" width="3.72" height="7.9" fill="#d9d9d9"/>
<rect x="60.52" y="253.65" width="3.72" height="7.9" fill="#d9d9d9"/>
<rect x="64.86" y="253.65" width="3.72" height="7.9" fill="#d9d9d9"/>
<rect x="69.19" y="253.65" width="3.72" height="7.9" fill="#d9d9d9"/>
<rect x="73.52" y="253.65" width="3.72" height="7.9" fill="#d9d9d9"/>
<rect x="77.85" y="253.65" width="3.72" height="7.9" fill="#d9d9d9"/>
<rect x="82.18" y="253.65" width="3.72" height="7.9" fill="#d9d9d9"/>
<rect x="86.51" y="253.65" width="3.72" height="7.9" fill="#d9d9d9"/>
<rect x="90.84" y="253.65" width="3.72" height="7.9" fill="#d9d9d9"/>
<rect x="95.17" y="253.65" width="3.72" height="7.9" fill="#d9d9d9"/>
<rect x="99.5" y="253.65" width="3.72" height="7.9" fill="#d9d9d9"/>
<rect x="103.83" y="253.65" width="3.72" height="7.9" fill="#d9d9d9"/>
<rect x="108.17" y="253.65" width="3.72" height="7.9" fill="#d9d9d9"/>
<rect x="112.5" y="253.65" width="3.72" height="7.9" fill="#d9d9d9"/>
<rect x="116.83" y="253.65" width="3.72" height="7.9" fill="#d9d9d9"/>
<rect x="121.16" y="253.65" width="3.72" height="7.9" fill="#d9d9d9"/>
<rect x="125.49" y="253.65" width="3.72" height="7.9" fill="#d9d9d9"/>
<rect x="129.82" y="253.65" width="3.72" height="7.9" fill="#d9d9d9"/>
<rect x="134.15" y="253.65" width="3.72" height="7.9" fill="#d9d9d9"/>
<rect x="138.48" y="253.65" width="3.72" height="7.9" fill="#d9d9d9"/>
<rect x="142.81" y="253.65" width="3.72" height="7.9" fill="#d9d9d9"/>
<rect x="147.14" y="253.65" width="3.72" height="7.9" fill="#d9d9d9"/>
<rect x="151.48" y="253.65" width="3.72" height="7.9" fill="#d9d9d9"/>
<rect x="155.81" y="253.65" width="3.72" height="7.9" fill="#d9d9d9"/>
<rect x="160.14" y="253.65" width="3.72" height="7.9" fill="#d9d9d9"/>
<rect x="164.47" y="253.65" width="3.72" height="7.9" fill="#d9d9d9"/>
<rect x="168.8" y="253.65" width="3.72" height="7.9" fill="#d9d9d9"/>
<rect x="173.13" y="253.65" width="3.72" height="7.9" fill="#d9d9d9"/>
<rect x="177.46" y="253.65" width="3.72" height="7.9" fill="#d9d9d9"/>
<rect x="181.79" y="253.65" width="3.72" height="7.9" fill="#d9d9d9"/>
<rect x="186.12" y="253.65" width="3.72" height="7.9" fill="#d9d9d9"/>
<rect x="190.45" y="253.65" width="3.72" height="7.9" fill="#d9d9d9"/>
<rect x="194.79" y="253.65" width="3.72" height="7.9" fill="#d9d9d9"/>
<rect x="199.12" y="253.65" width="3.72" height="7.9" fill="#4e1a5c"/>
<rect x="203.45" y="253.65" width="3.72" height="7.9" fill="#d9d9d9"/>
<rect x="207.78" y="253.65" width="3.72" height="7.9" fill="#d9d9d9"/>
<rect x="212.11" y="253.65" width="3.72" height="7.9" fill="#d9d9d9"/>
<rect x="216.44" y="253.65" width="3.72" height="7.9" fill="#d9d9d9"/>
<rect x="220.77" y="253.65" width="3.72" height="7.9" fill="#d9d9d9"/>
<rect x="225.1" y="253.65" width="3.72" height="7.9" fill="#d9d9d9"/>
<rect x="229.43" y="253.65" width="3.72" height="7.9" fill="#d9d9d9"/>
<rect x="233.76" y="253.65" width="3.72" height="7.9" fill="#d9d9d9"/>
<rect x="238.1" y="253.65" width="3.72" height="7.9" fill="#d9d9d9"/>
<rect x="242.43" y="253.65" width="3.72" height="7.9" fill="#d9d9d9"/>
<rect x="246.76" y="253.65" width="3.72" height="7.9" fill="#d9d9d9"/>
<rect x="251.09" y="253.65" width="3.72" height="7.9" fill="#d9d9d9"/>
<rect x="255.42" y="253.65" width="3.72" height="7.9" fill="#d9d9d9"/>
<rect x="259.75" y="253.65" width="3.72" height="7.9" fill="#d9d9d9"/>
<rect x="264.08" y="253.65" width="3.72" height="7.9" fill="#d9d9d9"/>
<rect x="268.41" y="253.65" width="3.72" height="7.9" fill="#d9d9d9"/>
<rect x="272.74" y="253.65" width="3.72" height="7.9" fill="#d9d9d9"/>
<rect x="277.07" y="253.65" width="3.72" height="7.9" fill="#d9d9d9"/>
<rect x="281.41" y="253.65" width="3.72" height="7.9" fill="#b3651e"/>
<rect x="285.74" y="253.65" width="3.72" height="7.9" fill="#d9d9d9"/>
<rect x="290.07" y="253.65" width="3.72" height="7.9" fill="#d9d9d9"/>
<rect x="294.4" y="253.65" width="3.72" height="7.9" fill="#d9d9d9"/>
<rect x="298.73" y="253.65" width="3.72" height="7.9" fill="#d9d9d9"/>
<rect x="303.06" y="253.65" width="3.72" height="7.9" fill="#d9d9d9"/>
<rect x="307.39" y="253.65" width="3.72" height="7.9" fill="#d9d9d9"/>
<rect x="311.72" y="253.65" width="3.72" height="7.9" fill="#d9d9d9"/>
<rect x="316.05" y="253.65" width="3.72" height="7.9" fill="#d9d9d9"/>
<rect x="320.38" y="253.65" width="3.72" height="7.9" fill="#d9d9d9"/>
<rect x="324.72" y="253.65" width="3.72" height="7.9" fill="#d9d9d9"/>
<rect x="329.05" y="253.65" width="3.72" height="7.9" fill="#d9d9d9"/>
<rect x="333.38" y="253.65" width="3.72" height="7.9" fill="#d9d9d9"/>
<rect x="337.71" y="253.65" width="3.72" height="7.9" fill="#d9d9d9"/>
<rect x="342.04" y="253.65" width="3.72" height="7.9" fill="#d9d9d9"/>
<rect x="346.37" y="253.65" width="3.72" height="7.9" fill="#d9d9d9"/>
<rect x="350.7" y="253.65" width="3.72" height="7.9" fill="#d9d9d9"/>
<rect x="355.03" y="253.65" width="3.72" height="7.9" fill="#d9d9d9"/>
<rect x="359.36" y="253.65" width="3.72" height="7.9" fill="#d9d9d9"/>
<rect x="363.69" y="253.65" width="3.72" height="7.9" fill="#d9d9d9"/>
<rect x="368.03" y="253.65" width="3.72" height="7.9" fill="#d9d9d9"/>
<rect x="372.36" y="253.65" width="3.72" height="7.9" fill="#d9d9d9"/>
<rect x="376.69" y="253.65" width="3.72" height="7.9" fill="#d9d9d9"/>
<rect x="381.02" y="253.65" width="3.72" height="7.9" fill="#d9d9d9"/>
<rect x="385.35" y="253.65" width="3.72" height="7.9" fill="#d9d9d9"/>
<rect x="389.68" y="253.65" width="3.72" height="7.9" fill="#d9d9d9"/>
<rect x="394.01" y="253.65" width="3.72" height="7.9" fill="#d9d9d9"/>
<rect x="398.34" y="253.65" width="3.72" height="7.9" fill="#d9d9d9"/>
<rect x="402.67" y="253.65" width="3.72" height="7.9" fill="#d9d9d9"/>
<rect x="407" y="253.65" width="3.72" height="7.9" fill="#d9d9d9"/>
<rect x="411.34" y="253.65" width="3.72" height="7.9" fill="#d9d9d9"/>
<rect x="415.67" y="253.65" width="3.72" height="7.9" fill="#d9d9d9"/>
<rect x="420" y="253.65" width="3.72" height="7.9" fill="#d9d9d9"/>
<rect x="424.33" y="253.65" width="3.72" height="7.9" fill="#d9d9d9"/>
<rect x="428.66" y="253.65" width="3.72" height="7.9" fill="#d9d9d9"/>
<rect x="432.99" y="253.65" width="3.72" height="7.9" fill="#d9d9d9"/>
<rect x="437.32" y="253.65" width="3.72" height="7.9" fill="#d9d9d9"/>
<rect x="441.65" y="253.65" width="3.72" height="7.9" fill="#d9d9d9"/>
<rect x="43.2" y="262.9" width="3.72" height="7.9" fill="#d9d9d9"/>
<rect x="47.53" y="262.9" width="3.72" height="7.9" fill="#d9d9d9"/>
<rect x="51.86" y="262.9" width="3.72" height="7.9" fill="#d9d9d9"/>
<rect x="56.19" y="262.9" width="3.72" height="7.9" fill="#d9d9d9"/>
<rect x="60.52" y="262.9" width="3.72" height="7.9" fill="#d9d9d9"/>
<rect x="64.86" y="262.9" width="3.72" height="7.9" fill="#d9d9d9"/>
<rect x="69.19" y="262.9" width="3.72" height="7.9" fill="#d9d9d9"/>
<rect x="73.52" y="262.9" width="3.72" height="7.9" fill="#d9d9d9"/>
<rect x="77.85" y="262.9" width="3.72" height="7.9" fill="#d9d9d9"/>
<rect x="82.18" y="262.9" width="3.72" height="7.9" fill="#d9d9d9"/>
<rect x="86.51" y="262.9" width="3.72" height="7.9" fill="#d9d9d9"/>
<rect x="90.84" y="262.9" width="3.72" height="7.9" fill="#d9d9d9"/>
<rect x="95.17" y="262.9" width="3.72" height="7.9" fill="#d9d9d9"/>
<rect x="99.5" y="262.9" width="3.72" height="7.9" fill="#d9d9d9"/>
<rect x="103.83" y="262.9" width="3.72" height="7.9" fill="#d9d9d9"/>
<rect x="108.17" y="262.9" width="3.72" height="7.9" fill="#d9d9d9"/>
<rect x="112.5" y="262.9" width="3.72" height="7.9" fill="#d9d9d9"/>
<rect x="116.83" y="262.9" width="3.72" height="7.9" fill="#d9d9d9"/>
<rect x="121.16" y="262.9" width="3.72" height="7.9" fill="#d9d9d9"/>
<rect x="125.49" y="262.9" width="3.72" height="7.9" fill="#d9d9d9"/>
<rect x="129.82" y="262.9" width="3.72" height="7.9" fill="#d9d9d9"/>
<rect x="134.15" y="262.9" width="3.72" height="7.9" fill="#d9d9d9"/>
<rect x="138.48" y="262.9" width="3.72" height="7.9" fill="#d9d9d9"/>
<rect x="142.81" y="262.9" width="3.72" height="7.9" fill="#d9d9d9"/>
<rect x="147.14" y="262.9" width="3.72" height="7.9" fill="#d9d9d9"/>
<rect x="151.48" y="262.9" width="3.72" height="7.9" fill="#d9d9d9"/>
<rect x="155.81" y="262.9" width="3.72" height="7.9" fill="#d9d9d9"/>
<rect x="160.14" y="262.9" width="3.72" height="7.9" fill="#d9d9d9"/>
<rect x="164.47" y="262.9" width="3.72" height="7.9" fill="#d9d9d9"/>
<rect x="168.8" y="262.9" width="3.72" height="7.9" fill="#d9d9d9"/>
<rect x="173.13" y="262.9" width="3.72" height="7.9" fill="#d9d9d9"/>
<rect x="177.46" y="262.9" width="3.72" height="7.9" fill="#d9d9d9"/>
<rect x="181.79" y="262.9" width="3.72" height="7.9" fill="#d9d9d9"/>
<rect x="186.12" y="262.9" width="3.72" height="7.9" fill="#d9d9d9"/>
<rect x="190.45" y="262.9" width="3.72" height="7.9" fill="#d9d9d9"/>
<rect x="194.79" y="262.9" width="3.72" height="7.9" fill="#d9d9d9"/>
<rect x="199.12" y="262.9" width="3.72" height="7.9" fill="#d9d9d9"/>
<rect x="203.45" y="262.9" width="3.72" height="7.9" fill="#d9d9d9"/>
<rect x="207.78" y="262.9" width="3.72" height="7.9" fill="#d9d9d9"/>
<rect x="212.11" y="262.9" width="3.72" height="7.9" fill="#d9d9d9"/>
<rect x="216.44" y="262.9" width="3.72" height="7.9" fill="#d9d9d9"/>
<rect x="220.77" y="262.9" width="3.72" height="7.9" fill="#d9d9d9"/>
<rect x="225.1" y="262.9" width="3.72" height="7.9" fill="#d9d9d9"/>
<rect x="229.43" y="262.9" width="3.72" height="7.9" fill="#d9d9d9"/>
<rect x="233.76" y="262.9" width="3.72" height="7.9" fill="#d9d9d9"/>
<rect x="238.1" y="262.9" width="3.72" height="7.9" fill="#d9d9d9"/>
<rect x="242.43" y="262.9" width="3.72" height="7.9" fill="#d9d9d9"/>
<rect x="246.76" y="262.9" width="3.72" height="7.9" fill="#d9d9d9"/>
<rect x="251.09" y="262.9" width="3.72" height="7.9" fill="#d9d9d9"/>
<rect x="255.42" y="262.9" width="3.72" height="7.9" fill="#d9d9d9"/>
<rect x="259.75" y="262.9" width="3.72" height="7.9" fill="#d9d9d9"/>
<rect x="264.08" y="262.9" width="3.72" height="7.9" fill="#d9d9d9"/>
<rect x="268.41" y="262.9" width="3.72" height="7.9" fill="#d9d9d9"/>
<rect x="272.74" y="262.9" width="3.72" height="7.9" fill="#d9d9d9"/>
<rect x="277.07" y="262.9" width="3.72" height="7.9" fill="#d9d9d9"/>
<rect x="281.41" y="262.9" width="3.72" height="7.9" fill="#d9d9d9"/>
<rect x="285.74" y="262.9" width="3.72" height="7.9" fill="#d9d9d9"/>
<rect x="290.07" y="262.9" width="3.72" height="7.9" fill="#d9d9d9"/>
<rect x="294.4" y="262.9" width="3.72" height="7.9" fill="#d9d9d9"/>
<rect x="298.73" y="262.9" width="3.72" height="7.9" fill="#d9d9d9"/>
<rect x="303.06" y="262.9" width="3.72" height="7.9" fill="#d9d9d9"/>
<rect x="307.39" y="262.9" width="3.72" height="7.9" fill="#d9d9d9"/>
<rect x="311.72" y="262.9" width="3.72" height="7.9" fill="#d9d9d9"/>
<rect x="316.05" y="262.9" width="3.72" height="7.9" fill="#d9d9d9"/>
<rect x="320.38" y="262.9" width="3.72" height="7.9" fill="#d9d9d9"/>
<rect x="324.72" y="262.9" width="3.72" height="7.9" fill="#d9d9d9"/>
<rect x="329.05" y="262.9" width="3.72" height="7.9" fill="#d9d9d9"/>
<rect x="333.38" y="262.9" width="3.72" height="7.9" fill="#d9d9d9"/>
<rect x="337.71" y="262.9" width="3.72" height="7.9" fill="#d9d9d9"/>
<rect x="342.04" y="262.9" width="3.72" height="7.9" fill="#d9d9d9"/>
<rect x="346.37" y="262.9" width="3.72" height="7.9" fill="#d9d9d9"/>
<rect x="350.7" y="262.9" width="3.72" height="7.9" fill="#1f3f7a"/>
<rect x="355.03" y="262.9" width="3.72" height="7.9" fill="#d9d9d9"/>
<rect x="359.36" y="262.9" width="3.72" height="7.9" fill="#d9d9d9"/>
<rect x="363.69" y="262.9" width="3.72" height="7.9" fill="#d9d9d9"/>
<rect x="368.03" y="262.9" width="3.72" height="7.9" fill="#d9d9d9"/>
<rect x="372.36" y="262.9" width="3.72" height="7.9" fill="#d9d9d9"/>
<rect x="376.69" y="262.9" width="3.72" height="7.9" fill="#d9d9d9"/>
<rect x="381.02" y="262.9" width="3.72" height="7.9" fill="#d9d9d9"/>
<rect x="385.35" y="262.9" width="3.72" height="7.9" fill="#d9d9d9"/>
<rect x="389.68" y="262.9" width="3.72" height="7.9" fill="#d9d9d9"/>
<rect x="394.01" y="262.9" width="3.72" height="7.9" fill="#d9d9d9"/>
<rect x="398.34" y="262.9" width="3.72" height="7.9" fill="#d9d9d9"/>
<rect x="402.67" y="262.9" width="3.72" height="7.9" fill="#d9d9d9"/>
<rect x="407" y="262.9" width="3.72" height="7.9" fill="#d9d9d9"/>
<rect x="411.34" y="262.9" width="3.72" height="7.9" fill="#d9d9d9"/>
<rect x="415.67" y="262.9" width="3.72" height="7.9" fill="#d9d9d9"/>
<rect x="420" y="262.9" width="3.72" height="7.9" fill="#d9d9d9"/>
<rect x="424.33" y="262.9" width="3.72" height="7.9" fill="#d9d9d9"/>
<rect x="428.66" y="262.9" width="3.72" height="7.9" fill="#d9d9d9"/>
<rect x="432.99" y="262.9" width="3.72" height="7.9" fill="#d9d9d9"/>
<rect x="437.32" y="262.9" width="3.72" height="7.9" fill="#d9d9d9"/>
<rect x="441.65" y="262.9" width="3.72" height="7.9" fill="#d9d9d9"/>
<rect x="43.2" y="272.15" width="3.72" height="7.9" fill="#d9d9d9"/>
<rect x="47.53" y="272.15" width="3.72" height="7.9" fill="#d9d9d9"/>
<rect x="51.86" y="272.15" width="3.72" height="7.9" fill="#d9d9d9"/>
<rect x="56.19" y="272.15" width="3.72" height="7.9" fill="#d9d9d9"/>
<rect x="60.52" y="272.15" width="3.72" height="7.9" fill="#d9d9d9"/>
<rect x="64.86" y="272.15" width="3.72" height="7.9" fill="#d9d9d9"/>
<rect x="69.19" y="272.15" width="3.72" height="7.9" fill="#d9d9d9"/>
<rect x="73.52" y="272.15" width="3.72" height="7.9" fill="#d9d9d9"/>
<rect x="77.85" y="272.15" width="3.72" height="7.9" fill="#d9d9d9"/>
<rect x="82.18" y="272.15" width="3.72" height="7.9" fill="#d9d9d9"/>
<rect x="86.51" y="272.15" width="3.72" height="7.9" fill="#d9d9d9"/>
<rect x="90.84" y="272.15" width="3.72" height="7.9" fill="#d9d9d9"/>
<rect x="95.17" y="272.15" width="3.72" height="7.9" fill="#d9d9d9"/>
<rect x="99.5" y="272.15" width="3.72" height="7.9" fill="#d9d9d9"/>
<rect x="103.83" y="272.15" width="3.72" height="7.9" fill="#d9d9d9"/>
<rect x="108.17" y="272.15" width="3.72" height="7.9" fill="#d9d9d9"/>
<rect x="112.5" y="272.15" width="3.72" height="7.9" fill="#d9d9d9"/>
<rect x="116.83" y="272.15" width="3.72" height="7.9" fill="#d9d9d9"/>
<rect x="121.16" y="272.15" width="3.72" height="7.9" fill="#d9d9d9"/>
<rect x="125.49" y="272.15" width="3.72" height="7.9" fill="#d9d9d9"/>
<rect x="129.82" y="272.15" width="3.72" height="7.9" fill="#d9d9d9"/>
<rect x="134.15" y="272.15" width="3.72" height="7.9" fill="#d9d9d9"/>
<rect x="138.48" y="272.15" width="3.72" height="7.9" fill="#d9d9d9"/>
<rect x="142.81" y="272.15" width="3.72" height="7.9" fill="#d9d9d9"/>
<rect x="147.14" y="272.15" width="3.72" height="7.9" fill="#d9d9d9"/>
<rect x="151.48" y="272.15" width="3.72" height="7.9" fill="#d9d9d9"/>
<rect x="155.81" y="272.15" width="3.72" height="7.9" fill="#d9d9d9"/>
<rect x="160.14" y="272.15" width="3.72" height="7.9" fill="#d9d9d9"/>
<rect x="164.47" y="272.15" width="3.72" height="7.9" fill="#d9d9d9"/>
<rect x="168.8" y="272.15" width="3.72" height="7.9" fill="#d9d9d9"/>
<rect x="173.13" y="272.15" width="3.72" height="7.9" fill="#d9d9d9"/>
<rect x="177.46" y="272.15" width="3.72" height="7.9" fill="#d9d9d9"/>
<rect x="181.79" y="272.15" width="3.72" height="7.9" fill="#d9d9d9"/>
<rect x="186.12" y="272.15" width="3.72" height="7.9" fill="#d9d9d9"/>
<rect x="190.45" y="272.15" width="3.72" height="7.9" fill="#d9d9d9"/>
<rect x="194.79" y="272.15" width="3.72" height="7.9" fill="#d9d9d9"/>
<rect x="199.12" y="272.15" width="3.72" height="7.9" fill="#d9d9d9"/>
<rect x="203.45" y="272.15" width="3.72" height="7.9" fill="#62a83d"/>
<rect x="207.78" y="272.15" width="3.72" height="7.9" fill="#d9d9d9"/>
<rect x="212.11" y="272.15" width="3.72" height="7.9" fill="#d9d9d9"/>
<rect x="216.44" y="272.15" width="3.72" height="7.9" fill="#d9d9d9"/>
<rect x="220.77" y="272.15" width="3.72" height="7.9" fill="#d9d9d9"/>
<rect x="225.1" y="272.15" width="3.72" height="7.9" fill="#d9d9d9"/>
<rect x="229.43" y="272.15" width="3.72" height="7.9" fill="#d9d9d9"/>
<rect x="233.76" y="272.15" width="3.72" height="7.9" fill="#d9d9d9"/>
<rect x="238.1" y="272.15" width="3.72" height="7.9" fill="#d9d9d9"/>
<rect x="242.43" y="272.15" width="3.72" height="7.9" fill="#d9d9d9"/>
<rect x="246.76" y="272.15" width="3.72" height="7.9" fill="#d9d9d9"/>
<rect x="251.09" y="272.15" width="3.72" height="7.9" fill="#d9d9d9"/>
<rect x="255.42" y="272.15" width="3.72" height="7.9" fill="#d9d9d9"/>
<rect x="259.75" y="272.15" width="3.72" height="7.9" fill="#d9d9d9"/>
<rect x="264.08" y="272.15" width="3.72" height="7.9" fill="#d9d9d9"/>
<rect x="268.41" y="272.15" width="3.72" height="7.9" fill="#d9d9d9"/>
<rect x="272.74" y="272.15" width="3.72" height="7.9" fill="#d9d9d9"/>
<rect x="277.07" y="272.15" width="3.72" height="7.9" fill="#d9d9d9"/>
<rect x="281.41" y="272.15" width="3.72" height="7.9" fill="#d9d9d9"/>
<rect x="285.74" y="272.15" width="3.72" height="7.9" fill="#d9d9d9"/>
<rect x="290.07" y="272.15" width="3.72" height="7.9" fill="#d9d9d9"/>
<rect x="294.4" y="272.15" width="3.72" height="7.9" fill="#d9d9d9"/>
<rect x="298.73" y="272.15" width="3.72" height="7.9" fill="#d9d9d9"/>
<rect x="303.06" y="272.15" width="3.72" height="7.9" fill="#d9d9d9"/>
<rect x="307.39" y="272.15" width="3.72" height="7.9" fill="#d9d9d9"/>
<rect x="311.72" y="272.15" width="3.72" height="7.9" fill="#d9d9d9"/>
<rect x="316.05" y="272.15" width="3.72" height="7.9" fill="#d9d9d9"/>
<rect x="320.38" y="272.15" width="3.72" height="7.9" fill="#d9d9d9"/>
<rect x="324.72" y="272.15" width="3.72" height="7.9" fill="#d9d9d9"/>
<rect x="329.05" y="272.15" width="3.72" height="7.9" fill="#d9d9d9"/>
<rect x="333.38" y="272.15" width="3.72" height="7.9" fill="#d9d9d9"/>
<rect x="337.71" y="272.15" width="3.72" height="7.9" fill="#d9d9d9"/>
<rect x="342.04" y="272.15" width="3.72" height="7.9" fill="#d9d9d9"/>
<rect x="346.37" y="272.15" width="3.72" height="7.9" fill="#d9d9d9"/>
<rect x="350.7" y="272.15" width="3.72" height="7.9" fill="#d9d9d9"/>
<rect x="355.03" y="272.15" width="3.72" height="7.9" fill="#d9d9d9"/>
<rect x="359.36" y="272.15" width="3.72" height="7.9" fill="#d9d9d9"/>
<rect x="363.69" y="272.15" width="3.72" height="7.9" fill="#d9d9d9"/>
<rect x="368.03" y="272.15" width="3.72" height="7.9" fill="#d9d9d9"/>
<rect x="372.36" y="272.15" width="3.72" height="7.9" fill="#d9d9d9"/>
<rect x="376.69" y="272.15" width="3.72" height="7.9" fill="#d9d9d9"/>
<rect x="381.02" y="272.15" width="3.72" height="7.9" fill="#d9d9d9"/>
<rect x="385.35" y="272.15" width="3.72" height="7.9" fill="#d9d9d9"/>
<rect x="389.68" y="272.15" width="3.72" height="7.9" fill="#d9d9d9"/>
<rect x="394.01" y="272.15" width="3.72" height="7.9" fill="#d9d9d9"/>
<rect x="398.34" y="272.15" width="3.72" height="7.9" fill="#d9d9d9"/>
<rect x="402.67" y="272.15" width="3.72" height="7.9" fill="#d9d9d9"/>
<rect x="407" y="272.15" width="3.72" height="7.9" fill="#d9d9d9"/>
<rect x="411.34" y="272.15" width="3.72" height="7.9" fill="#d9d9d9"/>
<rect x="415.67" y="272.15" width="3.72" height="7.9" fill="#d9d9d9"/>
<rect x="420" y="272.15" width="3.72" height="7.9" fill="#d9d9d9"/>
<rect x="424.33" y="272.15" width="3.72" height="7.9" fill="#d9d9d9"/>
<rect x="428.66" y="272.15" width="3.72" height="7.9" fill="#d9d9d9"/>
<rect x="432.99" y="272.15" width="3.72" height="7.9" fill="#d9d9d9"/>
<rect x="437.32" y="272.15" width="3.72" height="7.9" fill="#d9d9d9"/>
<rect x="441.65" y="272.15" width="3.72" height="7.9" fill="#d9d9d9"/>
<rect x="43.2" y="281.4" width="3.72" height="7.9" fill="#d9d9d9"/>
<rect x="47.53" y="281.4" width="3.72" height="7.9" fill="#d9d9d9"/>
<rect x="51.86" y="281.4" width="3.72" height="7.9" fill="#d9d9d9"/>
<rect x="56.19" y="281.4" width="3.72" height="7.9" fill="#d9d9d9"/>
<rect x="60.52" y="281.4" width="3.72" height="7.9" fill="#d9d9d9"/>
<rect x="64.86" y="281.4" width="3.72" height="7.9" fill="#d9d9d9"/>
<rect x="69.19" y="281.4" width="3.72" height="7.9" fill="#d9d9d9"/>
<rect x="73.52" y="281.4" width="3.72" height="7.9" fill="#d9d9d9"/>
<rect x="77.85" y="281.4" width="3.72" height="7.9" fill="#d9d9d9"/>
<rect x="82.18" y="281.4" width="3.72" height="7.9" fill="#d9d9d9"/>
<rect x="86.51" y="281.4" width="3.72" height="7.9" fill="#d9d9d9"/>
<rect x="90.84" y="281.4" width="3.72" height="7.9" fill="#d9d9d9"/>
<rect x="95.17" y="281.4" width="3.72" height="7.9" fill="#d9d9d9"/>
<rect x="99.5" y="281.4" width="3.72" height="7.9" fill="#d9d9d9"/>
<rect x="103.83" y="281.4" width="3.72" height="7.9" fill="#d9d9d9"/>
<rect x="108.17" y="281.4" width="3.72" height="7.9" fill="#d9d9d9"/>
<rect x="112.5" y="281.4" width="3.72" height="7.9" fill="#d9d9d9"/>
<rect x="116.83" y="281.4" width="3.72" height="7.9" fill="#d9d9d9"/>
<rect x="121.16" y="281.4" width="3.72" height="7.9" fill="#d9d9d9"/>
<rect x="125.49" y="281.4" width="3.72" height="7.9" fill="#d9d9d9"/>
<rect x="129.82" y="281.4" width="3.72" height="7.9" fill="#d9d9d9"/>
<rect x="134.15" y="281.4" width="3.72" height="7.9" fill="#d9d9d9"/>
<rect x="138.48" y="281.4" width="3.72" height="7.9" fill="#d9d9d9"/>
<rect x="142.81" y="281.4" width="3.72" height="7.9" fill="#d9d9d9"/>
<rect x="147.14" y="281.4" width="3.72" height="7.9" fill="#d9d9d9"/>
<rect x="151.48" y="281.4" width="3.72" height="7.9" fill="#d9d9d9"/>
<rect x="155.81" y="281.4" width="3.72" height="7.9" fill="#d9d9d9"/>
<rect x="160.14" y="281.4" width="3.72" height="7.9" fill="#d9d9d9"/>
<rect x="164.47" y="281.4" width="3.72" height="7.9" fill="#d9d9d9"/>
<rect x="168.8" y="281.4" width="3.72" height="7.9" fill="#d9d9d9"/>
<rect x="173.13" y="281.4" width="3.72" height="7.9" fill="#d9d9d9"/>
<rect x="177.46" y="281.4" width="3.72" height="7.9" fill="#d9d9d9"/>
<rect x="181.79" y="281.4" width="3.72" height="7.9" fill="#d9d9d9"/>
<rect x="186.12" y="281.4" width="3.72" height="7.9" fill="#d9d9d9"/>
<rect x="190.45" y="281.4" width="3.72" height="7.9" fill="#d9d9d9"/>
<rect x="194.79" y="281.4" width="3.72" height="7.9" fill="#d9d9d9"/>
<rect x="199.12" y="281.4" width="3.72" height="7.9" fill="#d9d9d9"/>
<rect x="203.45" y="281.4" width="3.72" height="7.9" fill="#d9d9d9"/>
<rect x="207.78" y="281.4" width="3.72" height="7.9" fill="#d9d9d9"/>
<rect x="212.11" y="281.4" width="3.72" height="7.9" fill="#d9d9d9"/>
<rect x="216.44" y="281.4" width="3.72" height="7.9" fill="#d9d9d9"/>
<rect x="220.77" y="281.4" width="3.72" height="7.9" fill="#d9d9d9"/>
<rect x="225.1" y="281.4" width="3.72" height="7.9" fill="#d9d9d9"/>
<rect x="229.43" y="281.4" width="3.72" height="7.9" fill="#d9d9d9"/>
<rect x="233.76" y="281.4" width="3.72" height="7.9" fill="#d9d9d9"/>
<rect x="238.1" y="281.4" width="3.72" height="7.9" fill="#d9d9d9"/>
<rect x="242.43" y="281.4" width="3.72" height="7.9" fill="#d9d9d9"/>
<rect x="246.76" y="281.4" width="3.72" height="7.9" fill="#d9d9d9"/>
<rect x="251.09" y="281.4" width="3.72" height="7.9" fill="#d9d9d9"/>
<rect x="255.42" y="281.4" width="3.72" height="7.9" fill="#d9d9d9"/>
<rect x="259.75" y="281.4" width="3.72" height="7.9" fill="#d9d9d9"/>
<rect x="264.08" y="281.4" width="3.72" height="7.9" fill="#d9d9d9"/>
<rect x="268.41" y="281.4" width="3.72" height="7.9" fill="#d9d9d9"/>
<rect x="272.74" y="281.4" width="3.72" height="7.9" fill="#d9d9d9"/>
<rect x="277.07" y="281.4" width="3.72" height="7.9" fill="#d9d9d9"/>
<rect x="281.41" y="281.4" width="3.72" height="7.9" fill="#d9d9d9"/>
<rect x="285.74" y="281.4" width="3.72" height="7.9" fill="#d9d9d9"/>
<rect x="290.07" y="281.4" width="3.72" height="7.9" fill="#d9d9d9"/>
<rect x="294.4" y="281.4" width="3.72" height="7.9" fill="#d9d9d9"/>
<rect x="298.73" y="281.4" width="3.72" height="7.9" fill="#d9d9d9"/>
<rect x="303.06" y="281.4" width="3.72" height="7.9" fill="#d9d9d9"/>
<rect x="307.39" y="281.4" width="3.72" height="7.9" fill="#d9d9d9"/>
<rect x="311.72" y="281.4" width="3.72" height="7.9" fill="#d9d9d9"/>
<rect x="316.05" y="281.4" width="3.72" height="7.9" fill="#d9d9d9"/>
<rect x="320.38" y="281.4" width="3.72" height="7.9" fill="#d9d9d9"/>
<rect x="324.72" y="281.4" width="3.72" height="7.9" fill="#d9d9d9"/>
<rect x="329.05" y="281.4" width="3.72" height="7.9" fill="#d9d9d9"/>
<rect x="333.38" y="281.4" width="3.72" height="7.9" fill="#d9d9d9"/>
<rect x="337.71" y="281.4" width="3.72" height="7.9" fill="#d9d9d9"/>
<rect x="342.04" y="281.4" width="3.72" height="7.9" fill="#d9d9d9"/>
<rect x="346.37" y="281.4" width="3.72" height="7.9" fill="#d9d9d9"/>
<rect x="350.7" y="281.4" width="3.72" height="7.9" fill="#a8002c"/>
<rect x="355.03" y="281.4" width="3.72" height="7.9" fill="#d9d9d9"/>
<rect x="359.36" y="281.4" width="3.72" height="7.9" fill="#d9d9d9"/>
<rect x="363.69" y="281.4" width="3.72" height="7.9" fill="#d9d9d9"/>
<rect x="368.03" y="281.4" width="3.72" height="7.9" fill="#d9d9d9"/>
<rect x="372.36" y="281.4" width="3.72" height="7.9" fill="#d9d9d9"/>
<rect x="376.69" y="281.4" width="3.72" height="7.9" fill="#d9d9d9"/>
<rect x="381.02" y="281.4" width="3.72" height="7.9" fill="#d9d9d9"/>
<rect x="385.35" y="281.4" width="3.72" height="7.9" fill="#d9d9d9"/>
<rect x="389.68" y="281.4" width="3.72" height="7.9" fill="#d9d9d9"/>
<rect x="394.01" y="281.4" width="3.72" height="7.9" fill="#d9d9d9"/>
<rect x="398.34" y="281.4" width="3.72" height="7.9" fill="#d9d9d9"/>
<rect x="402.67" y="281.4" width="3.72" height="7.9" fill="#d9d9d9"/>
<rect x="407" y="281.4" width="3.72" height="7.9" fill="#d9d9d9"/>
<rect x="411.34" y="281.4" width="3.72" height="7.9" fill="#d9d9d9"/>
<rect x="415.67" y="281.4" width="3.72" height="7.9" fill="#d9d9d9"/>
<rect x="420" y="281.4" width="3.72" height="7.9" fill="#d9d9d9"/>
<rect x="424.33" y="281.4" width="3.72" height="7.9" fill="#d9d9d9"/>
<rect x="428.66" y="281.4" width="3.72" height="7.9" fill="#d9d9d9"/>
<rect x="432.99" y="281.4" width="3.72" height="7.9" fill="#d9d9d9"/>
<rect x="437.32" y="281.4" width="3.72" height="7.9" fill="#d9d9d9"/>
<rect x="441.65" y="281.4" width="3.72" height="7.9" fill="#d9d9d9"/>
<text x="27.64" y="47.15" font-size="7.4" fill="#222" stroke="#222" textLength="12.98" lengthAdjust="spacingAndGlyphs" style="stroke-width:0.1px">58%</text>
<text x="448.91" y="47.15" font-size="7.4" fill="#222" stroke="#222" textLength="14.17" lengthAdjust="spacingAndGlyphs" style="stroke-width:0.1px">JAK2</text>
<text x="27.64" y="56.4" font-size="7.4" fill="#222" stroke="#222" textLength="12.98" lengthAdjust="spacingAndGlyphs" style="stroke-width:0.1px">44%</text>
<text x="448.99" y="56.4" font-size="7.4" fill="#222" stroke="#222" textLength="17.59" lengthAdjust="spacingAndGlyphs" style="stroke-width:0.1px">ASXL1</text>
<text x="27.64" y="65.65" font-size="7.4" fill="#222" stroke="#222" textLength="12.98" lengthAdjust="spacingAndGlyphs" style="stroke-width:0.1px">19%</text>
<text x="448.7" y="65.65" font-size="7.4" fill="#222" stroke="#222" textLength="15.78" lengthAdjust="spacingAndGlyphs" style="stroke-width:0.1px">CALR</text>
<text x="27.64" y="74.9" font-size="7.4" fill="#222" stroke="#222" textLength="12.98" lengthAdjust="spacingAndGlyphs" style="stroke-width:0.1px">13%</text>
<text x="448.87" y="74.9" font-size="7.4" fill="#222" stroke="#222" textLength="13.91" lengthAdjust="spacingAndGlyphs" style="stroke-width:0.1px">TET2</text>
<text x="28.13" y="84.15" font-size="7.4" fill="#222" stroke="#222" textLength="12.5" lengthAdjust="spacingAndGlyphs" style="stroke-width:0.1px">11%</text>
<text x="448.48" y="84.15" font-size="7.4" fill="#222" stroke="#222" textLength="25.72" lengthAdjust="spacingAndGlyphs" style="stroke-width:0.1px">DNMT3A</text>
<text x="28.13" y="93.4" font-size="7.4" fill="#222" stroke="#222" textLength="12.5" lengthAdjust="spacingAndGlyphs" style="stroke-width:0.1px">11%</text>
<text x="448.75" y="93.4" font-size="7.4" fill="#222" stroke="#222" textLength="17.71" lengthAdjust="spacingAndGlyphs" style="stroke-width:0.1px">SRSF2</text>
<text x="31.26" y="102.65" font-size="7.4" fill="#222" stroke="#222" textLength="9.37" lengthAdjust="spacingAndGlyphs" style="stroke-width:0.1px">9%</text>
<text x="448.71" y="102.65" font-size="7.4" fill="#222" stroke="#222" textLength="11.28" lengthAdjust="spacingAndGlyphs" style="stroke-width:0.1px">CBL</text>
<text x="31.26" y="111.9" font-size="7.4" fill="#222" stroke="#222" textLength="9.37" lengthAdjust="spacingAndGlyphs" style="stroke-width:0.1px">9%</text>
<text x="448.52" y="111.9" font-size="7.4" fill="#222" stroke="#222" textLength="19.08" lengthAdjust="spacingAndGlyphs" style="stroke-width:0.1px">U2AF1</text>
<text x="31.26" y="121.15" font-size="7.4" fill="#222" stroke="#222" textLength="9.37" lengthAdjust="spacingAndGlyphs" style="stroke-width:0.1px">5%</text>
<text x="448.49" y="121.15" font-size="7.4" fill="#222" stroke="#222" textLength="15.81" lengthAdjust="spacingAndGlyphs" style="stroke-width:0.1px">EZH2</text>
<text x="31.26" y="130.4" font-size="7.4" fill="#222" stroke="#222" textLength="9.37" lengthAdjust="spacingAndGlyphs" style="stroke-width:0.1px">5%</text>
<text x="448.49" y="130.4" font-size="7.4" fill="#222" stroke="#222" textLength="15.78" lengthAdjust="spacingAndGlyphs" style="stroke-width:0.1px">PHF6</text>
<text x="31.26" y="139.65" font-size="7.4" fill="#222" stroke="#222" textLength="9.37" lengthAdjust="spacingAndGlyphs" style="stroke-width:0.1px">5%</text>
<text x="448.74" y="139.65" font-size="7.4" fill="#222" stroke="#222" textLength="17.34" lengthAdjust="spacingAndGlyphs" style="stroke-width:0.1px">SF3B1</text>
<text x="31.26" y="148.9" font-size="7.4" fill="#222" stroke="#222" textLength="9.37" lengthAdjust="spacingAndGlyphs" style="stroke-width:0.1px">4%</text>
<text x="448.4" y="148.9" font-size="7.4" fill="#222" stroke="#222" textLength="14.82" lengthAdjust="spacingAndGlyphs" style="stroke-width:0.1px">IDH2</text>
<text x="31.26" y="158.15" font-size="7.4" fill="#222" stroke="#222" textLength="9.37" lengthAdjust="spacingAndGlyphs" style="stroke-width:0.1px">4%</text>
<text x="448.87" y="158.15" font-size="7.4" fill="#222" stroke="#222" textLength="14.29" lengthAdjust="spacingAndGlyphs" style="stroke-width:0.1px">TP53</text>
<text x="31.26" y="167.4" font-size="7.4" fill="#222" stroke="#222" textLength="9.37" lengthAdjust="spacingAndGlyphs" style="stroke-width:0.1px">3%</text>
<text x="448.98" y="167.4" font-size="7.4" fill="#222" stroke="#222" textLength="13.25" lengthAdjust="spacingAndGlyphs" style="stroke-width:0.1px">ATM</text>
<text x="31.26" y="176.65" font-size="7.4" fill="#222" stroke="#222" textLength="9.37" lengthAdjust="spacingAndGlyphs" style="stroke-width:0.1px">3%</text>
<text x="448.5" y="176.65" font-size="7.4" fill="#222" stroke="#222" textLength="15.27" lengthAdjust="spacingAndGlyphs" style="stroke-width:0.1px">ETV6</text>
<text x="31.26" y="185.9" font-size="7.4" fill="#222" stroke="#222" textLength="9.37" lengthAdjust="spacingAndGlyphs" style="stroke-width:0.1px">3%</text>
<text x="448.51" y="185.9" font-size="7.4" fill="#222" stroke="#222" textLength="16.55" lengthAdjust="spacingAndGlyphs" style="stroke-width:0.1px">NRAS</text>
<text x="31.26" y="195.15" font-size="7.4" fill="#222" stroke="#222" textLength="9.37" lengthAdjust="spacingAndGlyphs" style="stroke-width:0.1px">3%</text>
<text x="448.75" y="195.15" font-size="7.4" fill="#222" stroke="#222" textLength="21.01" lengthAdjust="spacingAndGlyphs" style="stroke-width:0.1px">SETBP1</text>
<text x="31.26" y="204.4" font-size="7.4" fill="#222" stroke="#222" textLength="9.37" lengthAdjust="spacingAndGlyphs" style="stroke-width:0.1px">2%</text>
<text x="448.52" y="204.4" font-size="7.4" fill="#222" stroke="#222" textLength="16.75" lengthAdjust="spacingAndGlyphs" style="stroke-width:0.1px">BCOR</text>
<text x="31.26" y="213.65" font-size="7.4" fill="#222" stroke="#222" textLength="9.37" lengthAdjust="spacingAndGlyphs" style="stroke-width:0.1px">2%</text>
<text x="448.72" y="213.65" font-size="7.4" fill="#222" stroke="#222" textLength="18.79" lengthAdjust="spacingAndGlyphs" style="stroke-width:0.1px">CEBPA</text>
<text x="31.26" y="222.9" font-size="7.4" fill="#222" stroke="#222" textLength="9.37" lengthAdjust="spacingAndGlyphs" style="stroke-width:0.1px">2%</text>
<text x="448.72" y="222.9" font-size="7.4" fill="#222" stroke="#222" textLength="18.66" lengthAdjust="spacingAndGlyphs" style="stroke-width:0.1px">CSF3R</text>
<text x="31.26" y="232.15" font-size="7.4" fill="#222" stroke="#222" textLength="9.37" lengthAdjust="spacingAndGlyphs" style="stroke-width:0.1px">2%</text>
<text x="448.49" y="232.15" font-size="7.4" fill="#222" stroke="#222" textLength="12.72" lengthAdjust="spacingAndGlyphs" style="stroke-width:0.1px">MPL</text>
<text x="31.26" y="241.4" font-size="7.4" fill="#222" stroke="#222" textLength="9.37" lengthAdjust="spacingAndGlyphs" style="stroke-width:0.1px">2%</text>
<text x="448.49" y="241.4" font-size="7.4" fill="#222" stroke="#222" textLength="17.32" lengthAdjust="spacingAndGlyphs" style="stroke-width:0.1px">NPM1</text>
<text x="31.26" y="250.65" font-size="7.4" fill="#222" stroke="#222" textLength="9.37" lengthAdjust="spacingAndGlyphs" style="stroke-width:0.1px">2%</text>
<text x="448.51" y="250.65" font-size="7.4" fill="#222" stroke="#222" textLength="20.19" lengthAdjust="spacingAndGlyphs" style="stroke-width:0.1px">RUNX1</text>
<text x="31.26" y="259.9" font-size="7.4" fill="#222" stroke="#222" textLength="9.37" lengthAdjust="spacingAndGlyphs" style="stroke-width:0.1px">2%</text>
<text x="448.83" y="259.9" font-size="7.4" fill="#222" stroke="#222" textLength="18.95" lengthAdjust="spacingAndGlyphs" style="stroke-width:0.1px">ZRSR2</text>
<text x="31.26" y="269.15" font-size="7.4" fill="#222" stroke="#222" textLength="9.37" lengthAdjust="spacingAndGlyphs" style="stroke-width:0.1px">1%</text>
<text x="448.69" y="269.15" font-size="7.4" fill="#222" stroke="#222" textLength="19.3" lengthAdjust="spacingAndGlyphs" style="stroke-width:0.1px">GATA2</text>
<text x="31.26" y="278.4" font-size="7.4" fill="#222" stroke="#222" textLength="9.37" lengthAdjust="spacingAndGlyphs" style="stroke-width:0.1px">1%</text>
<text x="448.42" y="278.4" font-size="7.4" fill="#222" stroke="#222" textLength="14.28" lengthAdjust="spacingAndGlyphs" style="stroke-width:0.1px">IDH1</text>
<text x="31.26" y="287.65" font-size="7.4" fill="#222" stroke="#222" textLength="9.37" lengthAdjust="spacingAndGlyphs" style="stroke-width:0.1px">1%</text>
<text x="448.73" y="287.65" font-size="7.4" fill="#222" stroke="#222" textLength="19.06" lengthAdjust="spacingAndGlyphs" style="stroke-width:0.1px">STAG2</text>
<rect x="37" y="31.18" width="3.6" height="4.02" fill="#1f3f7a"/>
<rect x="37" y="19.12" width="3.6" height="12.06" fill="#62a83d"/>
<rect x="37" y="11.08" width="3.6" height="8.04" fill="#a8002c"/>
<rect x="41.61" y="31.18" width="3.6" height="4.02" fill="#1f3f7a"/>
<rect x="41.61" y="23.14" width="3.6" height="8.04" fill="#62a83d"/>
<rect x="41.61" y="19.12" width="3.6" height="4.02" fill="#a8002c"/>
<rect x="46.22" y="31.18" width="3.6" height="4.02" fill="#1f3f7a"/>
<rect x="46.22" y="23.14" width="3.6" height="8.04" fill="#62a83d"/>
<rect x="46.22" y="19.12" width="3.6" height="4.02" fill="#a8002c"/>
<rect x="50.82" y="31.18" width="3.6" height="4.02" fill="#62a83d"/>
<rect x="50.82" y="23.14" width="3.6" height="8.04" fill="#a8002c"/>
<rect x="50.82" y="19.12" width="3.6" height="4.02" fill="#ec9a1e"/>
<rect x="55.43" y="27.16" width="3.6" height="8.04" fill="#62a83d"/>
<rect x="55.43" y="23.14" width="3.6" height="4.02" fill="#a8002c"/>
<rect x="60.04" y="31.18" width="3.6" height="4.02" fill="#1f3f7a"/>
<rect x="60.04" y="23.14" width="3.6" height="8.04" fill="#62a83d"/>
<rect x="64.65" y="31.18" width="3.6" height="4.02" fill="#1f3f7a"/>
<rect x="64.65" y="27.16" width="3.6" height="4.02" fill="#b3651e"/>
<rect x="64.65" y="23.14" width="3.6" height="4.02" fill="#62a83d"/>
<rect x="64.65" y="19.12" width="3.6" height="4.02" fill="#a8002c"/>
<rect x="69.26" y="31.18" width="3.6" height="4.02" fill="#1f3f7a"/>
<rect x="69.26" y="19.12" width="3.6" height="12.06" fill="#62a83d"/>
<rect x="73.86" y="31.18" width="3.6" height="4.02" fill="#1f3f7a"/>
<rect x="73.86" y="19.12" width="3.6" height="12.06" fill="#62a83d"/>
<rect x="73.86" y="15.1" width="3.6" height="4.02" fill="#a8002c"/>
<rect x="78.47" y="27.16" width="3.6" height="8.04" fill="#62a83d"/>
<rect x="78.47" y="19.12" width="3.6" height="8.04" fill="#a8002c"/>
<rect x="83.08" y="27.16" width="3.6" height="8.04" fill="#62a83d"/>
<rect x="83.08" y="23.14" width="3.6" height="4.02" fill="#a8002c"/>
<rect x="87.69" y="31.18" width="3.6" height="4.02" fill="#1f3f7a"/>
<rect x="87.69" y="27.16" width="3.6" height="4.02" fill="#b3651e"/>
<rect x="87.69" y="23.14" width="3.6" height="4.02" fill="#62a83d"/>
<rect x="92.3" y="27.16" width="3.6" height="8.04" fill="#62a83d"/>
<rect x="92.3" y="23.14" width="3.6" height="4.02" fill="#a8002c"/>
<rect x="96.9" y="27.16" width="3.6" height="8.04" fill="#1f3f7a"/>
<rect x="96.9" y="23.14" width="3.6" height="4.02" fill="#62a83d"/>
<rect x="101.51" y="31.18" width="3.6" height="4.02" fill="#1f3f7a"/>
<rect x="101.51" y="23.14" width="3.6" height="8.04" fill="#62a83d"/>
<rect x="106.12" y="31.18" width="3.6" height="4.02" fill="#1f3f7a"/>
<rect x="106.12" y="19.12" width="3.6" height="12.06" fill="#62a83d"/>
<rect x="110.73" y="31.18" width="3.6" height="4.02" fill="#1f3f7a"/>
<rect x="110.73" y="27.16" width="3.6" height="4.02" fill="#62a83d"/>
<rect x="115.34" y="31.18" width="3.6" height="4.02" fill="#1f3f7a"/>
<rect x="115.34" y="27.16" width="3.6" height="4.02" fill="#62a83d"/>
<rect x="119.94" y="31.18" width="3.6" height="4.02" fill="#62a83d"/>
<rect x="119.94" y="27.16" width="3.6" height="4.02" fill="#a8002c"/>
<rect x="124.55" y="31.18" width="3.6" height="4.02" fill="#1f3f7a"/>
<rect x="124.55" y="27.16" width="3.6" height="4.02" fill="#62a83d"/>
<rect x="129.16" y="31.18" width="3.6" height="4.02" fill="#1f3f7a"/>
<rect x="129.16" y="27.16" width="3.6" height="4.02" fill="#62a83d"/>
<rect x="133.77" y="31.18" width="3.6" height="4.02" fill="#1f3f7a"/>
<rect x="133.77" y="27.16" width="3.6" height="4.02" fill="#b3651e"/>
<rect x="133.77" y="23.14" width="3.6" height="4.02" fill="#62a83d"/>
<rect x="138.38" y="27.16" width="3.6" height="8.04" fill="#62a83d"/>
<rect x="138.38" y="23.14" width="3.6" height="4.02" fill="#a8002c"/>
<rect x="142.98" y="27.16" width="3.6" height="8.04" fill="#62a83d"/>
<rect x="142.98" y="23.14" width="3.6" height="4.02" fill="#a8002c"/>
<rect x="147.59" y="31.18" width="3.6" height="4.02" fill="#62a83d"/>
<rect x="147.59" y="27.16" width="3.6" height="4.02" fill="#a8002c"/>
<rect x="152.2" y="31.18" width="3.6" height="4.02" fill="#1f3f7a"/>
<rect x="152.2" y="27.16" width="3.6" height="4.02" fill="#62a83d"/>
<rect x="152.2" y="23.14" width="3.6" height="4.02" fill="#a8002c"/>
<rect x="156.81" y="27.16" width="3.6" height="8.04" fill="#62a83d"/>
<rect x="161.42" y="31.18" width="3.6" height="4.02" fill="#b3651e"/>
<rect x="161.42" y="23.14" width="3.6" height="8.04" fill="#62a83d"/>
<rect x="166.02" y="31.18" width="3.6" height="4.02" fill="#1f3f7a"/>
<rect x="166.02" y="27.16" width="3.6" height="4.02" fill="#b3651e"/>
<rect x="166.02" y="23.14" width="3.6" height="4.02" fill="#62a83d"/>
<rect x="170.63" y="27.16" width="3.6" height="8.04" fill="#62a83d"/>
<rect x="175.24" y="23.14" width="3.6" height="12.06" fill="#62a83d"/>
<rect x="179.85" y="31.18" width="3.6" height="4.02" fill="#62a83d"/>
<rect x="179.85" y="27.16" width="3.6" height="4.02" fill="#a8002c"/>
<rect x="179.85" y="23.14" width="3.6" height="4.02" fill="#ec9a1e"/>
<rect x="184.46" y="31.18" width="3.6" height="4.02" fill="#62a83d"/>
<rect x="184.46" y="27.16" width="3.6" height="4.02" fill="#a8002c"/>
<rect x="189.06" y="31.18" width="3.6" height="4.02" fill="#1f3f7a"/>
<rect x="189.06" y="23.14" width="3.6" height="8.04" fill="#62a83d"/>
<rect x="193.67" y="27.16" width="3.6" height="8.04" fill="#62a83d"/>
<rect x="198.28" y="27.16" width="3.6" height="8.04" fill="#62a83d"/>
<rect x="202.89" y="31.18" width="3.6" height="4.02" fill="#1f3f7a"/>
<rect x="202.89" y="27.16" width="3.6" height="4.02" fill="#62a83d"/>
<rect x="202.89" y="23.14" width="3.6" height="4.02" fill="#a8002c"/>
<rect x="202.89" y="19.12" width="3.6" height="4.02" fill="#ec9a1e"/>
<rect x="207.5" y="27.16" width="3.6" height="8.04" fill="#62a83d"/>
<rect x="212.1" y="31.18" width="3.6" height="4.02" fill="#62a83d"/>
<rect x="216.71" y="31.18" width="3.6" height="4.02" fill="#62a83d"/>
<rect x="221.32" y="31.18" width="3.6" height="4.02" fill="#62a83d"/>
<rect x="225.93" y="31.18" width="3.6" height="4.02" fill="#62a83d"/>
<rect x="230.54" y="31.18" width="3.6" height="4.02" fill="#62a83d"/>
<rect x="235.14" y="31.18" width="3.6" height="4.02" fill="#62a83d"/>
<rect x="239.75" y="31.18" width="3.6" height="4.02" fill="#62a83d"/>
<rect x="244.36" y="31.18" width="3.6" height="4.02" fill="#62a83d"/>
<rect x="248.97" y="31.18" width="3.6" height="4.02" fill="#62a83d"/>
<rect x="253.58" y="31.18" width="3.6" height="4.02" fill="#62a83d"/>
<rect x="258.18" y="31.18" width="3.6" height="4.02" fill="#62a83d"/>
<rect x="262.79" y="31.18" width="3.6" height="4.02" fill="#62a83d"/>
<rect x="267.4" y="31.18" width="3.6" height="4.02" fill="#62a83d"/>
<rect x="272.01" y="31.18" width="3.6" height="4.02" fill="#62a83d"/>
<rect x="276.62" y="31.18" width="3.6" height="4.02" fill="#62a83d"/>
<rect x="281.22" y="31.18" width="3.6" height="4.02" fill="#62a83d"/>
<rect x="285.83" y="31.18" width="3.6" height="4.02" fill="#1f3f7a"/>
<rect x="285.83" y="27.16" width="3.6" height="4.02" fill="#62a83d"/>
<rect x="285.83" y="19.12" width="3.6" height="8.04" fill="#a8002c"/>
<rect x="290.44" y="27.16" width="3.6" height="8.04" fill="#1f3f7a"/>
<rect x="290.44" y="23.14" width="3.6" height="4.02" fill="#b3651e"/>
<rect x="290.44" y="19.12" width="3.6" height="4.02" fill="#62a83d"/>
<rect x="290.44" y="15.1" width="3.6" height="4.02" fill="#ec9a1e"/>
<rect x="295.05" y="27.16" width="3.6" height="8.04" fill="#1f3f7a"/>
<rect x="295.05" y="23.14" width="3.6" height="4.02" fill="#62a83d"/>
<rect x="299.66" y="27.16" width="3.6" height="8.04" fill="#1f3f7a"/>
<rect x="299.66" y="23.14" width="3.6" height="4.02" fill="#ec9a1e"/>
<rect x="304.26" y="23.14" width="3.6" height="12.06" fill="#1f3f7a"/>
<rect x="308.87" y="27.16" width="3.6" height="8.04" fill="#1f3f7a"/>
<rect x="308.87" y="23.14" width="3.6" height="4.02" fill="#62a83d"/>
<rect x="313.48" y="27.16" width="3.6" height="8.04" fill="#1f3f7a"/>
<rect x="318.09" y="31.18" width="3.6" height="4.02" fill="#1f3f7a"/>
<rect x="318.09" y="27.16" width="3.6" height="4.02" fill="#a8002c"/>
<rect x="322.7" y="27.16" width="3.6" height="8.04" fill="#1f3f7a"/>
<rect x="327.3" y="27.16" width="3.6" height="8.04" fill="#1f3f7a"/>
<rect x="331.91" y="27.16" width="3.6" height="8.04" fill="#1f3f7a"/>
<rect x="331.91" y="23.14" width="3.6" height="4.02" fill="#62a83d"/>
<rect x="331.91" y="19.12" width="3.6" height="4.02" fill="#a8002c"/>
<rect x="336.52" y="31.18" width="3.6" height="4.02" fill="#1f3f7a"/>
<rect x="336.52" y="27.16" width="3.6" height="4.02" fill="#62a83d"/>
<rect x="336.52" y="23.14" width="3.6" height="4.02" fill="#a8002c"/>
<rect x="341.13" y="31.18" width="3.6" height="4.02" fill="#1f3f7a"/>
<rect x="341.13" y="27.16" width="3.6" height="4.02" fill="#a8002c"/>
<rect x="345.74" y="31.18" width="3.6" height="4.02" fill="#1f3f7a"/>
<rect x="345.74" y="23.14" width="3.6" height="8.04" fill="#62a83d"/>
<rect x="345.74" y="19.12" width="3.6" height="4.02" fill="#ec9a1e"/>
<rect x="350.34" y="31.18" width="3.6" height="4.02" fill="#1f3f7a"/>
<rect x="350.34" y="23.14" width="3.6" height="8.04" fill="#62a83d"/>
<rect x="354.95" y="27.16" width="3.6" height="8.04" fill="#62a83d"/>
<rect x="354.95" y="23.14" width="3.6" height="4.02" fill="#a8002c"/>
<rect x="359.56" y="27.16" width="3.6" height="8.04" fill="#62a83d"/>
<rect x="359.56" y="23.14" width="3.6" height="4.02" fill="#a8002c"/>
<rect x="364.17" y="23.14" width="3.6" height="12.06" fill="#1f3f7a"/>
<rect x="364.17" y="19.12" width="3.6" height="4.02" fill="#62a83d"/>
<rect x="364.17" y="15.1" width="3.6" height="4.02" fill="#a8002c"/>
<rect x="368.78" y="31.18" width="3.6" height="4.02" fill="#1f3f7a"/>
<rect x="368.78" y="27.16" width="3.6" height="4.02" fill="#62a83d"/>
<rect x="373.38" y="27.16" width="3.6" height="8.04" fill="#1f3f7a"/>
<rect x="373.38" y="23.14" width="3.6" height="4.02" fill="#a8002c"/>
<rect x="377.99" y="27.16" width="3.6" height="8.04" fill="#1f3f7a"/>
<rect x="382.6" y="31.18" width="3.6" height="4.02" fill="#1f3f7a"/>
<rect x="382.6" y="27.16" width="3.6" height="4.02" fill="#62a83d"/>
<rect x="387.21" y="31.18" width="3.6" height="4.02" fill="#1f3f7a"/>
<rect x="387.21" y="27.16" width="3.6" height="4.02" fill="#62a83d"/>
<rect x="391.82" y="31.18" width="3.6" height="4.02" fill="#1f3f7a"/>
<rect x="391.82" y="27.16" width="3.6" height="4.02" fill="#b3651e"/>
<rect x="396.42" y="31.18" width="3.6" height="4.02" fill="#1f3f7a"/>
<rect x="401.03" y="31.18" width="3.6" height="4.02" fill="#1f3f7a"/>
<rect x="405.64" y="31.18" width="3.6" height="4.02" fill="#1f3f7a"/>
<rect x="410.25" y="27.16" width="3.6" height="8.04" fill="#1f3f7a"/>
<rect x="410.25" y="23.14" width="3.6" height="4.02" fill="#62a83d"/>
<rect x="410.25" y="15.1" width="3.6" height="8.04" fill="#a8002c"/>
<rect x="414.86" y="27.16" width="3.6" height="8.04" fill="#62a83d"/>
<rect x="414.86" y="23.14" width="3.6" height="4.02" fill="#a8002c"/>
<rect x="419.46" y="31.18" width="3.6" height="4.02" fill="#1f3f7a"/>
<rect x="419.46" y="23.14" width="3.6" height="8.04" fill="#62a83d"/>
<rect x="424.07" y="31.18" width="3.6" height="4.02" fill="#62a83d"/>
<rect x="428.68" y="31.18" width="3.6" height="4.02" fill="#62a83d"/>
<rect x="433.29" y="31.18" width="3.6" height="4.02" fill="#1f3f7a"/>
<rect x="433.29" y="23.14" width="3.6" height="8.04" fill="#62a83d"/>
<rect x="437.9" y="31.18" width="3.6" height="4.02" fill="#1f3f7a"/>
<line x1="36.6" y1="8.2" x2="36.6" y2="37.6" stroke="#000" stroke-width="1"/>
<line x1="33.1" y1="35.5" x2="36.6" y2="35.5" stroke="#000" stroke-width="0.9"/>
<line x1="33.1" y1="31.47" x2="36.6" y2="31.47" stroke="#000" stroke-width="0.9"/>
<line x1="33.1" y1="27.44" x2="36.6" y2="27.44" stroke="#000" stroke-width="0.9"/>
<line x1="33.1" y1="23.41" x2="36.6" y2="23.41" stroke="#000" stroke-width="0.9"/>
<line x1="33.1" y1="19.38" x2="36.6" y2="19.38" stroke="#000" stroke-width="0.9"/>
<line x1="33.1" y1="15.35" x2="36.6" y2="15.35" stroke="#000" stroke-width="0.9"/>
<line x1="33.1" y1="11.32" x2="36.6" y2="11.32" stroke="#000" stroke-width="0.9"/>
<text x="30.7" y="33.7" font-size="4.6" fill="#555" stroke="#555" style="stroke-width:0.05px" text-anchor="middle" transform="rotate(-90 30.7 33.7)">0</text>
<text x="30.7" y="29.3" font-size="4.6" fill="#555" stroke="#555" style="stroke-width:0.05px" text-anchor="middle" transform="rotate(-90 30.7 29.3)">1</text>
<text x="30.7" y="25.5" font-size="4.6" fill="#555" stroke="#555" style="stroke-width:0.05px" text-anchor="middle" transform="rotate(-90 30.7 25.5)">2</text>
<text x="30.7" y="21.8" font-size="4.6" fill="#555" stroke="#555" style="stroke-width:0.05px" text-anchor="middle" transform="rotate(-90 30.7 21.8)">3</text>
<text x="30.7" y="17.6" font-size="4.6" fill="#555" stroke="#555" style="stroke-width:0.05px" text-anchor="middle" transform="rotate(-90 30.7 17.6)">4</text>
<text x="30.7" y="13.4" font-size="4.6" fill="#555" stroke="#555" style="stroke-width:0.05px" text-anchor="middle" transform="rotate(-90 30.7 13.4)">5</text>
<rect x="482.9" y="41.4" width="24.35" height="7.0" fill="#62a83d"/>
<rect x="482.9" y="50.65" width="13.08" height="7.0" fill="#1f3f7a"/>
<rect x="495.98" y="50.65" width="5.41" height="7.0" fill="#a8002c"/>
<rect x="482.9" y="59.9" width="8.12" height="7.0" fill="#1f3f7a"/>
<rect x="482.9" y="69.15" width="0.9" height="7.0" fill="#1f3f7a"/>
<rect x="483.8" y="69.15" width="4.51" height="7.0" fill="#a8002c"/>
<rect x="482.9" y="78.4" width="3.16" height="7.0" fill="#62a83d"/>
<rect x="486.06" y="78.4" width="0.9" height="7.0" fill="#a8002c"/>
<rect x="486.96" y="78.4" width="0.45" height="7.0" fill="#ec9a1e"/>
<rect x="482.9" y="87.65" width="1.35" height="7.0" fill="#b3651e"/>
<rect x="484.25" y="87.65" width="3.16" height="7.0" fill="#62a83d"/>
<rect x="482.9" y="96.9" width="3.16" height="7.0" fill="#62a83d"/>
<rect x="486.06" y="96.9" width="0.45" height="7.0" fill="#4e1a5c"/>
<rect x="482.9" y="106.15" width="0.45" height="7.0" fill="#b3651e"/>
<rect x="483.35" y="106.15" width="3.16" height="7.0" fill="#62a83d"/>
<rect x="482.9" y="115.4" width="0.9" height="7.0" fill="#1f3f7a"/>
<rect x="483.8" y="115.4" width="0.45" height="7.0" fill="#62a83d"/>
<rect x="484.25" y="115.4" width="0.9" height="7.0" fill="#a8002c"/>
<rect x="482.9" y="124.65" width="1.35" height="7.0" fill="#a8002c"/>
<rect x="484.25" y="124.65" width="0.9" height="7.0" fill="#ec9a1e"/>
<rect x="482.9" y="133.9" width="2.25" height="7.0" fill="#62a83d"/>
<rect x="482.9" y="143.15" width="1.8" height="7.0" fill="#62a83d"/>
<rect x="482.9" y="152.4" width="0.9" height="7.0" fill="#1f3f7a"/>
<rect x="483.8" y="152.4" width="0.9" height="7.0" fill="#62a83d"/>
<rect x="482.9" y="161.65" width="0.45" height="7.0" fill="#1f3f7a"/>
<rect x="483.35" y="161.65" width="0.45" height="7.0" fill="#62a83d"/>
<rect x="483.8" y="161.65" width="0.45" height="7.0" fill="#a8002c"/>
<rect x="482.9" y="170.9" width="0.9" height="7.0" fill="#1f3f7a"/>
<rect x="483.8" y="170.9" width="0.45" height="7.0" fill="#62a83d"/>
<rect x="482.9" y="180.15" width="1.35" height="7.0" fill="#62a83d"/>
<rect x="482.9" y="189.4" width="1.35" height="7.0" fill="#62a83d"/>
<rect x="482.9" y="198.65" width="0.45" height="7.0" fill="#b3651e"/>
<rect x="483.35" y="198.65" width="0.45" height="7.0" fill="#ec9a1e"/>
<rect x="482.9" y="207.9" width="0.45" height="7.0" fill="#1f3f7a"/>
<rect x="483.35" y="207.9" width="0.45" height="7.0" fill="#a8002c"/>
<rect x="482.9" y="217.15" width="0.45" height="7.0" fill="#62a83d"/>
<rect x="483.35" y="217.15" width="0.45" height="7.0" fill="#a8002c"/>
<rect x="482.9" y="226.4" width="0.9" height="7.0" fill="#62a83d"/>
<rect x="482.9" y="235.65" width="0.9" height="7.0" fill="#1f3f7a"/>
<rect x="482.9" y="244.9" width="0.45" height="7.0" fill="#1f3f7a"/>
<rect x="483.35" y="244.9" width="0.45" height="7.0" fill="#62a83d"/>
<rect x="482.9" y="254.15" width="0.45" height="7.0" fill="#b3651e"/>
<rect x="483.35" y="254.15" width="0.45" height="7.0" fill="#4e1a5c"/>
<rect x="482.9" y="263.4" width="0.45" height="7.0" fill="#1f3f7a"/>
<rect x="482.9" y="272.65" width="0.45" height="7.0" fill="#62a83d"/>
<rect x="482.9" y="281.9" width="0.45" height="7.0" fill="#a8002c"/>
<line x1="479.7" y1="38" x2="510.8" y2="38" stroke="#000" stroke-width="1.3"/>
<line x1="482.9" y1="34.8" x2="482.9" y2="38" stroke="#000" stroke-width="0.8"/>
<text x="482.9" y="32.2" font-size="3.6" fill="#555" stroke="#555" text-anchor="middle">0</text>
<line x1="487.7" y1="34.8" x2="487.7" y2="38" stroke="#000" stroke-width="0.8"/>
<text x="487.7" y="32.2" font-size="3.6" fill="#555" stroke="#555" text-anchor="middle">10</text>
<line x1="492.5" y1="34.8" x2="492.5" y2="38" stroke="#000" stroke-width="0.8"/>
<text x="492.5" y="32.2" font-size="3.6" fill="#555" stroke="#555" text-anchor="middle">20</text>
<line x1="497.4" y1="34.8" x2="497.4" y2="38" stroke="#000" stroke-width="0.8"/>
<text x="497.4" y="32.2" font-size="3.6" fill="#555" stroke="#555" text-anchor="middle">30</text>
<line x1="502.5" y1="34.8" x2="502.5" y2="38" stroke="#000" stroke-width="0.8"/>
<text x="502.5" y="32.2" font-size="3.6" fill="#555" stroke="#555" text-anchor="middle">40</text>
<line x1="507.5" y1="34.8" x2="507.5" y2="38" stroke="#000" stroke-width="0.8"/>
<text x="507.5" y="32.2" font-size="3.6" fill="#555" stroke="#555" text-anchor="middle">50</text>
<rect x="43.5" y="299.2" width="6" height="5.8" fill="#62a83d"/>
<text x="52.55" y="304.3" font-size="5.7" fill="#2e2e2e" stroke="#2e2e2e" textLength="46.48" lengthAdjust="spacingAndGlyphs" style="stroke-width:0.06px">Missense_Mutation</text>
<rect x="127.7" y="299.2" width="6" height="5.8" fill="#a8002c"/>
<text x="136.05" y="304.3" font-size="5.7" fill="#2e2e2e" stroke="#2e2e2e" textLength="48.91" lengthAdjust="spacingAndGlyphs" style="stroke-width:0.06px">Nonsense_Mutation</text>
<rect x="213" y="299.2" width="6" height="5.8" fill="#1f3f7a"/>
<text x="221.56" y="304.3" font-size="5.7" fill="#2e2e2e" stroke="#2e2e2e" textLength="29.29" lengthAdjust="spacingAndGlyphs" style="stroke-width:0.06px">Frame_Shift</text>
<rect x="279.6" y="299.2" width="6" height="5.8" fill="#b3651e"/>
<text x="288" y="304.3" font-size="5.7" fill="#2e2e2e" stroke="#2e2e2e" textLength="34.36" lengthAdjust="spacingAndGlyphs" style="stroke-width:0.06px">In_Frame_Del</text>
<rect x="350" y="299.2" width="6" height="5.8" fill="#ec9a1e"/>
<text x="358.77" y="304.3" font-size="5.7" fill="#2e2e2e" stroke="#2e2e2e" textLength="26.06" lengthAdjust="spacingAndGlyphs" style="stroke-width:0.06px">Splice_Site</text>
<rect x="415.4" y="299.2" width="6" height="5.8" fill="#4e1a5c"/>
<text x="423.32" y="304.3" font-size="5.7" fill="#2e2e2e" stroke="#2e2e2e" textLength="22.72" lengthAdjust="spacingAndGlyphs" style="stroke-width:0.06px">Multi_Hit</text>
<text x="6.94" y="332.5" font-size="12.4" fill="#111" stroke="#111" textLength="7.77" lengthAdjust="spacingAndGlyphs" style="stroke-width:0">B</text>
<circle cx="89.2" cy="407" r="66.6" fill="#2c4a7e"/>
<path d="M89.2 407 L57.12 465.36 A66.6 66.6 0 0 1 23.13 398.65 Z" fill="#a5002f"/>
<path d="M89.2 407 L23.13 398.65 A66.6 66.6 0 0 1 24.69 390.44 Z" fill="#69ad47"/>
<path d="M89.2 407 L24.69 390.44 A66.6 66.6 0 0 1 89.2 340.4 Z" fill="#4f2160"/>
<text x="118.11" y="422.8" font-size="8.2" fill="#fff" stroke="#fff" textLength="14.75" lengthAdjust="spacingAndGlyphs">58%</text>
<text x="45.92" y="429.1" font-size="8.2" fill="#fff" stroke="#fff" textLength="15.44" lengthAdjust="spacingAndGlyphs">19%</text>
<text x="34.28" y="400.6" font-size="8.2" fill="#fff" stroke="#fff" textLength="10.73" lengthAdjust="spacingAndGlyphs">2%</text>
<text x="53.91" y="376.3" font-size="8.2" fill="#fff" stroke="#fff" textLength="15.45" lengthAdjust="spacingAndGlyphs">21%</text>
<rect x="44.3" y="480" width="7.7" height="7.7" fill="#2c4a7e"/>
<text x="55.3" y="486.8" font-size="8.6" fill="#231f20" stroke="#231f20" textLength="16.1" lengthAdjust="spacingAndGlyphs">JAK2</text>
<rect x="105.3" y="480" width="7.7" height="7.7" fill="#69ad47"/>
<text x="116.3" y="486.8" font-size="8.6" fill="#231f20" stroke="#231f20" textLength="14.8" lengthAdjust="spacingAndGlyphs">MPL</text>
<rect x="44.3" y="493.2" width="7.7" height="7.7" fill="#4f2160"/>
<text x="55.3" y="500" font-size="8.6" fill="#231f20" stroke="#231f20" textLength="33.5" lengthAdjust="spacingAndGlyphs">Triple Neg</text>
<rect x="105.3" y="493.2" width="7.7" height="7.7" fill="#a5002f"/>
<text x="116.3" y="500" font-size="8.6" fill="#231f20" stroke="#231f20" textLength="18" lengthAdjust="spacingAndGlyphs">CALR</text>
<text x="233.8" y="331.1" font-size="8.8" fill="#111" stroke="#111" textLength="84.6" lengthAdjust="spacingAndGlyphs">Variant Classfication</text>
<line x1="226.9" y1="336.5" x2="226.9" y2="501.2" stroke="#111" stroke-width="1.1"/>
<line x1="226.4" y1="500.9" x2="325.4" y2="500.9" stroke="#111" stroke-width="1.1"/>
<rect x="231.2" y="340" width="89.65" height="20.6" fill="#67a842"/>
<line x1="223.8" y1="350.3" x2="226.9" y2="350.3" stroke="#111" stroke-width="1"/>
<text x="156.37" y="351.3" font-size="9" fill="#1a1a1a" stroke="#1a1a1a" textLength="64.53" lengthAdjust="spacingAndGlyphs" transform="rotate(-45 220.4 351.3)">Missense Mutation</text>
<rect x="231.2" y="362.8" width="29.48" height="20.6" fill="#a8002c"/>
<line x1="223.8" y1="373.1" x2="226.9" y2="373.1" stroke="#111" stroke-width="1"/>
<text x="154.2" y="374.1" font-size="9" fill="#1a1a1a" stroke="#1a1a1a" textLength="66.69" lengthAdjust="spacingAndGlyphs" transform="rotate(-45 220.4 374.1)">Nonsense Mutation</text>
<rect x="231.2" y="385.6" width="29.48" height="20.6" fill="#2c4a7e"/>
<line x1="223.8" y1="395.9" x2="226.9" y2="395.9" stroke="#111" stroke-width="1"/>
<text x="167.15" y="396.9" font-size="9" fill="#1a1a1a" stroke="#1a1a1a" textLength="53.77" lengthAdjust="spacingAndGlyphs" transform="rotate(-45 220.4 396.9)">Frame Shift Del</text>
<rect x="231.2" y="408.4" width="26.38" height="20.6" fill="#4f2160"/>
<line x1="223.8" y1="418.7" x2="226.9" y2="418.7" stroke="#111" stroke-width="1"/>
<text x="168.19" y="419.7" font-size="9" fill="#1a1a1a" stroke="#1a1a1a" textLength="52.48" lengthAdjust="spacingAndGlyphs" transform="rotate(-45 220.4 419.7)">Frame Shift Ins</text>
<rect x="231.2" y="431.2" width="5.17" height="20.6" fill="#e99a1c"/>
<line x1="223.8" y1="441.5" x2="226.9" y2="441.5" stroke="#111" stroke-width="1"/>
<text x="184.18" y="442.5" font-size="9" fill="#1a1a1a" stroke="#1a1a1a" textLength="36.57" lengthAdjust="spacingAndGlyphs" transform="rotate(-45 220.4 442.5)">Splice Site</text>
<rect x="231.2" y="454" width="5.17" height="20.6" fill="#a8672a"/>
<line x1="223.8" y1="464.3" x2="226.9" y2="464.3" stroke="#111" stroke-width="1"/>
<text x="176.19" y="465.3" font-size="9" fill="#1a1a1a" stroke="#1a1a1a" textLength="44.73" lengthAdjust="spacingAndGlyphs" transform="rotate(-45 220.4 465.3)">In Frame Del</text>
<rect x="231.2" y="476.8" width="1.38" height="20.6" fill="#d236a6"/>
<line x1="223.8" y1="487.1" x2="226.9" y2="487.1" stroke="#111" stroke-width="1"/>
<text x="177.23" y="488.1" font-size="9" fill="#1a1a1a" stroke="#1a1a1a" textLength="43.44" lengthAdjust="spacingAndGlyphs" transform="rotate(-45 220.4 488.1)">In Frame Ins</text>
<line x1="231.6" y1="500.9" x2="231.6" y2="503.6" stroke="#111" stroke-width="1"/>
<text x="229.53" y="514.9" font-size="8.4" fill="#231f20" stroke="#231f20" textLength="4.16" lengthAdjust="spacingAndGlyphs">0</text>
<line x1="252.8" y1="500.9" x2="252.8" y2="503.6" stroke="#111" stroke-width="1"/>
<text x="248.61" y="514.9" font-size="8.4" fill="#231f20" stroke="#231f20" textLength="8.32" lengthAdjust="spacingAndGlyphs">25</text>
<line x1="274.6" y1="500.9" x2="274.6" y2="503.6" stroke="#111" stroke-width="1"/>
<text x="270.44" y="514.9" font-size="8.4" fill="#231f20" stroke="#231f20" textLength="8.32" lengthAdjust="spacingAndGlyphs">50</text>
<line x1="295.7" y1="500.9" x2="295.7" y2="503.6" stroke="#111" stroke-width="1"/>
<text x="291.5" y="514.9" font-size="8.4" fill="#231f20" stroke="#231f20" textLength="8.32" lengthAdjust="spacingAndGlyphs">70</text>
<line x1="317.3" y1="500.9" x2="317.3" y2="503.6" stroke="#111" stroke-width="1"/>
<text x="310.93" y="514.9" font-size="8.4" fill="#231f20" stroke="#231f20" textLength="12.47" lengthAdjust="spacingAndGlyphs">100</text>
<text x="377.8" y="331.1" font-size="8.8" fill="#111" stroke="#111" textLength="113.2" lengthAdjust="spacingAndGlyphs">Frequently Mutated Genes</text>
<line x1="371.4" y1="336.5" x2="371.4" y2="501.2" stroke="#111" stroke-width="1.1"/>
<line x1="370.9" y1="500.9" x2="497.8" y2="500.9" stroke="#111" stroke-width="1.1"/>
<rect x="376.9" y="341.2" width="114.4" height="13.5" fill="#67a842"/>
<line x1="368.2" y1="347.95" x2="371.4" y2="347.95" stroke="#111" stroke-width="1"/>
<text x="348.42" y="348.95" font-size="9" fill="#1a1a1a" stroke="#1a1a1a" textLength="17.53" lengthAdjust="spacingAndGlyphs" transform="rotate(-45 365.6 348.95)">JAK2</text>
<rect x="376.9" y="357.05" width="26.4" height="13.5" fill="#a8002c"/>
<rect x="403.3" y="357.05" width="2.2" height="13.5" fill="#e99a1c"/>
<rect x="405.5" y="357.05" width="41.8" height="13.5" fill="#4f2160"/>
<rect x="447.3" y="357.05" width="24.2" height="13.5" fill="#2c4a7e"/>
<line x1="368.2" y1="363.8" x2="371.4" y2="363.8" stroke="#111" stroke-width="1"/>
<text x="343.12" y="364.8" font-size="9" fill="#1a1a1a" stroke="#1a1a1a" textLength="22.84" lengthAdjust="spacingAndGlyphs" transform="rotate(-45 365.6 364.8)">ASXL1</text>
<rect x="376.9" y="372.9" width="6.6" height="13.5" fill="#4f2160"/>
<rect x="383.5" y="372.9" width="33" height="13.5" fill="#2c4a7e"/>
<line x1="368.2" y1="379.65" x2="371.4" y2="379.65" stroke="#111" stroke-width="1"/>
<text x="346.38" y="380.65" font-size="9" fill="#1a1a1a" stroke="#1a1a1a" textLength="19.57" lengthAdjust="spacingAndGlyphs" transform="rotate(-45 365.6 380.65)">CALR</text>
<rect x="376.9" y="388.75" width="22" height="13.5" fill="#a8002c"/>
<rect x="398.9" y="388.75" width="6.6" height="13.5" fill="#4f2160"/>
<rect x="405.5" y="388.75" width="2.2" height="13.5" fill="#2c4a7e"/>
<line x1="368.2" y1="395.5" x2="371.4" y2="395.5" stroke="#111" stroke-width="1"/>
<text x="348.03" y="396.5" font-size="9" fill="#1a1a1a" stroke="#1a1a1a" textLength="17.93" lengthAdjust="spacingAndGlyphs" transform="rotate(-45 365.6 396.5)">TET2</text>
<rect x="376.9" y="404.6" width="1.54" height="13.5" fill="#e99a1c"/>
<rect x="378.44" y="404.6" width="4.62" height="13.5" fill="#a8002c"/>
<rect x="383.06" y="404.6" width="15.84" height="13.5" fill="#67a842"/>
<line x1="368.2" y1="411.35" x2="371.4" y2="411.35" stroke="#111" stroke-width="1"/>
<text x="335.45" y="412.35" font-size="9" fill="#1a1a1a" stroke="#1a1a1a" textLength="30.16" lengthAdjust="spacingAndGlyphs" transform="rotate(-45 365.6 412.35)">DNMT3A</text>
<rect x="376.9" y="420.45" width="15.4" height="13.5" fill="#67a842"/>
<rect x="392.3" y="420.45" width="6.16" height="13.5" fill="#a8672a"/>
<line x1="368.2" y1="427.2" x2="371.4" y2="427.2" stroke="#111" stroke-width="1"/>
<text x="342.31" y="428.2" font-size="9" fill="#1a1a1a" stroke="#1a1a1a" textLength="23.64" lengthAdjust="spacingAndGlyphs" transform="rotate(-45 365.6 428.2)">SRSF2</text>
<rect x="376.9" y="436.3" width="15.4" height="13.5" fill="#67a842"/>
<rect x="392.3" y="436.3" width="2.2" height="13.5" fill="#a8672a"/>
<line x1="368.2" y1="443.05" x2="371.4" y2="443.05" stroke="#111" stroke-width="1"/>
<text x="343.14" y="444.05" font-size="9" fill="#1a1a1a" stroke="#1a1a1a" textLength="22.83" lengthAdjust="spacingAndGlyphs" transform="rotate(-45 365.6 444.05)">U2AF1</text>
<rect x="376.9" y="452.15" width="1.54" height="13.5" fill="#e99a1c"/>
<rect x="378.44" y="452.15" width="16.06" height="13.5" fill="#67a842"/>
<line x1="368.2" y1="458.9" x2="371.4" y2="458.9" stroke="#111" stroke-width="1"/>
<text x="351.57" y="459.9" font-size="9" fill="#1a1a1a" stroke="#1a1a1a" textLength="14.27" lengthAdjust="spacingAndGlyphs" transform="rotate(-45 365.6 459.9)">CBL</text>
<rect x="376.9" y="468" width="4.18" height="13.5" fill="#a8002c"/>
<rect x="381.08" y="468" width="1.54" height="13.5" fill="#67a842"/>
<rect x="382.62" y="468" width="5.28" height="13.5" fill="#2c4a7e"/>
<line x1="368.2" y1="474.75" x2="371.4" y2="474.75" stroke="#111" stroke-width="1"/>
<text x="347.21" y="475.75" font-size="9" fill="#1a1a1a" stroke="#1a1a1a" textLength="18.75" lengthAdjust="spacingAndGlyphs" transform="rotate(-45 365.6 475.75)">EZH2</text>
<rect x="376.9" y="483.85" width="4.62" height="13.5" fill="#e99a1c"/>
<rect x="381.52" y="483.85" width="6.16" height="13.5" fill="#a8002c"/>
<line x1="368.2" y1="490.6" x2="371.4" y2="490.6" stroke="#111" stroke-width="1"/>
<text x="347.17" y="491.6" font-size="9" fill="#1a1a1a" stroke="#1a1a1a" textLength="18.75" lengthAdjust="spacingAndGlyphs" transform="rotate(-45 365.6 491.6)">PHF6</text>
<line x1="376.9" y1="500.9" x2="376.9" y2="503.6" stroke="#111" stroke-width="1"/>
<text x="374.83" y="514.9" font-size="8.4" fill="#231f20" stroke="#231f20" textLength="4.16" lengthAdjust="spacingAndGlyphs">0</text>
<line x1="399.1" y1="500.9" x2="399.1" y2="503.6" stroke="#111" stroke-width="1"/>
<text x="394.81" y="514.9" font-size="8.4" fill="#231f20" stroke="#231f20" textLength="8.32" lengthAdjust="spacingAndGlyphs">10</text>
<line x1="420.9" y1="500.9" x2="420.9" y2="503.6" stroke="#111" stroke-width="1"/>
<text x="416.7" y="514.9" font-size="8.4" fill="#231f20" stroke="#231f20" textLength="8.32" lengthAdjust="spacingAndGlyphs">20</text>
<line x1="443.1" y1="500.9" x2="443.1" y2="503.6" stroke="#111" stroke-width="1"/>
<text x="438.95" y="514.9" font-size="8.4" fill="#231f20" stroke="#231f20" textLength="8.32" lengthAdjust="spacingAndGlyphs">30</text>
<line x1="465.2" y1="500.9" x2="465.2" y2="503.6" stroke="#111" stroke-width="1"/>
<text x="461.11" y="514.9" font-size="8.4" fill="#231f20" stroke="#231f20" textLength="8.32" lengthAdjust="spacingAndGlyphs">40</text>
<line x1="487.1" y1="500.9" x2="487.1" y2="503.6" stroke="#111" stroke-width="1"/>
<text x="482.94" y="514.9" font-size="8.4" fill="#231f20" stroke="#231f20" textLength="8.32" lengthAdjust="spacingAndGlyphs">50</text>
<text x="7.29" y="546.4" font-size="12.4" fill="#111" stroke="#111" textLength="7.39" lengthAdjust="spacingAndGlyphs" style="stroke-width:0">C</text>
<line x1="52.2" y1="545" x2="52.2" y2="607.4" stroke="#111" stroke-width="1.1"/>
<line x1="49.3" y1="547.5" x2="52.2" y2="547.5" stroke="#111" stroke-width="1"/>
<line x1="49.3" y1="558.9" x2="52.2" y2="558.9" stroke="#111" stroke-width="1"/>
<line x1="49.3" y1="570.3" x2="52.2" y2="570.3" stroke="#111" stroke-width="1"/>
<line x1="49.3" y1="581.7" x2="52.2" y2="581.7" stroke="#111" stroke-width="1"/>
<line x1="49.3" y1="593.1" x2="52.2" y2="593.1" stroke="#111" stroke-width="1"/>
<line x1="49.3" y1="604.5" x2="52.2" y2="604.5" stroke="#111" stroke-width="1"/>
<text x="37.21" y="550.1" font-size="8.8" fill="#231f20" stroke="#231f20" textLength="8.81" lengthAdjust="spacingAndGlyphs">10</text>
<text x="40.63" y="606.9" font-size="8.8" fill="#231f20" stroke="#231f20" textLength="5.45" lengthAdjust="spacingAndGlyphs">0</text>
<g transform="translate(30.1 601.3) rotate(-90)">
<text x="-0.05" y="0" font-size="9.4" fill="#1a1a1a" stroke="#1a1a1a" textLength="50.39" lengthAdjust="spacingAndGlyphs"># mutations</text>
</g>
<rect x="55" y="611" width="422" height="8.2" fill="#c1c1c1"/>
<rect x="58" y="607.5" width="20" height="15" fill="#62a83d"/>
<rect x="120" y="607.5" width="34.2" height="14.8" fill="#a8002c"/>
<text x="127.08" y="617.6" font-size="7.9" fill="#fff" stroke="#fff" textLength="20.11" lengthAdjust="spacingAndGlyphs">ASXH</text>
<rect x="458.8" y="607.3" width="18" height="15" fill="#2c4a7e"/>
<line x1="52.5" y1="625.6" x2="480.3" y2="625.6" stroke="#111" stroke-width="1.1"/>
<line x1="55" y1="625.6" x2="55" y2="628.6" stroke="#111" stroke-width="1"/>
<line x1="109.83" y1="625.6" x2="109.83" y2="628.6" stroke="#111" stroke-width="1"/>
<line x1="164.67" y1="625.6" x2="164.67" y2="628.6" stroke="#111" stroke-width="1"/>
<line x1="219.5" y1="625.6" x2="219.5" y2="628.6" stroke="#111" stroke-width="1"/>
<line x1="274.34" y1="625.6" x2="274.34" y2="628.6" stroke="#111" stroke-width="1"/>
<line x1="329.17" y1="625.6" x2="329.17" y2="628.6" stroke="#111" stroke-width="1"/>
<line x1="384" y1="625.6" x2="384" y2="628.6" stroke="#111" stroke-width="1"/>
<line x1="438.84" y1="625.6" x2="438.84" y2="628.6" stroke="#111" stroke-width="1"/>
<line x1="477.3" y1="625.6" x2="477.3" y2="628.6" stroke="#111" stroke-width="1"/>
<text x="55" y="639.2" font-size="7.6" fill="#231f20" stroke="#231f20" text-anchor="middle">0</text>
<text x="164.7" y="639.2" font-size="7.6" fill="#231f20" stroke="#231f20" text-anchor="middle">400</text>
<text x="274.3" y="639.2" font-size="7.6" fill="#231f20" stroke="#231f20" text-anchor="middle">800</text>
<text x="384.2" y="639.2" font-size="7.6" fill="#231f20" stroke="#231f20" text-anchor="middle">1200</text>
<text x="464.6" y="639.2" font-size="7.6" fill="#231f20" stroke="#231f20" textLength="26.6" lengthAdjust="spacingAndGlyphs">1541 aa</text>
<line x1="158.9" y1="611" x2="158.9" y2="598.8" stroke="#b5b5b5" stroke-width="0.9"/>
<line x1="169.4" y1="611" x2="169.4" y2="593.1" stroke="#b5b5b5" stroke-width="0.9"/>
<line x1="171.8" y1="611" x2="171.8" y2="598.8" stroke="#b5b5b5" stroke-width="0.9"/>
<line x1="197.7" y1="611" x2="197.7" y2="598.8" stroke="#b5b5b5" stroke-width="0.9"/>
<line x1="200.2" y1="611" x2="200.2" y2="598.8" stroke="#b5b5b5" stroke-width="0.9"/>
<line x1="217.1" y1="611" x2="217.1" y2="593.1" stroke="#b5b5b5" stroke-width="0.9"/>
<line x1="217.8" y1="611" x2="217.8" y2="598.8" stroke="#b5b5b5" stroke-width="0.9"/>
<line x1="224.9" y1="611" x2="224.9" y2="598.8" stroke="#b5b5b5" stroke-width="0.9"/>
<line x1="229.2" y1="611" x2="229.2" y2="587.4" stroke="#b5b5b5" stroke-width="0.9"/>
<line x1="231.4" y1="611" x2="231.4" y2="593.1" stroke="#b5b5b5" stroke-width="0.9"/>
<line x1="232.3" y1="611" x2="232.3" y2="547.5" stroke="#b5b5b5" stroke-width="0.9"/>
<line x1="245.1" y1="611" x2="245.1" y2="587.4" stroke="#b5b5b5" stroke-width="0.9"/>
<line x1="248.2" y1="611" x2="248.2" y2="598.8" stroke="#b5b5b5" stroke-width="0.9"/>
<line x1="251.2" y1="611" x2="251.2" y2="598.8" stroke="#b5b5b5" stroke-width="0.9"/>
<line x1="257.4" y1="611" x2="257.4" y2="598.8" stroke="#b5b5b5" stroke-width="0.9"/>
<line x1="268.9" y1="611" x2="268.9" y2="598.8" stroke="#b5b5b5" stroke-width="0.9"/>
<line x1="276.2" y1="611" x2="276.2" y2="598.8" stroke="#b5b5b5" stroke-width="0.9"/>
<line x1="280.5" y1="611" x2="280.5" y2="598.8" stroke="#b5b5b5" stroke-width="0.9"/>
<line x1="294.6" y1="611" x2="294.6" y2="598.8" stroke="#b5b5b5" stroke-width="0.9"/>
<line x1="308.75" y1="611" x2="308.75" y2="598.8" stroke="#b5b5b5" stroke-width="0.9"/>
<line x1="321.25" y1="611" x2="321.25" y2="598.8" stroke="#b5b5b5" stroke-width="0.9"/>
<line x1="327" y1="611" x2="327" y2="598.8" stroke="#b5b5b5" stroke-width="0.9"/>
<line x1="332.5" y1="611" x2="332.5" y2="598.8" stroke="#b5b5b5" stroke-width="0.9"/>
<line x1="346.5" y1="611" x2="346.5" y2="598.8" stroke="#b5b5b5" stroke-width="0.9"/>
<line x1="396" y1="611" x2="396" y2="598.8" stroke="#b5b5b5" stroke-width="0.9"/>
<circle cx="158.9" cy="598.8" r="1.9" fill="#4a1658"/>
<circle cx="169.4" cy="593.1" r="1.9" fill="#4a1658"/>
<circle cx="171.8" cy="598.8" r="1.9" fill="#4a1658"/>
<circle cx="197.7" cy="598.8" r="1.9" fill="#4a1658"/>
<circle cx="200.2" cy="598.8" r="1.9" fill="#4a1658"/>
<circle cx="217.1" cy="593.1" r="1.9" fill="#4a1658"/>
<circle cx="217.8" cy="598.8" r="1.9" fill="#4a1658"/>
<circle cx="224.9" cy="598.8" r="1.9" fill="#4a1658"/>
<circle cx="229.2" cy="587.4" r="1.9" fill="#4a1658"/>
<circle cx="231.4" cy="593.1" r="1.9" fill="#4a1658"/>
<circle cx="232.3" cy="547.5" r="1.9" fill="#4a1658"/>
<circle cx="245.1" cy="587.4" r="1.9" fill="#4a1658"/>
<circle cx="248.2" cy="598.8" r="1.9" fill="#4a1658"/>
<circle cx="251.2" cy="598.8" r="1.9" fill="#4a1658"/>
<circle cx="257.4" cy="598.8" r="1.9" fill="#4a1658"/>
<circle cx="268.9" cy="598.8" r="1.9" fill="#4a1658"/>
<circle cx="276.2" cy="598.8" r="1.9" fill="#4a1658"/>
<circle cx="280.5" cy="598.8" r="1.9" fill="#4a1658"/>
<circle cx="294.6" cy="598.8" r="1.9" fill="#4a1658"/>
<circle cx="308.75" cy="598.8" r="1.9" fill="#4a1658"/>
<circle cx="321.25" cy="598.8" r="1.9" fill="#4a1658"/>
<circle cx="327" cy="598.8" r="1.9" fill="#4a1658"/>
<circle cx="332.5" cy="598.8" r="1.9" fill="#4a1658"/>
<circle cx="346.5" cy="598.8" r="1.9" fill="#4a1658"/>
<circle cx="396" cy="598.8" r="1.9" fill="#4a1658"/>
<text x="232.3" y="543" font-size="8.2" fill="#231f20" stroke="#231f20" text-anchor="middle" textLength="43" lengthAdjust="spacingAndGlyphs">p.G646fs*12</text>
<rect x="0.5" y="0.5" width="519" height="648" fill="none" stroke="#000" stroke-width="1.6"/>
</svg></body></html>
